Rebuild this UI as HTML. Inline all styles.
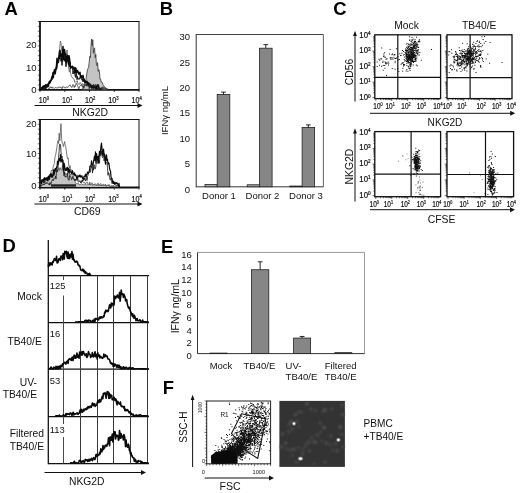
<!DOCTYPE html>
<html><head><meta charset="utf-8"><title>Figure</title>
<style>
html,body{margin:0;padding:0;background:#fff;}
body{width:520px;height:493px;overflow:hidden;font-family:"Liberation Sans",sans-serif;}
svg{display:block;filter:blur(0.3px);}
svg text{font-family:"Liberation Sans",sans-serif;}
</style></head><body>
<svg width="520" height="493" viewBox="0 0 520 493">
<defs><filter id="b1" x="-5%" y="-5%" width="110%" height="110%"><feGaussianBlur stdDeviation="0.8"/></filter><filter id="b2" x="-5%" y="-5%" width="110%" height="110%"><feGaussianBlur stdDeviation="0.45"/></filter></defs>
<rect width="520" height="493" fill="#fff"/>
<text transform="translate(4.6,14.8) scale(1.03,1)" x="0" y="0" font-size="17.9" font-weight="bold" fill="#000">A</text>
<text transform="translate(159.8,15.2) scale(1.03,1)" x="0" y="0" font-size="17.9" font-weight="bold" fill="#000">B</text>
<text transform="translate(333.3,14.7) scale(1.03,1)" x="0" y="0" font-size="17.9" font-weight="bold" fill="#000">C</text>
<text transform="translate(2.6,252.2) scale(1.03,1)" x="0" y="0" font-size="17.9" font-weight="bold" fill="#000">D</text>
<text transform="translate(161,252.7) scale(1.03,1)" x="0" y="0" font-size="17.9" font-weight="bold" fill="#000">E</text>
<text transform="translate(162.7,393.6) scale(1.03,1)" x="0" y="0" font-size="17.9" font-weight="bold" fill="#000">F</text>
<line x1="40" y1="21.0" x2="40" y2="90.6" stroke="#111" stroke-width="1.8"/>
<line x1="39.2" y1="21.5" x2="139.5" y2="21.5" stroke="#111" stroke-width="1.2"/>
<line x1="139" y1="21.5" x2="139" y2="89.8" stroke="#111" stroke-width="1.0"/>
<line x1="39" y1="89.8" x2="139.5" y2="89.8" stroke="#111" stroke-width="1.8"/>
<line x1="37.8" y1="21.5" x2="40" y2="21.5" stroke="#111" stroke-width="0.6"/>
<line x1="37.8" y1="26.378571428571426" x2="40" y2="26.378571428571426" stroke="#111" stroke-width="0.6"/>
<line x1="37.8" y1="31.257142857142856" x2="40" y2="31.257142857142856" stroke="#111" stroke-width="0.6"/>
<line x1="37.8" y1="36.135714285714286" x2="40" y2="36.135714285714286" stroke="#111" stroke-width="0.6"/>
<line x1="37.8" y1="41.01428571428571" x2="40" y2="41.01428571428571" stroke="#111" stroke-width="0.6"/>
<line x1="37.8" y1="45.89285714285714" x2="40" y2="45.89285714285714" stroke="#111" stroke-width="0.6"/>
<line x1="37.8" y1="50.77142857142857" x2="40" y2="50.77142857142857" stroke="#111" stroke-width="0.6"/>
<line x1="37.8" y1="55.65" x2="40" y2="55.65" stroke="#111" stroke-width="0.6"/>
<line x1="37.8" y1="60.528571428571425" x2="40" y2="60.528571428571425" stroke="#111" stroke-width="0.6"/>
<line x1="37.8" y1="65.40714285714284" x2="40" y2="65.40714285714284" stroke="#111" stroke-width="0.6"/>
<line x1="37.8" y1="70.28571428571428" x2="40" y2="70.28571428571428" stroke="#111" stroke-width="0.6"/>
<line x1="37.8" y1="75.16428571428571" x2="40" y2="75.16428571428571" stroke="#111" stroke-width="0.6"/>
<line x1="37.8" y1="80.04285714285714" x2="40" y2="80.04285714285714" stroke="#111" stroke-width="0.6"/>
<line x1="37.8" y1="84.92142857142858" x2="40" y2="84.92142857142858" stroke="#111" stroke-width="0.6"/>
<line x1="37.8" y1="89.8" x2="40" y2="89.8" stroke="#111" stroke-width="0.6"/>
<line x1="40.0" y1="89.8" x2="40.0" y2="92.0" stroke="#111" stroke-width="0.8"/>
<line x1="64.75" y1="89.8" x2="64.75" y2="92.0" stroke="#111" stroke-width="0.8"/>
<line x1="89.5" y1="89.8" x2="89.5" y2="92.0" stroke="#111" stroke-width="0.8"/>
<line x1="114.25" y1="89.8" x2="114.25" y2="92.0" stroke="#111" stroke-width="0.8"/>
<line x1="139.0" y1="89.8" x2="139.0" y2="92.0" stroke="#111" stroke-width="0.8"/>
<text x="36.7" y="48.0" font-size="9.6" text-anchor="end" font-weight="normal" fill="#111" >20</text>
<text x="36.7" y="71.0" font-size="9.6" text-anchor="end" font-weight="normal" fill="#111" >10</text>
<text x="36.7" y="92.80000000000001" font-size="9.6" text-anchor="end" font-weight="normal" fill="#111" >0</text>
<text transform="translate(43.9,102.8) scale(0.76,1)" x="0" y="0" font-size="9.4" text-anchor="middle" fill="#111" stroke="#111" stroke-width="0.22">10<tspan dy="-3.2" font-size="5.45">0</tspan></text>
<text transform="translate(67.10000000000001,102.8) scale(0.76,1)" x="0" y="0" font-size="9.4" text-anchor="middle" fill="#111" stroke="#111" stroke-width="0.22">10<tspan dy="-3.2" font-size="5.45">1</tspan></text>
<text transform="translate(90.2,102.8) scale(0.76,1)" x="0" y="0" font-size="9.4" text-anchor="middle" fill="#111" stroke="#111" stroke-width="0.22">10<tspan dy="-3.2" font-size="5.45">2</tspan></text>
<text transform="translate(113.4,102.8) scale(0.76,1)" x="0" y="0" font-size="9.4" text-anchor="middle" fill="#111" stroke="#111" stroke-width="0.22">10<tspan dy="-3.2" font-size="5.45">3</tspan></text>
<text transform="translate(136.70000000000002,102.8) scale(0.76,1)" x="0" y="0" font-size="9.4" text-anchor="middle" fill="#111" stroke="#111" stroke-width="0.22">10<tspan dy="-3.2" font-size="5.45">4</tspan></text>
<line x1="34.5" y1="105.5" x2="140.5" y2="105.5" stroke="#111" stroke-width="1"/>
<path d="M142.5 105.5 L137.5 103.0 L137.5 108.0 Z" fill="#111"/>
<text x="90.2" y="116.2" font-size="10.4" text-anchor="middle" font-weight="normal" fill="#111" >NKG2D</text>
<polyline points="82,89.2 82,89.2 82.6,88.29 83.2,88.19 83.8,87.34 84.4,85.57 85.0,82.93 85.6,82.45 86.2,77.73 86.8,74.13 87.4,69.82 88.0,68.57 88.6,67.46 89.2,62.19 89.8,56.33 90.4,57.71 91.0,45.51 91.6,38.99 92.2,45.85 92.8,39.79 93.4,53.21 94.0,48.86 94.6,47.86 95.2,57.66 95.8,54.45 96.4,64.36 97.0,65.77 97.6,62.66 98.2,71.49 98.8,69.49 99.4,71.53 100.0,79.2 100.6,79.1 101.2,82.08 101.8,81.9 102.4,82.82 103.0,85.15 103.6,85.72 104.2,86.12 104.8,87.86 105.4,87.64 106.0,87.95 106.6,88.71 107.2,88.94 107.8,89.14 107.8,89.2" fill="#c4c4c4" stroke="#333" stroke-width="0.8" stroke-linejoin="round"/>
<polyline points="40,88.01 40.6,87.4 41.2,89.2 41.8,88.16 42.4,86.49 43.0,88.43 43.6,87.14 44.2,86.65 44.8,87.01 45.4,85.28 46.0,85.32 46.6,86.87 47.2,86.91 47.8,84.47 48.4,83.29 49.0,82.37 49.6,82.87 50.2,80.45 50.8,79.79 51.4,77.61 52.0,78.6 52.6,79.15 53.2,76.77 53.8,73.8 54.4,70.95 55.0,70.63 55.6,67.75 56.2,67.98 56.8,62.91 57.4,63.36 58.0,60.01 58.6,59.67 59.2,57.25 59.8,47.52 60.4,41.08 61.0,43.3 61.6,50.11 62.2,58.05 62.8,61.51 63.4,57.81 64.0,58.97 64.6,60.88 65.2,54.53 65.8,53.22 66.4,57.67 67.0,49.92 67.6,59.1 68.2,61.22 68.8,69.01 69.4,72.19 70.0,68.56 70.6,72.8 71.2,75.83 71.8,76.93 72.4,77.34 73.0,78.61 73.6,78.89 74.2,79.36 74.8,82.45 75.4,82.12 76.0,81.42 76.6,81.46 77.2,80.68 77.8,83.16 78.4,84.14 79.0,84.0 79.6,84.24 80.2,82.58 80.8,83.61 81.4,84.87 82.0,83.58 82.6,83.66 83.2,84.63 83.8,84.22 84.4,85.88 85.0,85.3 85.6,84.86 86.2,84.76 86.8,85.48 87.4,85.21 88.0,86.16 88.6,85.51 89.2,86.1 89.8,85.32 90.4,85.9 91.0,85.37 91.6,85.91 92.2,86.02 92.8,86.62 93.4,87.04 94.0,85.95 94.6,87.21 95.2,87.0 95.8,88.65 96.4,87.36 97.0,88.28 97.6,87.87 98.2,87.77 98.8,88.41 99.4,87.99 100.0,88.11 100.6,89.2 101.2,89.2 101.8,89.2 102.4,89.2 103.0,89.2 103.6,88.64 104.2,88.97 104.8,89.06 105.4,89.13 106.0,89.2" fill="none" stroke="#555" stroke-width="0.8" stroke-linejoin="round"/>
<polyline points="40,88.91 40.5,88.19 41.0,88.74 41.5,89.2 42.0,88.24 42.5,89.07 43.0,86.38 43.5,88.32 44.0,85.69 44.5,86.25 45.0,88.54 45.5,84.88 46.0,87.4 46.5,85.92 47.0,84.62 47.5,84.34 48.0,85.73 48.5,83.82 49.0,82.46 49.5,81.34 50.0,82.96 50.5,80.53 51.0,80.25 51.5,79.71 52.0,76.34 52.5,76.58 53.0,72.48 53.5,72.92 54.0,72.08 54.5,69.73 55.0,73.92 55.5,69.49 56.0,69.31 56.5,65.57 57.0,58.35 57.5,63.61 58.0,59.41 58.5,62.17 59.0,56.12 59.5,50.96 60.0,56.18 60.5,53.59 61.0,54.18 61.5,57.14 62.0,54.1 62.5,55.64 63.0,46.61 63.5,59.45 64.0,54.95 64.5,49.59 65.0,53.35 65.5,53.76 66.0,62.61 66.5,57.91 67.0,60.93 67.5,55.22 68.0,60.56 68.5,63.9 69.0,55.63 69.5,58.57 70.0,62.5 70.5,68.49 71.0,67.24 71.5,67.51 72.0,66.38 72.5,66.34 73.0,67.36 73.5,68.73 74.0,67.45 74.5,72.82 75.0,72.68 75.5,67.78 76.0,68.63 76.5,73.05 77.0,71.28 77.5,70.54 78.0,71.61 78.5,73.25 79.0,74.14 79.5,72.74 80.0,72.25 80.5,76.89 81.0,76.07 81.5,75.87 82.0,77.78 82.5,78.08 83.0,75.42 83.5,78.0 84.0,79.21 84.5,81.02 85.0,80.59 85.5,81.37 86.0,82.28 86.5,81.95 87.0,81.42 87.5,83.7 88.0,84.01 88.5,82.86 89.0,83.42 89.5,84.83 90.0,84.48 90.5,84.42 91.0,85.79 91.5,87.85 92.0,85.73 92.5,85.68 93.0,85.84 93.5,86.23 94.0,88.18 94.5,86.0 95.0,86.43 95.5,86.25 96.0,87.65 96.5,88.62 97.0,86.12 97.5,86.41 98.0,84.7 98.5,86.03 99.0,88.13 99.5,88.91 100.0,88.93 100.5,88.99 101.0,89.06 101.5,89.12 102.0,89.2" fill="none" stroke="#0a0a0a" stroke-width="1.5" stroke-linejoin="round"/>
<polyline points="40,88.88 40.5,89.2 41.0,89.2 41.5,87.02 42.0,88.41 42.5,88.12 43.0,87.18 43.5,89.14 44.0,88.46 44.5,87.85 45.0,88.42 45.5,88.23 46.0,86.72 46.5,87.08 47.0,85.86 47.5,86.14 48.0,85.77 48.5,86.93 49.0,83.19 49.5,83.78 50.0,81.32 50.5,82.01 51.0,81.3 51.5,80.84 52.0,79.07 52.5,78.62 53.0,74.69 53.5,78.12 54.0,73.0 54.5,72.23 55.0,68.94 55.5,73.55 56.0,69.65 56.5,67.87 57.0,68.37 57.5,61.76 58.0,62.31 58.5,56.98 59.0,55.77 59.5,59.08 60.0,49.81 60.5,57.21 61.0,61.33 61.5,57.21 62.0,65.4 62.5,56.43 63.0,55.58 63.5,56.12 64.0,53.36 64.5,61.23 65.0,57.92 65.5,58.44 66.0,66.73 66.5,62.22 67.0,56.25 67.5,60.92 68.0,57.01 68.5,60.41 69.0,65.59 69.5,67.01 70.0,62.26 70.5,65.06 71.0,66.99 71.5,67.59 72.0,66.39 72.5,67.08 73.0,74.03 73.5,71.64 74.0,72.15 74.5,69.16 75.0,75.54 75.5,77.4 76.0,73.76 76.5,73.51 77.0,79.6 77.5,76.57 78.0,79.09 78.5,78.71 79.0,79.54 79.5,78.95 80.0,77.29 80.5,78.32 81.0,75.78 81.5,78.25 82.0,80.25 82.5,79.19 83.0,81.9 83.5,79.32 84.0,80.1 84.5,82.93 85.0,83.28 85.5,82.7 86.0,83.13 86.5,85.52 87.0,84.95 87.5,83.32 88.0,84.53 88.5,86.18 89.0,85.42 89.5,87.02 90.0,86.87 90.5,87.15 91.0,87.36 91.5,86.24 92.0,88.35 92.5,87.24 93.0,88.66 93.5,87.43 94.0,87.69 94.5,87.62 95.0,87.44 95.5,89.2 96.0,89.2 96.5,88.94 97.0,87.47 97.5,89.2 98.0,89.01 98.5,89.05 99.0,89.09 99.5,89.14 100.0,89.2" fill="none" stroke="#0a0a0a" stroke-width="1.0" stroke-linejoin="round"/>
<polyline points="40,89.03 40.6,87.71 41.2,87.16 41.8,88.55 42.4,89.2 43.0,88.49 43.6,88.06 44.2,89.02 44.8,88.05 45.4,87.37 46.0,89.0 46.6,88.33 47.2,87.45 47.8,87.48 48.4,88.45 49.0,88.14 49.6,88.48 50.2,86.74 50.8,87.9 51.4,88.07 52.0,86.82 52.6,88.17 53.2,88.07 53.8,87.66 54.4,88.23 55.0,87.7 55.6,87.52 56.2,87.34 56.8,88.27 57.4,87.82 58.0,88.03 58.6,87.49 59.2,86.73 59.8,87.74 60.4,87.45 61.0,86.94 61.6,88.37 62.2,88.74 62.8,86.43 63.4,87.04 64.0,87.39 64.6,87.29 65.2,88.23 65.8,87.21 66.4,86.94 67.0,87.27 67.6,87.71 68.2,86.73 68.8,85.79 69.4,85.57 70.0,84.77 70.6,86.25 71.2,86.54 71.8,87.52 72.4,86.0 73.0,84.46 73.6,85.06 74.2,87.56 74.8,85.74 75.4,86.48 76.0,83.39 76.6,83.33 77.2,85.28 77.8,85.59 78.4,88.59 79.0,88.79 79.6,86.66 80.2,85.56 80.8,85.49 81.4,85.69 82.0,84.64 82.6,87.49 83.2,85.56 83.8,88.41 84.4,84.66 85.0,85.16 85.6,85.5 86.2,86.09 86.8,84.0 87.4,85.04 88.0,86.16 88.6,84.05 89.2,88.9 89.8,85.92 90.4,83.7 91.0,87.0 91.6,84.96 92.2,86.03 92.8,86.43 93.4,84.11 94.0,86.52 94.6,87.55 95.2,84.24 95.8,85.12 96.4,85.75 97.0,84.54 97.6,86.25 98.2,86.87 98.8,87.84 99.4,88.35 100.0,88.13 100.6,87.86 101.2,89.01 101.8,87.2 102.4,88.91 103.0,86.68 103.6,88.49 104.2,88.62 104.8,88.38 105.4,88.08 106.0,89.03 106.6,89.11 107.2,88.87 107.8,89.18" fill="none" stroke="#222" stroke-width="0.7" stroke-linejoin="round"/>
<line x1="40" y1="119.0" x2="40" y2="188.3" stroke="#111" stroke-width="1.8"/>
<line x1="39.2" y1="119.5" x2="139.5" y2="119.5" stroke="#111" stroke-width="1.2"/>
<line x1="139" y1="119.5" x2="139" y2="187.5" stroke="#111" stroke-width="1.0"/>
<line x1="39" y1="187.5" x2="139.5" y2="187.5" stroke="#111" stroke-width="1.8"/>
<line x1="37.8" y1="119.5" x2="40" y2="119.5" stroke="#111" stroke-width="0.6"/>
<line x1="37.8" y1="124.35714285714286" x2="40" y2="124.35714285714286" stroke="#111" stroke-width="0.6"/>
<line x1="37.8" y1="129.21428571428572" x2="40" y2="129.21428571428572" stroke="#111" stroke-width="0.6"/>
<line x1="37.8" y1="134.07142857142858" x2="40" y2="134.07142857142858" stroke="#111" stroke-width="0.6"/>
<line x1="37.8" y1="138.92857142857142" x2="40" y2="138.92857142857142" stroke="#111" stroke-width="0.6"/>
<line x1="37.8" y1="143.78571428571428" x2="40" y2="143.78571428571428" stroke="#111" stroke-width="0.6"/>
<line x1="37.8" y1="148.64285714285714" x2="40" y2="148.64285714285714" stroke="#111" stroke-width="0.6"/>
<line x1="37.8" y1="153.5" x2="40" y2="153.5" stroke="#111" stroke-width="0.6"/>
<line x1="37.8" y1="158.35714285714286" x2="40" y2="158.35714285714286" stroke="#111" stroke-width="0.6"/>
<line x1="37.8" y1="163.21428571428572" x2="40" y2="163.21428571428572" stroke="#111" stroke-width="0.6"/>
<line x1="37.8" y1="168.07142857142856" x2="40" y2="168.07142857142856" stroke="#111" stroke-width="0.6"/>
<line x1="37.8" y1="172.92857142857144" x2="40" y2="172.92857142857144" stroke="#111" stroke-width="0.6"/>
<line x1="37.8" y1="177.78571428571428" x2="40" y2="177.78571428571428" stroke="#111" stroke-width="0.6"/>
<line x1="37.8" y1="182.64285714285714" x2="40" y2="182.64285714285714" stroke="#111" stroke-width="0.6"/>
<line x1="37.8" y1="187.5" x2="40" y2="187.5" stroke="#111" stroke-width="0.6"/>
<line x1="40.0" y1="187.5" x2="40.0" y2="189.7" stroke="#111" stroke-width="0.8"/>
<line x1="64.75" y1="187.5" x2="64.75" y2="189.7" stroke="#111" stroke-width="0.8"/>
<line x1="89.5" y1="187.5" x2="89.5" y2="189.7" stroke="#111" stroke-width="0.8"/>
<line x1="114.25" y1="187.5" x2="114.25" y2="189.7" stroke="#111" stroke-width="0.8"/>
<line x1="139.0" y1="187.5" x2="139.0" y2="189.7" stroke="#111" stroke-width="0.8"/>
<text x="36.7" y="126.60000000000001" font-size="9.6" text-anchor="end" font-weight="normal" fill="#111" >20</text>
<text x="36.7" y="157.4" font-size="9.6" text-anchor="end" font-weight="normal" fill="#111" >10</text>
<text x="36.7" y="188.70000000000002" font-size="9.6" text-anchor="end" font-weight="normal" fill="#111" >0</text>
<text transform="translate(43.9,201.5) scale(0.76,1)" x="0" y="0" font-size="9.4" text-anchor="middle" fill="#111" stroke="#111" stroke-width="0.22">10<tspan dy="-3.2" font-size="5.45">0</tspan></text>
<text transform="translate(67.10000000000001,201.5) scale(0.76,1)" x="0" y="0" font-size="9.4" text-anchor="middle" fill="#111" stroke="#111" stroke-width="0.22">10<tspan dy="-3.2" font-size="5.45">1</tspan></text>
<text transform="translate(90.2,201.5) scale(0.76,1)" x="0" y="0" font-size="9.4" text-anchor="middle" fill="#111" stroke="#111" stroke-width="0.22">10<tspan dy="-3.2" font-size="5.45">2</tspan></text>
<text transform="translate(113.4,201.5) scale(0.76,1)" x="0" y="0" font-size="9.4" text-anchor="middle" fill="#111" stroke="#111" stroke-width="0.22">10<tspan dy="-3.2" font-size="5.45">3</tspan></text>
<text transform="translate(136.70000000000002,201.5) scale(0.76,1)" x="0" y="0" font-size="9.4" text-anchor="middle" fill="#111" stroke="#111" stroke-width="0.22">10<tspan dy="-3.2" font-size="5.45">4</tspan></text>
<line x1="34.5" y1="204" x2="140.5" y2="204" stroke="#111" stroke-width="1"/>
<path d="M142.5 204 L137.5 201.5 L137.5 206.5 Z" fill="#111"/>
<text x="87.2" y="214.6" font-size="10.4" text-anchor="middle" font-weight="normal" fill="#111" >CD69</text>
<polyline points="41,187 41,183.85 41.6,182.59 42.2,183.39 42.8,182.66 43.4,182.41 44.0,182.68 44.6,181.31 45.2,179.74 45.8,179.74 46.4,179.15 47.0,177.88 47.6,180.22 48.2,176.25 48.8,177.67 49.4,179.03 50.0,175.84 50.6,176.93 51.2,174.06 51.8,172.76 52.4,177.08 53.0,177.23 53.6,174.26 54.2,174.43 54.8,172.11 55.4,172.25 56.0,169.61 56.6,170.15 57.2,169.67 57.8,170.75 58.4,168.39 59.0,167.73 59.6,170.23 60.2,167.83 60.8,168.4 61.4,169.92 62.0,169.39 62.6,164.83 63.2,171.23 63.8,172.45 64.4,166.51 65.0,174.08 65.6,173.61 66.2,174.81 66.8,173.42 67.4,173.68 68.0,170.79 68.6,171.91 69.2,171.67 69.8,175.89 70.4,174.34 71.0,174.97 71.6,173.42 72.2,174.35 72.8,174.72 73.4,175.87 74.0,178.03 74.6,179.96 75.2,181.71 75.8,183.34 76.4,183.67 77.0,183.07 77.6,183.7 78.2,183.77 78.8,183.81 79.4,184.77 80.0,184.63 80.6,184.61 81.2,184.04 81.8,183.72 82.4,184.54 83.0,184.41 83.6,184.66 84.2,184.73 84.8,184.63 85.4,184.12 86.0,185.01 86.6,185.2 87.2,184.69 87.8,184.54 88.4,183.92 89.0,184.69 89.6,184.34 90.2,185.05 90.8,184.76 91.4,184.22 92.0,185.21 92.6,185.35 93.2,184.58 93.8,184.67 94.4,184.14 95.0,185.54 95.6,185.04 96.2,185.07 96.8,185.85 97.4,184.58 98.0,184.86 98.6,185.6 99.2,185.27 99.8,184.95 100.4,185.64 101.0,184.91 101.6,185.42 102.2,185.33 102.8,185.02 103.4,185.91 104.0,185.34 104.6,185.45 105.2,185.25 105.8,186.1 106.4,185.94 107.0,186.25 107.6,185.3 108.2,185.37 108.8,185.9 109.4,186.27 110.0,185.8 110.6,186.49 111.2,186.42 111.8,186.9 112.4,186.21 113.0,186.74 113.6,186.89 113.6,187" fill="#c4c4c4" stroke="#555" stroke-width="0.8" stroke-linejoin="round"/>
<polyline points="40,182.36 40.6,183.57 41.2,181.38 41.8,181.65 42.4,181.91 43.0,182.61 43.6,181.89 44.2,181.96 44.8,179.2 45.4,181.84 46.0,180.07 46.6,179.7 47.2,178.58 47.8,177.96 48.4,177.92 49.0,177.33 49.6,174.33 50.2,174.96 50.8,173.07 51.4,170.09 52.0,171.01 52.6,170.33 53.2,166.42 53.8,164.86 54.4,163.56 55.0,156.76 55.6,155.03 56.2,152.03 56.8,147.7 57.4,143.51 58.0,140.51 58.6,143.56 59.2,133.19 59.8,140.77 60.4,131.73 61.0,123.7 61.6,138.33 62.2,143.31 62.8,143.74 63.4,146.51 64.0,144.09 64.6,141.5 65.2,145.12 65.8,147.12 66.4,151.26 67.0,156.18 67.6,158.65 68.2,157.89 68.8,165.69 69.4,168.31 70.0,165.47 70.6,170.56 71.2,169.57 71.8,172.58 72.4,174.63 73.0,172.85 73.6,175.21 74.2,174.44 74.8,175.81 75.4,175.75 76.0,175.64 76.6,176.86 77.2,177.1 77.8,178.43 78.4,180.15 79.0,180.57 79.6,180.69 80.2,180.65 80.8,183.14 81.4,180.28 82.0,180.47 82.6,180.98 83.2,181.88 83.8,182.82 84.4,182.37 85.0,183.19 85.6,184.09 86.2,182.57 86.8,182.14 87.4,182.23 88.0,183.98 88.6,184.51 89.2,184.65 89.8,182.07 90.4,184.71 91.0,183.69 91.6,182.85 92.2,182.89 92.8,184.93 93.4,184.89 94.0,184.15 94.6,184.32 95.2,183.79 95.8,184.33 96.4,184.57 97.0,184.03 97.6,183.5 98.2,183.14 98.8,185.66 99.4,184.7 100.0,184.08 100.6,183.49 101.2,186.05 101.8,185.03 102.4,185.39 103.0,184.07 103.6,184.51 104.2,185.73 104.8,184.99 105.4,184.04 106.0,186.12 106.6,186.1 107.2,184.99 107.8,185.13 108.4,184.68 109.0,185.84 109.6,184.6 110.2,186.6 110.8,186.32 111.4,185.82 112.0,185.56 112.6,186.82 113.2,184.99 113.8,186.0 114.4,186.77 115.0,186.77 115.6,186.91" fill="none" stroke="#555" stroke-width="0.8" stroke-linejoin="round"/>
<polyline points="40,181.66 40.5,182.55 41.0,180.9 41.5,183.58 42.0,179.5 42.5,181.36 43.0,180.2 43.5,178.92 44.0,182.77 44.5,177.59 45.0,178.49 45.5,179.48 46.0,178.19 46.5,177.81 47.0,180.37 47.5,177.68 48.0,180.95 48.5,176.03 49.0,177.59 49.5,179.36 50.0,175.16 50.5,173.99 51.0,176.43 51.5,174.31 52.0,177.42 52.5,176.05 53.0,174.59 53.5,169.74 54.0,175.16 54.5,171.27 55.0,168.83 55.5,168.64 56.0,170.9 56.5,166.75 57.0,167.84 57.5,161.05 58.0,164.63 58.5,162.87 59.0,159.2 59.5,158.35 60.0,160.81 60.5,154.51 61.0,162.08 61.5,160.38 62.0,159.25 62.5,161.25 63.0,160.24 63.5,170.33 64.0,163.06 64.5,165.2 65.0,169.11 65.5,170.45 66.0,168.79 66.5,170.4 67.0,167.31 67.5,167.73 68.0,171.54 68.5,168.36 69.0,173.04 69.5,169.6 70.0,171.97 70.5,171.59 71.0,172.07 71.5,173.45 72.0,172.39 72.5,170.58 73.0,173.05 73.5,173.95 74.0,174.25 74.5,172.87 75.0,175.55 75.5,174.66 76.0,175.51 76.5,177.44 77.0,179.26 77.5,177.68 78.0,175.41 78.5,176.55 79.0,176.96 79.5,175.82 80.0,174.91 80.5,177.05 81.0,175.98 81.5,176.89 82.0,175.79 82.5,178.34 83.0,178.04 83.5,179.46 84.0,176.43 84.5,176.04 85.0,176.52 85.5,174.01 86.0,176.04 86.5,174.5 87.0,174.52 87.5,172.03 88.0,172.73 88.5,173.19 89.0,171.62 89.5,170.07 90.0,166.13 90.5,166.18 91.0,166.06 91.5,160.95 92.0,164.22 92.5,165.09 93.0,165.39 93.5,161.3 94.0,159.19 94.5,156.0 95.0,160.54 95.5,151.92 96.0,163.07 96.5,153.66 97.0,156.64 97.5,159.77 98.0,156.62 98.5,162.43 99.0,155.49 99.5,151.25 100.0,155.65 100.5,151.14 101.0,145.95 101.5,143.06 102.0,148.65 102.5,155.08 103.0,155.08 103.5,149.08 104.0,153.87 104.5,154.05 105.0,160.23 105.5,164.14 106.0,155.95 106.5,154.85 107.0,160.47 107.5,159.2 108.0,164.13 108.5,162.68 109.0,163.64 109.5,168.21 110.0,170.42 110.5,170.97 111.0,176.86 111.5,178.77 112.0,178.46 112.5,181.45 113.0,183.43 113.5,181.21 114.0,182.45 114.5,184.01 115.0,182.35 115.5,183.05 116.0,183.99 116.5,182.74 117.0,183.07 117.5,183.44 118.0,184.53 118.5,185.37 119.0,183.33 119.5,186.97 120.0,187" fill="none" stroke="#0a0a0a" stroke-width="1.2" stroke-linejoin="round"/>
<polyline points="40,185.19 40.5,185.39 41.0,186.0 41.5,185.28 42.0,185.14 42.5,184.89 43.0,184.68 43.5,183.85 44.0,185.04 44.5,183.8 45.0,183.69 45.5,183.64 46.0,182.37 46.5,183.51 47.0,182.61 47.5,182.89 48.0,183.83 48.5,184.11 49.0,183.66 49.5,185.18 50.0,182.59 50.5,184.22 51.0,184.02 51.5,181.28 52.0,180.73 52.5,179.4 53.0,180.77 53.5,180.44 54.0,178.2 54.5,178.22 55.0,177.6 55.5,176.11 56.0,179.12 56.5,170.96 57.0,172.04 57.5,171.73 58.0,168.53 58.5,157.45 59.0,153.02 59.5,144.26 60.0,144.15 60.5,144.54 61.0,152.08 61.5,158.25 62.0,155.99 62.5,162.65 63.0,163.94 63.5,171.42 64.0,175.75 64.5,172.25 65.0,177.13 65.5,176.7 66.0,176.52 66.5,177.14 67.0,176.07 67.5,173.25 68.0,179.17 68.5,179.06 69.0,180.38 69.5,175.97 70.0,175.81 70.5,176.82 71.0,177.67 71.5,179.59 72.0,179.35 72.5,176.59 73.0,177.83 73.5,179.07 74.0,179.92 74.5,179.72 75.0,180.98 75.5,179.09 76.0,180.61 76.5,177.06 77.0,179.11 77.5,178.24 78.0,181.83 78.5,182.1 79.0,182.03 79.5,181.39 80.0,181.66 80.5,182.15 81.0,182.88 81.5,181.25 82.0,182.11 82.5,179.73 83.0,180.84 83.5,179.35 84.0,180.02 84.5,177.96 85.0,180.09 85.5,181.09 86.0,177.94 86.5,175.56 87.0,180.49 87.5,176.6 88.0,175.14 88.5,173.5 89.0,173.06 89.5,171.71 90.0,172.02 90.5,172.1 91.0,165.68 91.5,167.41 92.0,165.98 92.5,173.09 93.0,166.27 93.5,170.23 94.0,164.73 94.5,166.61 95.0,169.15 95.5,168.52 96.0,164.77 96.5,159.15 97.0,160.23 97.5,160.03 98.0,163.86 98.5,159.74 99.0,159.72 99.5,163.34 100.0,153.91 100.5,152.23 101.0,154.38 101.5,151.09 102.0,156.19 102.5,157.67 103.0,156.82 103.5,152.5 104.0,160.73 104.5,158.98 105.0,156.71 105.5,162.14 106.0,162.32 106.5,162.45 107.0,163.59 107.5,167.16 108.0,175.35 108.5,172.51 109.0,173.12 109.5,177.44 110.0,179.48 110.5,180.16 111.0,178.38 111.5,180.46 112.0,183.57 112.5,182.43 113.0,183.05 113.5,184.01 114.0,183.17 114.5,184.58 115.0,184.31 115.5,185.37 116.0,185.64 116.5,185.81 117.0,184.88 117.5,184.85 118.0,185.85 118.5,186.76 119.0,187" fill="none" stroke="#111" stroke-width="0.8" stroke-linejoin="round"/>
<rect x="51" y="184.3" width="25" height="2.4" fill="#222"/>
<line x1="196.2" y1="34.5" x2="323.4" y2="34.5" stroke="#444" stroke-width="1"/>
<line x1="323.4" y1="34.5" x2="323.4" y2="186.8" stroke="#666" stroke-width="1"/>
<line x1="196.2" y1="34.0" x2="196.2" y2="187.3" stroke="#333" stroke-width="1"/>
<line x1="196.2" y1="186.8" x2="323.4" y2="186.8" stroke="#333" stroke-width="1"/>
<text x="190.0" y="192.50000000000003" font-size="9.5" text-anchor="end" font-weight="normal" fill="#111" >0</text>
<text x="190.0" y="167.1166666666667" font-size="9.5" text-anchor="end" font-weight="normal" fill="#111" >5</text>
<text x="190.0" y="141.73333333333335" font-size="9.5" text-anchor="end" font-weight="normal" fill="#111" >10</text>
<text x="190.0" y="116.35000000000001" font-size="9.5" text-anchor="end" font-weight="normal" fill="#111" >15</text>
<text x="190.0" y="90.96666666666667" font-size="9.5" text-anchor="end" font-weight="normal" fill="#111" >20</text>
<text x="190.0" y="65.58333333333334" font-size="9.5" text-anchor="end" font-weight="normal" fill="#111" >25</text>
<text x="190.0" y="40.199999999999996" font-size="9.5" text-anchor="end" font-weight="normal" fill="#111" >30</text>
<rect x="205.0" y="184.5155" width="12.2" height="2.2845000000000084" fill="#a8a8a8" stroke="#222" stroke-width="0.8"/>
<rect x="217.2" y="94.40466666666667" width="12.6" height="92.39533333333334" fill="#868686" stroke="#222" stroke-width="0.8"/>
<line x1="223.5" y1="94.40466666666667" x2="223.5" y2="92.12016666666668" stroke="#111" stroke-width="0.9"/>
<line x1="221.1" y1="92.12016666666668" x2="225.9" y2="92.12016666666668" stroke="#111" stroke-width="0.9"/>
<rect x="247.2" y="184.76933333333335" width="12.3" height="2.0306666666666615" fill="#a8a8a8" stroke="#222" stroke-width="0.8"/>
<rect x="259.5" y="48.206999999999994" width="12.6" height="138.59300000000002" fill="#868686" stroke="#222" stroke-width="0.8"/>
<line x1="265.8" y1="48.206999999999994" x2="265.8" y2="44.65333333333333" stroke="#111" stroke-width="0.9"/>
<line x1="263.40000000000003" y1="44.65333333333333" x2="268.2" y2="44.65333333333333" stroke="#111" stroke-width="0.9"/>
<rect x="289.8" y="186.0385" width="12.3" height="0.7615000000000123" fill="#a8a8a8" stroke="#222" stroke-width="0.8"/>
<rect x="302.1" y="127.40300000000002" width="12.5" height="59.39699999999999" fill="#868686" stroke="#222" stroke-width="0.8"/>
<line x1="308.35" y1="127.40300000000002" x2="308.35" y2="124.8646666666667" stroke="#111" stroke-width="0.9"/>
<line x1="305.95000000000005" y1="124.8646666666667" x2="310.75" y2="124.8646666666667" stroke="#111" stroke-width="0.9"/>
<text x="219" y="199.4" font-size="9.5" text-anchor="middle" font-weight="normal" fill="#111" >Donor 1</text>
<text x="262.5" y="199.4" font-size="9.5" text-anchor="middle" font-weight="normal" fill="#111" >Donor 2</text>
<text x="306" y="199.4" font-size="9.5" text-anchor="middle" font-weight="normal" fill="#111" >Donor 3</text>
<text x="168.2" y="110.5" font-size="9.5" text-anchor="middle" font-weight="normal" fill="#111" transform="rotate(-90 168.2 110.5)" >IFNγ ng/mL</text>
<text x="406.5" y="28.6" font-size="10.3" text-anchor="middle" font-weight="normal" fill="#111" >Mock</text>
<text x="479.2" y="28.6" font-size="10.3" text-anchor="middle" font-weight="normal" fill="#111" >TB40/E</text>
<rect x="374.8" y="34.8" width="65.80000000000001" height="63.8" fill="none" stroke="#111" stroke-width="1.3"/>
<line x1="397.8" y1="34.8" x2="397.8" y2="98.6" stroke="#111" stroke-width="1.2"/>
<line x1="374.8" y1="77.4" x2="440.6" y2="77.4" stroke="#111" stroke-width="1.2"/>
<path d="M375.8 98.6v2.3M374.8 97.6h-2.3M380.6 98.6v1.5M374.8 92.9h-1.5M383.4 98.6v1.5M374.8 90.2h-1.5M385.4 98.6v1.5M374.8 88.3h-1.5M386.9 98.6v1.5M374.8 86.8h-1.5M388.2 98.6v1.5M374.8 85.6h-1.5M389.3 98.6v1.5M374.8 84.5h-1.5M390.2 98.6v1.5M374.8 83.6h-1.5M391.0 98.6v1.5M374.8 82.9h-1.5M391.8 98.6v2.3M374.8 82.1h-2.3M396.6 98.6v1.5M374.8 77.5h-1.5M399.4 98.6v1.5M374.8 74.8h-1.5M401.4 98.6v1.5M374.8 72.8h-1.5M402.9 98.6v1.5M374.8 71.4h-1.5M404.2 98.6v1.5M374.8 70.1h-1.5M405.2 98.6v1.5M374.8 69.1h-1.5M406.2 98.6v1.5M374.8 68.2h-1.5M407.0 98.6v1.5M374.8 67.4h-1.5M407.7 98.6v2.3M374.8 66.7h-2.3M412.5 98.6v1.5M374.8 62.0h-1.5M415.3 98.6v1.5M374.8 59.3h-1.5M417.3 98.6v1.5M374.8 57.4h-1.5M418.8 98.6v1.5M374.8 55.9h-1.5M420.1 98.6v1.5M374.8 54.7h-1.5M421.2 98.6v1.5M374.8 53.6h-1.5M422.1 98.6v1.5M374.8 52.7h-1.5M422.9 98.6v1.5M374.8 52.0h-1.5M423.7 98.6v2.3M374.8 51.2h-2.3M428.5 98.6v1.5M374.8 46.6h-1.5M431.3 98.6v1.5M374.8 43.9h-1.5M433.3 98.6v1.5M374.8 41.9h-1.5M434.8 98.6v1.5M374.8 40.5h-1.5M436.1 98.6v1.5M374.8 39.2h-1.5M437.1 98.6v1.5M374.8 38.2h-1.5M438.1 98.6v1.5M374.8 37.3h-1.5M438.9 98.6v1.5M374.8 36.5h-1.5" stroke="#111" stroke-width="0.6" fill="none"/>
<rect x="447.0" y="34.8" width="65.0" height="63.8" fill="none" stroke="#111" stroke-width="1.3"/>
<line x1="470.1" y1="34.8" x2="470.1" y2="98.6" stroke="#111" stroke-width="1.2"/>
<line x1="447.0" y1="77.6" x2="512" y2="77.6" stroke="#111" stroke-width="1.2"/>
<path d="M448.0 98.6v2.3M447.0 97.6h-2.3M452.7 98.6v1.5M447.0 92.9h-1.5M455.5 98.6v1.5M447.0 90.2h-1.5M457.5 98.6v1.5M447.0 88.3h-1.5M459.0 98.6v1.5M447.0 86.8h-1.5M460.3 98.6v1.5M447.0 85.6h-1.5M461.3 98.6v1.5M447.0 84.5h-1.5M462.2 98.6v1.5M447.0 83.6h-1.5M463.0 98.6v1.5M447.0 82.9h-1.5M463.8 98.6v2.3M447.0 82.1h-2.3M468.5 98.6v1.5M447.0 77.5h-1.5M471.3 98.6v1.5M447.0 74.8h-1.5M473.2 98.6v1.5M447.0 72.8h-1.5M474.8 98.6v1.5M447.0 71.4h-1.5M476.0 98.6v1.5M447.0 70.1h-1.5M477.1 98.6v1.5M447.0 69.1h-1.5M478.0 98.6v1.5M447.0 68.2h-1.5M478.8 98.6v1.5M447.0 67.4h-1.5M479.5 98.6v2.3M447.0 66.7h-2.3M484.2 98.6v1.5M447.0 62.0h-1.5M487.0 98.6v1.5M447.0 59.3h-1.5M489.0 98.6v1.5M447.0 57.4h-1.5M490.5 98.6v1.5M447.0 55.9h-1.5M491.8 98.6v1.5M447.0 54.7h-1.5M492.8 98.6v1.5M447.0 53.6h-1.5M493.7 98.6v1.5M447.0 52.7h-1.5M494.5 98.6v1.5M447.0 52.0h-1.5M495.2 98.6v2.3M447.0 51.2h-2.3M500.0 98.6v1.5M447.0 46.6h-1.5M502.8 98.6v1.5M447.0 43.9h-1.5M504.7 98.6v1.5M447.0 41.9h-1.5M506.3 98.6v1.5M447.0 40.5h-1.5M507.5 98.6v1.5M447.0 39.2h-1.5M508.6 98.6v1.5M447.0 38.2h-1.5M509.5 98.6v1.5M447.0 37.3h-1.5M510.3 98.6v1.5M447.0 36.5h-1.5" stroke="#111" stroke-width="0.6" fill="none"/>
<rect x="374.8" y="131.6" width="65.80000000000001" height="65.1" fill="none" stroke="#111" stroke-width="1.3"/>
<line x1="411.1" y1="131.6" x2="411.1" y2="196.7" stroke="#111" stroke-width="1.2"/>
<line x1="374.8" y1="174.1" x2="440.6" y2="174.1" stroke="#111" stroke-width="1.2"/>
<path d="M375.8 196.7v2.3M374.8 195.7h-2.3M380.6 196.7v1.5M374.8 191.0h-1.5M383.4 196.7v1.5M374.8 188.2h-1.5M385.4 196.7v1.5M374.8 186.2h-1.5M386.9 196.7v1.5M374.8 184.7h-1.5M388.2 196.7v1.5M374.8 183.4h-1.5M389.3 196.7v1.5M374.8 182.4h-1.5M390.2 196.7v1.5M374.8 181.5h-1.5M391.0 196.7v1.5M374.8 180.6h-1.5M391.8 196.7v2.3M374.8 179.9h-2.3M396.6 196.7v1.5M374.8 175.2h-1.5M399.4 196.7v1.5M374.8 172.4h-1.5M401.4 196.7v1.5M374.8 170.4h-1.5M402.9 196.7v1.5M374.8 168.9h-1.5M404.2 196.7v1.5M374.8 167.6h-1.5M405.2 196.7v1.5M374.8 166.6h-1.5M406.2 196.7v1.5M374.8 165.7h-1.5M407.0 196.7v1.5M374.8 164.9h-1.5M407.7 196.7v2.3M374.8 164.1h-2.3M412.5 196.7v1.5M374.8 159.4h-1.5M415.3 196.7v1.5M374.8 156.6h-1.5M417.3 196.7v1.5M374.8 154.7h-1.5M418.8 196.7v1.5M374.8 153.1h-1.5M420.1 196.7v1.5M374.8 151.9h-1.5M421.2 196.7v1.5M374.8 150.8h-1.5M422.1 196.7v1.5M374.8 149.9h-1.5M422.9 196.7v1.5M374.8 149.1h-1.5M423.7 196.7v2.3M374.8 148.4h-2.3M428.5 196.7v1.5M374.8 143.6h-1.5M431.3 196.7v1.5M374.8 140.8h-1.5M433.3 196.7v1.5M374.8 138.9h-1.5M434.8 196.7v1.5M374.8 137.3h-1.5M436.1 196.7v1.5M374.8 136.1h-1.5M437.1 196.7v1.5M374.8 135.0h-1.5M438.1 196.7v1.5M374.8 134.1h-1.5M438.9 196.7v1.5M374.8 133.3h-1.5" stroke="#111" stroke-width="0.6" fill="none"/>
<rect x="447.0" y="131.6" width="66.60000000000002" height="65.1" fill="none" stroke="#111" stroke-width="1.3"/>
<line x1="485.5" y1="131.6" x2="485.5" y2="196.7" stroke="#111" stroke-width="1.2"/>
<line x1="447.0" y1="174.5" x2="513.6" y2="174.5" stroke="#111" stroke-width="1.2"/>
<path d="M448.0 196.7v2.3M447.0 195.7h-2.3M452.9 196.7v1.5M447.0 191.0h-1.5M455.7 196.7v1.5M447.0 188.2h-1.5M457.7 196.7v1.5M447.0 186.2h-1.5M459.3 196.7v1.5M447.0 184.7h-1.5M460.6 196.7v1.5M447.0 183.4h-1.5M461.6 196.7v1.5M447.0 182.4h-1.5M462.6 196.7v1.5M447.0 181.5h-1.5M463.4 196.7v1.5M447.0 180.6h-1.5M464.1 196.7v2.3M447.0 179.9h-2.3M469.0 196.7v1.5M447.0 175.2h-1.5M471.9 196.7v1.5M447.0 172.4h-1.5M473.9 196.7v1.5M447.0 170.4h-1.5M475.4 196.7v1.5M447.0 168.9h-1.5M476.7 196.7v1.5M447.0 167.6h-1.5M477.8 196.7v1.5M447.0 166.6h-1.5M478.7 196.7v1.5M447.0 165.7h-1.5M479.6 196.7v1.5M447.0 164.9h-1.5M480.3 196.7v2.3M447.0 164.1h-2.3M485.2 196.7v1.5M447.0 159.4h-1.5M488.0 196.7v1.5M447.0 156.6h-1.5M490.0 196.7v1.5M447.0 154.7h-1.5M491.6 196.7v1.5M447.0 153.1h-1.5M492.9 196.7v1.5M447.0 151.9h-1.5M493.9 196.7v1.5M447.0 150.8h-1.5M494.9 196.7v1.5M447.0 149.9h-1.5M495.7 196.7v1.5M447.0 149.1h-1.5M496.5 196.7v2.3M447.0 148.4h-2.3M501.3 196.7v1.5M447.0 143.6h-1.5M504.2 196.7v1.5M447.0 140.8h-1.5M506.2 196.7v1.5M447.0 138.9h-1.5M507.7 196.7v1.5M447.0 137.3h-1.5M509.0 196.7v1.5M447.0 136.1h-1.5M510.1 196.7v1.5M447.0 135.0h-1.5M511.0 196.7v1.5M447.0 134.1h-1.5M511.9 196.7v1.5M447.0 133.3h-1.5" stroke="#111" stroke-width="0.6" fill="none"/>
<text transform="translate(370.6,37.7) scale(0.95,1)" x="0" y="0" font-size="8.2" text-anchor="end" fill="#111" stroke="#111" stroke-width="0.22">10<tspan dy="-2.7" font-size="4.92">4</tspan></text>
<text transform="translate(370.6,53.2) scale(0.95,1)" x="0" y="0" font-size="8.2" text-anchor="end" fill="#111" stroke="#111" stroke-width="0.22">10<tspan dy="-2.7" font-size="4.92">3</tspan></text>
<text transform="translate(370.6,68.6) scale(0.95,1)" x="0" y="0" font-size="8.2" text-anchor="end" fill="#111" stroke="#111" stroke-width="0.22">10<tspan dy="-2.7" font-size="4.92">2</tspan></text>
<text transform="translate(370.6,84.4) scale(0.95,1)" x="0" y="0" font-size="8.2" text-anchor="end" fill="#111" stroke="#111" stroke-width="0.22">10<tspan dy="-2.7" font-size="4.92">1</tspan></text>
<text transform="translate(370.6,100.2) scale(0.95,1)" x="0" y="0" font-size="8.2" text-anchor="end" fill="#111" stroke="#111" stroke-width="0.22">10<tspan dy="-2.7" font-size="4.92">0</tspan></text>
<text transform="translate(370.6,134.5) scale(0.95,1)" x="0" y="0" font-size="8.2" text-anchor="end" fill="#111" stroke="#111" stroke-width="0.22">10<tspan dy="-2.7" font-size="4.92">4</tspan></text>
<text transform="translate(370.6,150.4) scale(0.95,1)" x="0" y="0" font-size="8.2" text-anchor="end" fill="#111" stroke="#111" stroke-width="0.22">10<tspan dy="-2.7" font-size="4.92">3</tspan></text>
<text transform="translate(370.6,166.1) scale(0.95,1)" x="0" y="0" font-size="8.2" text-anchor="end" fill="#111" stroke="#111" stroke-width="0.22">10<tspan dy="-2.7" font-size="4.92">2</tspan></text>
<text transform="translate(370.6,182) scale(0.95,1)" x="0" y="0" font-size="8.2" text-anchor="end" fill="#111" stroke="#111" stroke-width="0.22">10<tspan dy="-2.7" font-size="4.92">1</tspan></text>
<text transform="translate(370.6,198.0) scale(0.95,1)" x="0" y="0" font-size="8.2" text-anchor="end" fill="#111" stroke="#111" stroke-width="0.22">10<tspan dy="-2.7" font-size="4.92">0</tspan></text>
<text transform="translate(378,109) scale(0.72,1)" x="0" y="0" font-size="9.0" text-anchor="middle" fill="#111" stroke="#111" stroke-width="0.22">10<tspan dy="-3.0" font-size="5.22">0</tspan></text>
<text transform="translate(390.1,109) scale(0.72,1)" x="0" y="0" font-size="9.0" text-anchor="middle" fill="#111" stroke="#111" stroke-width="0.22">10<tspan dy="-3.0" font-size="5.22">1</tspan></text>
<text transform="translate(406,109) scale(0.72,1)" x="0" y="0" font-size="9.0" text-anchor="middle" fill="#111" stroke="#111" stroke-width="0.22">10<tspan dy="-3.0" font-size="5.22">2</tspan></text>
<text transform="translate(421.3,109) scale(0.72,1)" x="0" y="0" font-size="9.0" text-anchor="middle" fill="#111" stroke="#111" stroke-width="0.22">10<tspan dy="-3.0" font-size="5.22">3</tspan></text>
<text transform="translate(437.9,109) scale(0.72,1)" x="0" y="0" font-size="9.0" text-anchor="middle" fill="#111" stroke="#111" stroke-width="0.22">10<tspan dy="-3.0" font-size="5.22">4</tspan></text>
<text transform="translate(447.3,109) scale(0.72,1)" x="0" y="0" font-size="9.0" text-anchor="middle" fill="#111" stroke="#111" stroke-width="0.22">10<tspan dy="-3.0" font-size="5.22">0</tspan></text>
<text transform="translate(462,109) scale(0.72,1)" x="0" y="0" font-size="9.0" text-anchor="middle" fill="#111" stroke="#111" stroke-width="0.22">10<tspan dy="-3.0" font-size="5.22">1</tspan></text>
<text transform="translate(481.1,109) scale(0.72,1)" x="0" y="0" font-size="9.0" text-anchor="middle" fill="#111" stroke="#111" stroke-width="0.22">10<tspan dy="-3.0" font-size="5.22">2</tspan></text>
<text transform="translate(496.6,109) scale(0.72,1)" x="0" y="0" font-size="9.0" text-anchor="middle" fill="#111" stroke="#111" stroke-width="0.22">10<tspan dy="-3.0" font-size="5.22">3</tspan></text>
<text transform="translate(511.3,109) scale(0.72,1)" x="0" y="0" font-size="9.0" text-anchor="middle" fill="#111" stroke="#111" stroke-width="0.22">10<tspan dy="-3.0" font-size="5.22">4</tspan></text>
<text transform="translate(374.2,206.6) scale(0.72,1)" x="0" y="0" font-size="9.0" text-anchor="middle" fill="#111" stroke="#111" stroke-width="0.22">10<tspan dy="-3.0" font-size="5.22">0</tspan></text>
<text transform="translate(388.4,206.6) scale(0.72,1)" x="0" y="0" font-size="9.0" text-anchor="middle" fill="#111" stroke="#111" stroke-width="0.22">10<tspan dy="-3.0" font-size="5.22">1</tspan></text>
<text transform="translate(405.3,206.6) scale(0.72,1)" x="0" y="0" font-size="9.0" text-anchor="middle" fill="#111" stroke="#111" stroke-width="0.22">10<tspan dy="-3.0" font-size="5.22">2</tspan></text>
<text transform="translate(421.3,206.6) scale(0.72,1)" x="0" y="0" font-size="9.0" text-anchor="middle" fill="#111" stroke="#111" stroke-width="0.22">10<tspan dy="-3.0" font-size="5.22">3</tspan></text>
<text transform="translate(436.8,206.6) scale(0.72,1)" x="0" y="0" font-size="9.0" text-anchor="middle" fill="#111" stroke="#111" stroke-width="0.22">10<tspan dy="-3.0" font-size="5.22">4</tspan></text>
<text transform="translate(447.8,206.6) scale(0.72,1)" x="0" y="0" font-size="9.0" text-anchor="middle" fill="#111" stroke="#111" stroke-width="0.22">10<tspan dy="-3.0" font-size="5.22">0</tspan></text>
<text transform="translate(464.1,206.6) scale(0.72,1)" x="0" y="0" font-size="9.0" text-anchor="middle" fill="#111" stroke="#111" stroke-width="0.22">10<tspan dy="-3.0" font-size="5.22">1</tspan></text>
<text transform="translate(481.1,206.6) scale(0.72,1)" x="0" y="0" font-size="9.0" text-anchor="middle" fill="#111" stroke="#111" stroke-width="0.22">10<tspan dy="-3.0" font-size="5.22">2</tspan></text>
<text transform="translate(496.6,206.6) scale(0.72,1)" x="0" y="0" font-size="9.0" text-anchor="middle" fill="#111" stroke="#111" stroke-width="0.22">10<tspan dy="-3.0" font-size="5.22">3</tspan></text>
<text transform="translate(511.3,206.6) scale(0.72,1)" x="0" y="0" font-size="9.0" text-anchor="middle" fill="#111" stroke="#111" stroke-width="0.22">10<tspan dy="-3.0" font-size="5.22">4</tspan></text>
<line x1="370" y1="113.3" x2="513.2" y2="113.3" stroke="#111" stroke-width="1"/>
<path d="M515.2 113.3 L510.20000000000005 110.8 L510.20000000000005 115.8 Z" fill="#111"/>
<line x1="370" y1="209.7" x2="513" y2="209.7" stroke="#111" stroke-width="1"/>
<path d="M515 209.7 L510 207.2 L510 212.2 Z" fill="#111"/>
<line x1="355.0" y1="101.6" x2="355.0" y2="33.7" stroke="#111" stroke-width="1"/>
<path d="M355.0 30.7 L353.1 35.9 L356.9 35.9 Z" fill="#111"/>
<line x1="355.0" y1="201.6" x2="355.0" y2="131.2" stroke="#111" stroke-width="1"/>
<path d="M355.0 128.2 L353.1 133.39999999999998 L356.9 133.39999999999998 Z" fill="#111"/>
<text x="445" y="126.4" font-size="10.1" text-anchor="middle" font-weight="normal" fill="#111" >NKG2D</text>
<text x="441.5" y="222.8" font-size="10.4" text-anchor="middle" font-weight="normal" fill="#111" >CFSE</text>
<text x="353" y="72" font-size="10.4" text-anchor="middle" font-weight="normal" fill="#111" transform="rotate(-90 353 72)" >CD56</text>
<text x="353" y="166.6" font-size="10.4" text-anchor="middle" font-weight="normal" fill="#111" transform="rotate(-90 353 166.6)" >NKG2D</text>
<path d="M412.2 60.5h1v1h-1zM407.9 53.3h1v1h-1zM411.1 62.7h1v1h-1zM411.2 51.0h1v1h-1zM407.9 56.7h1v1h-1zM412.7 55.1h1v1h-1zM409.1 55.6h1v1h-1zM410.6 52.9h1v1h-1zM410.1 57.2h1v1h-1zM414.6 54.2h1v1h-1zM412.7 51.0h1v1h-1zM412.4 55.9h1v1h-1zM408.6 56.6h1v1h-1zM412.6 53.9h1v1h-1zM412.9 61.1h1v1h-1zM414.5 60.9h1v1h-1zM406.6 58.8h1v1h-1zM408.2 60.6h1v1h-1zM410.3 56.9h1v1h-1zM411.4 53.3h1v1h-1zM410.4 53.1h1v1h-1zM415.8 52.1h1v1h-1zM410.1 49.1h1v1h-1zM406.0 54.3h1v1h-1zM412.3 58.4h1v1h-1zM410.9 53.3h1v1h-1zM415.2 50.1h1v1h-1zM407.7 58.9h1v1h-1zM407.4 58.2h1v1h-1zM412.8 54.8h1v1h-1zM411.2 55.8h1v1h-1zM408.2 44.1h1v1h-1zM406.7 57.3h1v1h-1zM405.6 55.6h1v1h-1zM410.7 61.2h1v1h-1zM406.3 55.4h1v1h-1zM410.7 58.0h1v1h-1zM406.3 65.0h1v1h-1zM407.8 61.3h1v1h-1zM409.5 58.0h1v1h-1zM414.7 57.2h1v1h-1zM410.5 51.9h1v1h-1zM408.3 51.1h1v1h-1zM415.7 47.8h1v1h-1zM403.0 65.4h1v1h-1zM413.6 53.3h1v1h-1zM412.4 51.9h1v1h-1zM408.5 58.7h1v1h-1zM411.2 53.9h1v1h-1zM414.6 57.4h1v1h-1zM410.5 51.2h1v1h-1zM410.5 54.7h1v1h-1zM409.9 59.4h1v1h-1zM408.5 57.8h1v1h-1zM412.3 56.7h1v1h-1zM416.5 46.7h1v1h-1zM409.9 51.4h1v1h-1zM409.9 66.3h1v1h-1zM405.5 56.6h1v1h-1zM411.9 55.8h1v1h-1zM412.6 48.9h1v1h-1zM412.8 51.2h1v1h-1zM406.7 59.6h1v1h-1zM411.4 52.6h1v1h-1zM407.8 56.1h1v1h-1zM410.0 55.4h1v1h-1zM407.3 47.8h1v1h-1zM413.7 55.4h1v1h-1zM406.6 51.0h1v1h-1zM408.1 55.1h1v1h-1zM404.1 63.9h1v1h-1zM411.2 54.3h1v1h-1zM411.0 56.6h1v1h-1zM413.0 55.6h1v1h-1zM413.6 61.0h1v1h-1zM409.2 54.6h1v1h-1zM407.6 56.0h1v1h-1zM408.0 56.8h1v1h-1zM410.9 57.9h1v1h-1zM406.8 61.6h1v1h-1zM409.2 55.9h1v1h-1zM408.6 48.5h1v1h-1zM410.8 48.6h1v1h-1zM413.1 55.1h1v1h-1zM414.4 57.0h1v1h-1zM412.0 61.0h1v1h-1zM409.9 62.3h1v1h-1zM409.7 57.2h1v1h-1zM408.2 58.9h1v1h-1zM411.9 53.3h1v1h-1zM406.5 57.2h1v1h-1zM411.2 55.0h1v1h-1zM407.3 54.1h1v1h-1zM409.3 45.7h1v1h-1zM408.4 62.5h1v1h-1zM406.5 56.5h1v1h-1zM414.7 57.1h1v1h-1zM412.6 54.5h1v1h-1zM406.3 69.1h1v1h-1zM410.9 56.7h1v1h-1zM414.6 57.6h1v1h-1zM410.2 51.5h1v1h-1zM409.6 55.6h1v1h-1zM408.1 53.2h1v1h-1zM407.2 56.6h1v1h-1zM408.4 58.3h1v1h-1zM412.8 56.2h1v1h-1zM410.1 62.3h1v1h-1zM411.8 49.4h1v1h-1zM408.0 57.6h1v1h-1zM407.6 60.0h1v1h-1zM405.1 50.1h1v1h-1zM412.8 57.3h1v1h-1zM405.6 58.0h1v1h-1zM413.8 50.1h1v1h-1zM406.7 52.3h1v1h-1zM407.3 50.0h1v1h-1zM408.7 50.7h1v1h-1zM410.2 65.0h1v1h-1zM407.1 60.8h1v1h-1zM413.3 45.4h1v1h-1zM410.3 55.9h1v1h-1zM409.1 59.6h1v1h-1zM408.8 57.9h1v1h-1zM408.9 55.9h1v1h-1zM407.8 66.0h1v1h-1zM409.9 51.5h1v1h-1zM415.4 60.4h1v1h-1zM409.5 53.6h1v1h-1zM408.0 61.8h1v1h-1zM409.1 53.5h1v1h-1zM412.4 54.0h1v1h-1zM409.9 63.9h1v1h-1zM412.4 60.1h1v1h-1zM411.2 60.8h1v1h-1zM409.5 60.1h1v1h-1zM412.9 53.2h1v1h-1zM406.4 59.5h1v1h-1zM409.7 58.6h1v1h-1zM408.3 58.8h1v1h-1zM412.7 64.6h1v1h-1zM415.0 55.7h1v1h-1zM414.0 52.0h1v1h-1zM413.3 55.3h1v1h-1zM413.7 56.0h1v1h-1zM409.4 53.4h1v1h-1zM413.5 54.9h1v1h-1zM412.0 57.2h1v1h-1zM404.3 60.6h1v1h-1zM409.0 58.0h1v1h-1zM411.3 48.2h1v1h-1zM409.1 56.1h1v1h-1zM411.1 59.4h1v1h-1zM408.1 55.8h1v1h-1zM411.7 47.9h1v1h-1zM415.2 50.2h1v1h-1zM413.7 55.2h1v1h-1zM415.3 58.3h1v1h-1zM409.9 49.2h1v1h-1zM410.4 57.2h1v1h-1zM411.5 50.3h1v1h-1zM407.7 53.7h1v1h-1zM410.8 52.2h1v1h-1zM409.7 59.9h1v1h-1zM408.8 61.9h1v1h-1zM410.8 54.7h1v1h-1zM413.1 56.9h1v1h-1zM409.2 53.9h1v1h-1zM409.9 57.4h1v1h-1zM413.2 55.9h1v1h-1zM408.3 51.3h1v1h-1zM410.7 57.3h1v1h-1zM413.2 52.7h1v1h-1zM406.4 60.7h1v1h-1zM409.5 51.3h1v1h-1zM414.6 57.9h1v1h-1zM410.2 57.1h1v1h-1zM407.9 60.8h1v1h-1zM408.8 54.6h1v1h-1zM409.2 51.7h1v1h-1zM412.9 61.7h1v1h-1zM412.1 46.9h1v1h-1zM409.2 53.7h1v1h-1zM411.0 47.0h1v1h-1zM404.0 56.4h1v1h-1zM412.7 54.2h1v1h-1zM416.1 50.3h1v1h-1zM410.1 55.4h1v1h-1zM407.7 61.4h1v1h-1zM406.3 53.1h1v1h-1zM409.0 54.5h1v1h-1zM413.1 52.7h1v1h-1zM411.4 53.6h1v1h-1zM413.6 54.6h1v1h-1zM410.7 49.1h1v1h-1zM412.0 52.7h1v1h-1zM412.5 57.1h1v1h-1zM411.5 60.0h1v1h-1zM411.1 52.1h1v1h-1zM410.4 56.5h1v1h-1zM406.7 59.7h1v1h-1zM414.1 55.5h1v1h-1zM410.3 57.8h1v1h-1zM413.1 52.7h1v1h-1zM412.7 52.0h1v1h-1zM411.5 57.5h1v1h-1zM406.4 60.0h1v1h-1zM410.6 49.0h1v1h-1zM408.8 53.9h1v1h-1zM407.5 58.6h1v1h-1zM407.8 57.0h1v1h-1zM407.0 56.1h1v1h-1zM415.1 55.8h1v1h-1zM405.7 53.8h1v1h-1zM409.6 49.6h1v1h-1zM412.7 54.8h1v1h-1zM409.8 56.3h1v1h-1zM408.1 52.1h1v1h-1zM401.4 52.7h1v1h-1zM410.7 58.5h1v1h-1zM409.5 48.8h1v1h-1zM409.1 56.5h1v1h-1zM406.4 62.9h1v1h-1zM406.9 57.2h1v1h-1zM407.0 60.8h1v1h-1zM406.5 53.7h1v1h-1zM413.1 49.8h1v1h-1zM408.5 58.7h1v1h-1zM411.0 48.6h1v1h-1zM411.7 54.2h1v1h-1z" fill="#111"/>
<path d="M416.2 44.1h1v1h-1zM411.5 37.1h1v1h-1zM410.1 63.3h1v1h-1zM418.0 41.1h1v1h-1zM408.0 52.3h1v1h-1zM398.3 71.1h1v1h-1zM413.6 55.2h1v1h-1zM415.2 48.2h1v1h-1zM411.5 58.5h1v1h-1zM413.9 47.8h1v1h-1zM404.8 60.3h1v1h-1zM412.3 44.3h1v1h-1zM415.6 55.0h1v1h-1zM412.5 52.7h1v1h-1zM413.0 62.0h1v1h-1zM409.1 64.4h1v1h-1zM411.7 55.5h1v1h-1zM417.5 51.2h1v1h-1zM412.5 48.1h1v1h-1zM410.6 54.1h1v1h-1zM408.2 49.4h1v1h-1zM414.7 58.7h1v1h-1zM406.5 50.4h1v1h-1zM414.2 59.5h1v1h-1zM406.0 52.6h1v1h-1zM415.8 64.5h1v1h-1zM415.0 42.5h1v1h-1zM416.4 49.8h1v1h-1zM409.2 56.6h1v1h-1zM406.3 49.7h1v1h-1zM397.5 68.2h1v1h-1zM411.7 49.4h1v1h-1zM410.7 52.6h1v1h-1zM408.2 49.1h1v1h-1zM409.1 36.2h1v1h-1zM403.0 54.4h1v1h-1zM416.8 53.4h1v1h-1zM414.2 56.5h1v1h-1zM409.6 55.9h1v1h-1zM410.5 49.9h1v1h-1zM410.4 56.1h1v1h-1zM408.5 48.8h1v1h-1zM411.5 53.0h1v1h-1zM411.5 60.8h1v1h-1zM411.5 52.6h1v1h-1zM407.7 46.8h1v1h-1zM413.1 56.4h1v1h-1zM413.0 55.8h1v1h-1zM408.1 57.4h1v1h-1zM411.5 57.3h1v1h-1zM408.7 62.5h1v1h-1zM415.4 43.8h1v1h-1zM410.2 53.4h1v1h-1zM412.9 61.2h1v1h-1zM403.3 64.4h1v1h-1zM413.7 48.2h1v1h-1zM408.0 58.8h1v1h-1zM409.6 50.5h1v1h-1zM409.0 68.2h1v1h-1zM402.2 70.7h1v1h-1zM403.7 64.7h1v1h-1zM408.5 54.8h1v1h-1zM407.8 52.1h1v1h-1zM416.6 44.5h1v1h-1zM400.5 55.0h1v1h-1zM399.3 53.2h1v1h-1zM409.9 48.9h1v1h-1zM408.1 67.5h1v1h-1zM420.8 59.7h1v1h-1zM417.7 52.4h1v1h-1zM407.1 49.7h1v1h-1zM405.7 49.8h1v1h-1zM408.2 58.7h1v1h-1zM416.7 53.1h1v1h-1zM413.7 46.7h1v1h-1zM413.3 46.0h1v1h-1zM410.3 66.0h1v1h-1zM412.3 50.7h1v1h-1zM413.2 47.1h1v1h-1zM411.1 46.8h1v1h-1zM414.6 50.6h1v1h-1zM410.9 55.1h1v1h-1zM411.8 54.7h1v1h-1zM410.9 51.5h1v1h-1zM413.0 55.3h1v1h-1zM415.4 60.2h1v1h-1zM417.3 50.1h1v1h-1zM409.0 57.0h1v1h-1zM411.2 61.3h1v1h-1zM410.6 60.1h1v1h-1zM406.2 60.9h1v1h-1zM409.4 47.9h1v1h-1zM405.0 48.6h1v1h-1zM408.3 65.7h1v1h-1zM415.0 54.9h1v1h-1zM409.1 56.7h1v1h-1zM405.8 43.6h1v1h-1zM406.3 55.7h1v1h-1zM406.5 48.4h1v1h-1zM406.0 46.7h1v1h-1zM408.2 46.0h1v1h-1zM410.6 41.1h1v1h-1zM407.1 47.7h1v1h-1zM408.4 57.7h1v1h-1zM406.7 54.6h1v1h-1zM407.7 55.2h1v1h-1zM412.5 49.9h1v1h-1zM414.7 44.5h1v1h-1zM418.4 41.2h1v1h-1zM412.2 57.2h1v1h-1zM417.1 49.5h1v1h-1zM413.5 54.3h1v1h-1zM413.7 54.9h1v1h-1zM411.6 53.4h1v1h-1zM415.4 52.8h1v1h-1zM409.3 45.3h1v1h-1zM407.4 45.4h1v1h-1zM415.2 59.0h1v1h-1zM405.8 55.2h1v1h-1zM415.3 48.7h1v1h-1zM407.4 43.1h1v1h-1zM407.9 54.7h1v1h-1zM411.9 57.8h1v1h-1zM412.2 58.9h1v1h-1zM417.5 54.6h1v1h-1zM411.3 42.5h1v1h-1zM412.9 55.1h1v1h-1zM417.9 40.7h1v1h-1zM409.2 39.4h1v1h-1zM411.5 58.2h1v1h-1zM405.8 58.5h1v1h-1zM408.3 58.2h1v1h-1zM411.6 48.2h1v1h-1zM403.1 51.0h1v1h-1zM412.9 57.1h1v1h-1zM407.8 58.4h1v1h-1zM418.5 41.6h1v1h-1zM411.7 54.3h1v1h-1zM406.1 50.4h1v1h-1zM419.3 51.9h1v1h-1zM414.6 44.5h1v1h-1zM413.0 54.3h1v1h-1zM414.1 41.9h1v1h-1zM400.6 63.7h1v1h-1zM417.1 52.6h1v1h-1zM414.6 39.3h1v1h-1zM416.3 56.4h1v1h-1zM404.7 52.0h1v1h-1zM416.8 65.3h1v1h-1zM412.7 51.2h1v1h-1zM405.2 52.9h1v1h-1zM406.7 57.1h1v1h-1zM411.1 64.3h1v1h-1zM405.6 55.0h1v1h-1zM406.8 54.6h1v1h-1zM416.7 42.6h1v1h-1zM410.2 59.3h1v1h-1zM404.3 54.0h1v1h-1zM418.9 39.2h1v1h-1zM418.8 54.4h1v1h-1zM416.4 50.9h1v1h-1zM410.9 48.4h1v1h-1zM410.7 55.6h1v1h-1zM402.5 61.9h1v1h-1zM418.1 49.3h1v1h-1zM402.4 67.8h1v1h-1zM405.9 52.3h1v1h-1zM408.5 67.5h1v1h-1zM403.7 58.9h1v1h-1z" fill="#111"/>
<path d="M411.5 39.3h1v1h-1zM410.2 43.5h1v1h-1zM405.5 50.3h1v1h-1zM413.6 45.6h1v1h-1zM413.8 46.3h1v1h-1zM412.8 46.1h1v1h-1zM416.2 45.7h1v1h-1zM412.4 47.6h1v1h-1zM414.4 45.1h1v1h-1zM415.2 47.6h1v1h-1zM410.0 47.1h1v1h-1zM415.1 41.1h1v1h-1zM418.2 46.8h1v1h-1zM414.1 41.0h1v1h-1zM412.5 41.9h1v1h-1zM419.2 41.1h1v1h-1zM416.1 36.8h1v1h-1zM414.4 47.7h1v1h-1zM413.3 38.6h1v1h-1zM412.7 45.0h1v1h-1zM412.9 43.0h1v1h-1zM413.9 43.7h1v1h-1zM410.5 45.0h1v1h-1zM416.7 46.3h1v1h-1zM410.9 44.0h1v1h-1zM419.1 40.4h1v1h-1zM415.9 42.6h1v1h-1zM417.1 44.5h1v1h-1zM417.8 47.1h1v1h-1zM413.9 45.6h1v1h-1zM413.3 47.0h1v1h-1zM413.7 40.7h1v1h-1zM412.5 48.3h1v1h-1zM416.1 44.6h1v1h-1zM412.0 39.4h1v1h-1zM415.0 44.7h1v1h-1zM409.3 43.8h1v1h-1zM417.4 44.3h1v1h-1zM413.8 45.2h1v1h-1zM415.2 46.2h1v1h-1zM412.5 44.3h1v1h-1zM409.2 39.8h1v1h-1zM413.5 43.0h1v1h-1zM411.3 40.6h1v1h-1zM417.1 44.2h1v1h-1z" fill="#111"/>
<path d="M390.5 59.1h1v1h-1zM410.3 63.2h1v1h-1zM388.3 62.8h1v1h-1zM383.5 55.5h1v1h-1zM390.6 57.2h1v1h-1zM392.5 58.7h1v1h-1zM381.2 47.5h1v1h-1zM386.5 58.2h1v1h-1zM393.4 54.6h1v1h-1zM385.4 63.6h1v1h-1zM392.0 53.6h1v1h-1zM397.4 56.1h1v1h-1zM395.2 58.1h1v1h-1zM384.1 52.2h1v1h-1zM386.1 75.0h1v1h-1zM382.7 69.7h1v1h-1zM396.0 57.6h1v1h-1zM394.6 68.7h1v1h-1zM384.9 56.7h1v1h-1zM394.6 62.2h1v1h-1zM401.5 62.8h1v1h-1zM379.2 59.7h1v1h-1zM378.9 64.8h1v1h-1zM391.8 57.4h1v1h-1zM381.0 65.7h1v1h-1zM384.4 67.7h1v1h-1zM380.3 58.3h1v1h-1zM383.3 53.5h1v1h-1zM405.6 70.6h1v1h-1zM382.7 65.0h1v1h-1zM394.4 57.9h1v1h-1zM384.6 61.6h1v1h-1zM390.2 57.8h1v1h-1zM381.2 58.4h1v1h-1zM384.1 65.0h1v1h-1zM387.6 61.5h1v1h-1zM384.4 56.8h1v1h-1zM386.3 58.2h1v1h-1zM376.7 66.0h1v1h-1zM393.4 56.8h1v1h-1zM391.4 54.2h1v1h-1zM378.5 58.8h1v1h-1zM397.7 59.5h1v1h-1zM376.7 61.6h1v1h-1zM383.2 55.6h1v1h-1zM389.6 49.1h1v1h-1zM394.6 60.8h1v1h-1zM383.1 55.9h1v1h-1zM391.7 68.1h1v1h-1zM382.3 61.9h1v1h-1zM403.4 64.1h1v1h-1zM385.0 62.4h1v1h-1zM388.0 64.5h1v1h-1zM389.7 57.2h1v1h-1zM386.5 62.7h1v1h-1zM382.6 60.8h1v1h-1z" fill="#111"/>
<path d="M431.0 48.9h1v1h-1zM408.9 57.4h1v1h-1zM394.4 54.3h1v1h-1zM398.8 59.0h1v1h-1zM409.6 70.1h1v1h-1zM407.4 70.8h1v1h-1zM410.0 60.7h1v1h-1zM401.9 49.9h1v1h-1zM385.5 58.7h1v1h-1zM402.4 62.7h1v1h-1zM408.3 46.9h1v1h-1zM395.9 48.3h1v1h-1zM416.2 58.3h1v1h-1zM405.7 50.4h1v1h-1zM389.1 53.6h1v1h-1zM403.0 63.9h1v1h-1zM386.2 62.6h1v1h-1zM394.0 54.1h1v1h-1zM400.2 55.1h1v1h-1zM409.6 68.0h1v1h-1z" fill="#111"/>
<path d="M466.9 48.5h1v1h-1zM473.8 68.3h1v1h-1zM470.3 61.4h1v1h-1zM473.6 58.1h1v1h-1zM471.8 60.3h1v1h-1zM467.5 49.0h1v1h-1zM461.8 61.7h1v1h-1zM470.3 55.2h1v1h-1zM459.5 58.3h1v1h-1zM468.2 51.4h1v1h-1zM465.5 67.4h1v1h-1zM473.7 57.8h1v1h-1zM469.7 53.4h1v1h-1zM467.1 59.9h1v1h-1zM465.2 56.2h1v1h-1zM474.9 47.4h1v1h-1zM465.4 65.7h1v1h-1zM470.0 56.3h1v1h-1zM465.2 50.5h1v1h-1zM473.2 41.8h1v1h-1zM470.3 52.6h1v1h-1zM468.1 46.2h1v1h-1zM472.0 57.5h1v1h-1zM469.6 57.6h1v1h-1zM463.2 58.9h1v1h-1zM470.4 54.9h1v1h-1zM456.1 60.2h1v1h-1zM468.9 50.5h1v1h-1zM468.7 62.1h1v1h-1zM468.1 62.4h1v1h-1zM466.4 53.3h1v1h-1zM469.5 51.3h1v1h-1zM461.8 60.2h1v1h-1zM468.5 58.8h1v1h-1zM465.1 55.2h1v1h-1zM470.4 52.9h1v1h-1zM467.6 57.4h1v1h-1zM465.5 58.3h1v1h-1zM462.7 60.6h1v1h-1zM479.0 55.0h1v1h-1zM466.9 48.8h1v1h-1zM463.9 56.4h1v1h-1zM465.5 59.5h1v1h-1zM469.1 59.5h1v1h-1zM467.6 60.2h1v1h-1zM473.9 49.6h1v1h-1zM468.1 55.5h1v1h-1zM468.2 61.6h1v1h-1zM467.2 52.2h1v1h-1zM463.2 51.0h1v1h-1zM468.1 60.4h1v1h-1zM468.7 52.1h1v1h-1zM467.9 51.9h1v1h-1zM472.5 55.1h1v1h-1zM474.2 57.0h1v1h-1zM471.0 50.6h1v1h-1zM470.5 53.4h1v1h-1zM466.4 57.7h1v1h-1zM474.9 56.0h1v1h-1zM476.5 56.3h1v1h-1zM463.3 55.6h1v1h-1zM476.0 56.1h1v1h-1zM469.0 53.8h1v1h-1zM469.3 57.9h1v1h-1zM467.0 56.5h1v1h-1zM469.8 50.6h1v1h-1zM467.7 53.1h1v1h-1zM466.3 52.9h1v1h-1zM466.3 53.2h1v1h-1zM475.5 52.8h1v1h-1zM470.1 51.9h1v1h-1zM469.3 58.1h1v1h-1zM474.9 62.0h1v1h-1zM467.0 65.3h1v1h-1zM469.1 61.8h1v1h-1zM468.5 59.8h1v1h-1zM468.4 50.0h1v1h-1zM471.0 54.0h1v1h-1zM468.3 57.6h1v1h-1zM470.8 67.1h1v1h-1zM464.7 55.5h1v1h-1zM465.2 63.5h1v1h-1zM467.7 53.9h1v1h-1zM470.6 56.0h1v1h-1zM470.9 48.6h1v1h-1zM468.9 59.0h1v1h-1zM466.6 62.9h1v1h-1zM468.5 52.8h1v1h-1zM467.2 59.3h1v1h-1zM472.8 52.5h1v1h-1zM471.0 53.8h1v1h-1zM465.4 53.0h1v1h-1zM471.6 53.1h1v1h-1zM469.4 63.7h1v1h-1zM472.6 52.9h1v1h-1zM467.7 57.9h1v1h-1zM460.8 62.4h1v1h-1zM466.0 60.7h1v1h-1zM466.1 55.7h1v1h-1zM471.9 58.0h1v1h-1zM475.6 51.4h1v1h-1zM466.5 64.1h1v1h-1zM470.8 50.0h1v1h-1zM467.0 58.8h1v1h-1zM466.9 50.2h1v1h-1zM468.9 58.2h1v1h-1zM473.6 59.5h1v1h-1zM471.8 51.3h1v1h-1zM464.2 53.2h1v1h-1zM470.9 59.5h1v1h-1zM461.6 61.5h1v1h-1zM472.1 61.9h1v1h-1zM471.6 59.5h1v1h-1zM469.6 54.5h1v1h-1zM468.2 56.2h1v1h-1zM464.4 57.3h1v1h-1zM472.5 53.2h1v1h-1zM473.4 50.3h1v1h-1zM470.3 51.9h1v1h-1zM472.7 57.9h1v1h-1zM472.3 58.5h1v1h-1zM470.6 60.6h1v1h-1zM469.4 44.5h1v1h-1zM469.2 58.3h1v1h-1zM460.0 64.9h1v1h-1zM468.4 61.0h1v1h-1zM467.6 57.4h1v1h-1zM465.5 56.2h1v1h-1zM462.7 59.6h1v1h-1zM467.2 53.7h1v1h-1zM465.8 52.7h1v1h-1zM468.5 55.6h1v1h-1zM467.5 62.8h1v1h-1zM464.5 55.7h1v1h-1zM463.6 56.8h1v1h-1zM467.9 47.9h1v1h-1zM469.9 46.1h1v1h-1zM466.5 55.5h1v1h-1zM463.6 64.3h1v1h-1zM469.2 49.7h1v1h-1zM470.0 57.3h1v1h-1zM466.4 53.0h1v1h-1zM472.1 65.4h1v1h-1zM469.5 65.6h1v1h-1zM462.0 50.9h1v1h-1zM468.9 53.0h1v1h-1zM469.5 64.3h1v1h-1zM464.6 59.6h1v1h-1zM468.4 50.1h1v1h-1zM467.7 51.1h1v1h-1z" fill="#111"/>
<path d="M449.9 68.0h1v1h-1zM466.1 54.5h1v1h-1zM470.9 51.6h1v1h-1zM482.1 59.6h1v1h-1zM462.8 62.7h1v1h-1zM453.5 62.3h1v1h-1zM471.7 62.9h1v1h-1zM467.7 51.8h1v1h-1zM466.1 50.4h1v1h-1zM465.3 54.7h1v1h-1zM457.3 63.3h1v1h-1zM480.1 65.1h1v1h-1zM460.6 56.4h1v1h-1zM455.8 55.9h1v1h-1zM464.8 60.8h1v1h-1zM460.0 58.8h1v1h-1zM454.1 56.4h1v1h-1zM474.4 64.8h1v1h-1zM467.8 58.4h1v1h-1zM465.3 54.3h1v1h-1zM453.9 62.1h1v1h-1zM454.4 61.4h1v1h-1zM453.8 58.8h1v1h-1zM476.8 60.1h1v1h-1zM462.5 59.7h1v1h-1zM450.7 64.7h1v1h-1zM456.9 54.3h1v1h-1zM457.4 59.1h1v1h-1zM457.5 55.2h1v1h-1zM466.9 58.7h1v1h-1zM473.2 61.5h1v1h-1zM472.9 50.8h1v1h-1zM463.9 60.9h1v1h-1zM470.4 55.6h1v1h-1zM468.2 63.6h1v1h-1zM455.7 54.2h1v1h-1zM456.5 60.0h1v1h-1zM454.2 59.1h1v1h-1zM459.4 53.0h1v1h-1zM448.7 72.1h1v1h-1zM473.3 62.8h1v1h-1zM450.4 64.2h1v1h-1zM460.3 51.5h1v1h-1zM458.6 56.0h1v1h-1zM476.2 57.5h1v1h-1zM462.8 60.7h1v1h-1zM467.0 50.8h1v1h-1zM472.5 58.4h1v1h-1zM471.3 66.5h1v1h-1zM460.5 71.0h1v1h-1zM460.5 56.8h1v1h-1zM461.6 55.1h1v1h-1zM458.7 61.7h1v1h-1zM471.9 61.1h1v1h-1zM461.1 54.6h1v1h-1zM466.8 55.5h1v1h-1zM478.7 61.8h1v1h-1zM460.8 61.1h1v1h-1zM464.9 53.7h1v1h-1zM460.6 50.1h1v1h-1zM460.6 64.1h1v1h-1zM459.4 67.9h1v1h-1zM461.6 62.4h1v1h-1zM467.0 54.2h1v1h-1zM454.1 61.5h1v1h-1zM469.6 57.4h1v1h-1zM462.1 42.8h1v1h-1zM458.0 63.7h1v1h-1zM471.7 59.3h1v1h-1zM457.0 63.6h1v1h-1zM460.9 62.7h1v1h-1zM474.9 51.9h1v1h-1zM461.1 59.8h1v1h-1zM466.4 58.4h1v1h-1zM470.2 62.5h1v1h-1zM458.8 58.1h1v1h-1zM471.6 51.5h1v1h-1zM458.7 47.3h1v1h-1zM456.3 69.5h1v1h-1zM480.3 54.4h1v1h-1zM478.0 59.5h1v1h-1zM466.8 57.4h1v1h-1zM472.8 49.5h1v1h-1zM475.3 58.4h1v1h-1zM463.8 48.9h1v1h-1zM482.8 61.1h1v1h-1zM466.0 58.7h1v1h-1zM471.7 55.1h1v1h-1zM466.5 62.5h1v1h-1zM458.5 55.5h1v1h-1zM473.3 52.8h1v1h-1zM457.2 62.0h1v1h-1zM480.4 66.7h1v1h-1zM456.4 70.6h1v1h-1zM453.4 57.3h1v1h-1zM467.3 63.3h1v1h-1zM470.1 60.7h1v1h-1zM449.2 51.3h1v1h-1zM463.9 61.3h1v1h-1zM464.0 55.1h1v1h-1zM466.1 63.5h1v1h-1zM477.8 60.9h1v1h-1zM458.8 59.1h1v1h-1zM464.3 69.7h1v1h-1zM466.7 62.7h1v1h-1zM472.0 58.6h1v1h-1zM459.0 50.0h1v1h-1zM458.5 63.3h1v1h-1zM470.5 47.3h1v1h-1zM460.5 58.9h1v1h-1zM469.8 55.4h1v1h-1zM460.5 58.5h1v1h-1zM466.9 58.0h1v1h-1zM457.0 57.5h1v1h-1zM464.2 54.9h1v1h-1zM462.1 57.2h1v1h-1zM450.9 69.3h1v1h-1zM462.7 62.7h1v1h-1zM478.9 58.5h1v1h-1zM456.9 58.8h1v1h-1zM457.1 57.0h1v1h-1zM469.4 53.6h1v1h-1zM468.1 59.0h1v1h-1zM475.8 59.7h1v1h-1zM470.4 61.0h1v1h-1zM460.0 57.0h1v1h-1zM455.9 52.8h1v1h-1zM480.1 50.9h1v1h-1zM472.7 56.1h1v1h-1zM454.5 59.4h1v1h-1zM470.3 62.6h1v1h-1zM472.5 57.0h1v1h-1zM466.8 54.2h1v1h-1zM457.1 62.6h1v1h-1zM470.6 56.2h1v1h-1zM463.3 54.9h1v1h-1zM463.5 51.8h1v1h-1zM464.5 57.8h1v1h-1zM461.8 69.5h1v1h-1zM457.0 60.2h1v1h-1zM468.8 53.2h1v1h-1zM470.3 52.6h1v1h-1zM466.4 58.6h1v1h-1zM474.9 47.9h1v1h-1zM475.5 71.9h1v1h-1zM468.2 51.8h1v1h-1zM464.4 51.2h1v1h-1zM469.5 58.3h1v1h-1zM453.9 68.7h1v1h-1zM461.1 66.5h1v1h-1zM460.3 56.3h1v1h-1zM453.2 60.8h1v1h-1zM461.9 53.1h1v1h-1zM477.4 55.7h1v1h-1zM479.3 58.1h1v1h-1zM448.4 51.3h1v1h-1zM464.8 67.1h1v1h-1zM461.3 52.8h1v1h-1zM456.4 64.5h1v1h-1zM475.1 55.6h1v1h-1zM455.4 52.3h1v1h-1zM468.8 51.3h1v1h-1zM462.5 56.6h1v1h-1zM476.7 46.1h1v1h-1zM453.8 55.6h1v1h-1zM472.5 54.2h1v1h-1zM470.9 52.9h1v1h-1zM472.6 53.6h1v1h-1zM453.2 57.2h1v1h-1zM455.5 59.8h1v1h-1zM463.9 62.3h1v1h-1zM466.4 70.4h1v1h-1zM449.4 65.5h1v1h-1zM456.9 55.9h1v1h-1zM457.4 60.5h1v1h-1zM459.9 62.3h1v1h-1zM461.6 63.4h1v1h-1zM482.1 58.1h1v1h-1zM465.6 53.1h1v1h-1zM464.3 56.4h1v1h-1zM455.0 54.0h1v1h-1zM479.4 46.0h1v1h-1zM451.3 52.8h1v1h-1zM461.9 55.8h1v1h-1zM466.0 59.4h1v1h-1zM463.3 51.8h1v1h-1zM457.3 63.7h1v1h-1zM471.5 54.8h1v1h-1zM466.9 53.1h1v1h-1zM455.1 51.0h1v1h-1zM470.2 68.2h1v1h-1zM464.5 60.8h1v1h-1zM468.7 56.6h1v1h-1zM466.0 65.4h1v1h-1zM462.3 55.9h1v1h-1zM480.1 66.3h1v1h-1zM468.5 50.3h1v1h-1zM456.7 54.0h1v1h-1zM464.5 57.2h1v1h-1zM461.6 62.5h1v1h-1zM451.0 49.3h1v1h-1zM463.0 60.6h1v1h-1zM463.7 68.6h1v1h-1zM459.7 56.3h1v1h-1zM460.9 52.8h1v1h-1zM469.6 59.0h1v1h-1zM474.9 46.2h1v1h-1zM452.4 65.2h1v1h-1zM466.5 56.6h1v1h-1zM465.6 62.3h1v1h-1zM457.5 65.4h1v1h-1zM468.3 57.1h1v1h-1zM461.4 64.6h1v1h-1zM462.4 55.0h1v1h-1zM452.7 56.1h1v1h-1zM464.0 52.9h1v1h-1zM458.5 64.9h1v1h-1zM456.8 62.8h1v1h-1zM466.7 43.2h1v1h-1zM467.9 57.3h1v1h-1zM453.3 57.3h1v1h-1zM458.0 57.4h1v1h-1zM459.4 63.2h1v1h-1zM466.2 63.6h1v1h-1zM472.9 52.6h1v1h-1zM466.3 61.1h1v1h-1zM453.0 66.6h1v1h-1zM466.3 58.1h1v1h-1zM467.1 53.2h1v1h-1zM467.0 63.8h1v1h-1zM475.2 58.9h1v1h-1zM465.1 56.6h1v1h-1zM460.4 62.5h1v1h-1zM463.3 57.8h1v1h-1zM473.4 58.9h1v1h-1zM467.8 51.2h1v1h-1zM459.8 53.2h1v1h-1zM469.8 56.1h1v1h-1zM458.4 57.2h1v1h-1zM459.3 65.5h1v1h-1zM475.1 60.8h1v1h-1zM463.8 67.5h1v1h-1zM470.4 63.0h1v1h-1z" fill="#111"/>
<path d="M479.1 53.7h1v1h-1zM474.3 52.7h1v1h-1zM470.2 52.6h1v1h-1zM470.5 52.7h1v1h-1zM475.7 52.8h1v1h-1zM474.4 45.9h1v1h-1zM472.0 43.7h1v1h-1zM484.0 36.1h1v1h-1zM476.4 52.3h1v1h-1zM475.4 43.1h1v1h-1zM478.2 54.6h1v1h-1zM482.6 38.9h1v1h-1zM476.9 52.4h1v1h-1zM489.6 42.1h1v1h-1zM477.5 55.7h1v1h-1zM469.5 51.1h1v1h-1zM466.8 52.6h1v1h-1zM472.6 48.5h1v1h-1zM480.3 50.2h1v1h-1zM478.5 46.4h1v1h-1zM473.2 44.4h1v1h-1zM477.8 50.7h1v1h-1zM473.9 45.4h1v1h-1zM471.2 54.6h1v1h-1zM482.3 50.0h1v1h-1zM470.7 48.8h1v1h-1zM471.1 59.0h1v1h-1zM478.8 42.1h1v1h-1zM478.4 49.1h1v1h-1zM477.2 49.9h1v1h-1zM472.3 46.3h1v1h-1zM479.1 57.3h1v1h-1zM469.9 46.2h1v1h-1zM479.1 40.7h1v1h-1zM461.7 54.5h1v1h-1zM481.1 51.6h1v1h-1zM480.3 43.0h1v1h-1zM477.3 45.5h1v1h-1zM472.6 52.8h1v1h-1zM469.8 56.9h1v1h-1zM478.8 50.8h1v1h-1zM478.4 44.4h1v1h-1zM487.3 53.7h1v1h-1zM475.1 49.3h1v1h-1zM473.5 49.2h1v1h-1zM480.3 53.3h1v1h-1zM473.0 46.6h1v1h-1zM469.6 52.0h1v1h-1zM473.8 50.8h1v1h-1zM477.0 40.3h1v1h-1zM471.5 53.7h1v1h-1zM471.7 47.9h1v1h-1zM467.2 58.8h1v1h-1zM478.4 46.2h1v1h-1zM480.1 54.1h1v1h-1zM483.8 42.7h1v1h-1zM475.5 50.9h1v1h-1zM481.4 36.3h1v1h-1zM476.4 41.0h1v1h-1zM482.0 44.7h1v1h-1z" fill="#111"/>
<path d="M467.9 52.6h1v1h-1zM472.9 68.4h1v1h-1zM489.1 62.8h1v1h-1zM468.3 55.7h1v1h-1zM461.8 49.4h1v1h-1zM481.3 57.3h1v1h-1zM480.7 46.3h1v1h-1zM471.1 57.7h1v1h-1zM476.5 55.8h1v1h-1zM480.1 65.8h1v1h-1zM485.3 41.0h1v1h-1zM452.0 69.3h1v1h-1zM501.5 62.0h1v1h-1zM463.6 67.6h1v1h-1zM470.8 59.7h1v1h-1zM485.6 58.5h1v1h-1zM476.1 51.2h1v1h-1zM473.0 53.6h1v1h-1zM475.2 53.9h1v1h-1zM479.9 55.1h1v1h-1zM453.9 62.2h1v1h-1zM472.8 59.1h1v1h-1zM448.2 54.5h1v1h-1z" fill="#111"/>
<path d="M415.0 156.8h1v1h-1zM417.2 161.7h1v1h-1zM418.7 165.9h1v1h-1zM415.6 166.3h1v1h-1zM416.7 159.8h1v1h-1zM417.7 159.6h1v1h-1zM419.1 167.0h1v1h-1zM415.8 161.7h1v1h-1zM417.6 155.8h1v1h-1zM416.2 155.8h1v1h-1zM416.5 162.5h1v1h-1zM418.3 161.4h1v1h-1zM416.3 168.8h1v1h-1zM415.2 168.2h1v1h-1zM415.8 157.1h1v1h-1zM417.4 165.2h1v1h-1zM415.6 169.7h1v1h-1zM418.5 159.2h1v1h-1zM415.5 162.0h1v1h-1zM416.0 159.0h1v1h-1zM417.2 162.5h1v1h-1zM416.5 162.3h1v1h-1zM416.5 158.3h1v1h-1zM415.0 160.4h1v1h-1zM415.8 167.1h1v1h-1zM416.8 158.6h1v1h-1zM414.7 168.7h1v1h-1zM416.9 166.4h1v1h-1zM414.6 161.9h1v1h-1zM417.4 169.4h1v1h-1zM415.7 162.6h1v1h-1zM416.0 163.8h1v1h-1zM415.9 164.4h1v1h-1zM416.3 168.4h1v1h-1zM415.9 158.9h1v1h-1zM414.7 163.8h1v1h-1zM413.7 157.4h1v1h-1zM416.8 170.3h1v1h-1zM413.5 159.2h1v1h-1zM416.3 162.1h1v1h-1zM418.6 165.4h1v1h-1zM415.7 168.6h1v1h-1zM417.8 165.9h1v1h-1zM415.0 165.2h1v1h-1zM419.3 162.7h1v1h-1zM417.6 156.2h1v1h-1zM415.6 160.2h1v1h-1zM417.3 170.7h1v1h-1zM415.6 166.5h1v1h-1zM417.2 159.6h1v1h-1zM417.2 162.4h1v1h-1zM417.0 159.4h1v1h-1zM417.3 166.4h1v1h-1zM416.6 160.6h1v1h-1zM414.0 157.4h1v1h-1zM417.9 163.5h1v1h-1zM415.7 167.3h1v1h-1zM417.0 158.2h1v1h-1zM416.0 165.4h1v1h-1zM416.6 160.1h1v1h-1zM415.3 147.7h1v1h-1zM415.2 153.3h1v1h-1zM417.7 167.0h1v1h-1zM415.9 161.3h1v1h-1zM415.2 164.1h1v1h-1zM417.3 165.8h1v1h-1zM419.0 167.9h1v1h-1zM417.2 167.5h1v1h-1zM416.2 161.6h1v1h-1zM419.2 158.8h1v1h-1zM414.8 159.8h1v1h-1zM417.4 157.5h1v1h-1zM416.9 172.9h1v1h-1zM416.8 168.1h1v1h-1zM414.0 160.3h1v1h-1zM415.0 167.4h1v1h-1zM416.9 169.4h1v1h-1zM417.0 166.1h1v1h-1zM414.1 161.5h1v1h-1zM419.3 156.1h1v1h-1zM415.8 162.8h1v1h-1zM414.8 159.1h1v1h-1zM416.3 161.1h1v1h-1zM416.5 160.2h1v1h-1zM418.2 151.3h1v1h-1zM414.8 161.1h1v1h-1zM415.9 160.4h1v1h-1zM414.8 155.0h1v1h-1zM418.3 159.6h1v1h-1zM415.6 150.9h1v1h-1zM415.4 165.3h1v1h-1zM416.8 162.4h1v1h-1zM415.0 168.8h1v1h-1zM418.6 159.6h1v1h-1zM417.2 170.1h1v1h-1zM416.6 168.0h1v1h-1zM413.3 153.8h1v1h-1zM416.5 166.7h1v1h-1zM415.9 166.1h1v1h-1zM417.0 166.5h1v1h-1zM416.2 166.1h1v1h-1zM416.6 160.6h1v1h-1zM415.9 162.8h1v1h-1zM418.8 165.6h1v1h-1zM417.0 152.1h1v1h-1zM418.2 167.6h1v1h-1zM415.6 170.3h1v1h-1zM414.9 160.5h1v1h-1zM415.5 160.1h1v1h-1zM413.7 160.6h1v1h-1zM414.9 156.4h1v1h-1zM417.0 162.0h1v1h-1zM416.8 151.0h1v1h-1zM415.1 161.5h1v1h-1zM415.9 160.8h1v1h-1zM416.4 154.9h1v1h-1zM418.0 163.4h1v1h-1zM414.0 162.8h1v1h-1zM415.8 163.4h1v1h-1zM417.4 163.0h1v1h-1zM417.0 164.1h1v1h-1zM414.1 156.3h1v1h-1zM417.1 167.8h1v1h-1zM414.3 163.1h1v1h-1zM417.6 161.4h1v1h-1zM414.9 159.7h1v1h-1zM417.2 166.7h1v1h-1zM418.5 161.0h1v1h-1zM416.7 166.4h1v1h-1zM416.8 166.9h1v1h-1zM415.6 163.1h1v1h-1zM412.6 168.1h1v1h-1zM414.7 166.6h1v1h-1zM417.7 161.8h1v1h-1zM415.5 166.6h1v1h-1zM416.6 164.0h1v1h-1zM417.7 167.9h1v1h-1zM416.8 154.7h1v1h-1zM417.0 165.4h1v1h-1zM418.2 158.6h1v1h-1zM414.5 167.4h1v1h-1zM416.2 164.5h1v1h-1zM418.6 157.5h1v1h-1zM414.8 162.7h1v1h-1zM417.8 159.5h1v1h-1zM416.5 162.4h1v1h-1zM415.7 159.7h1v1h-1zM415.6 152.4h1v1h-1zM418.4 163.4h1v1h-1zM416.9 157.7h1v1h-1zM417.5 166.2h1v1h-1zM415.7 157.1h1v1h-1zM415.2 160.9h1v1h-1zM415.8 165.6h1v1h-1zM416.3 161.8h1v1h-1zM414.6 158.6h1v1h-1zM414.9 164.1h1v1h-1zM416.6 157.1h1v1h-1zM418.4 165.1h1v1h-1zM420.2 160.2h1v1h-1zM416.6 161.5h1v1h-1zM415.5 161.4h1v1h-1zM416.6 160.4h1v1h-1zM413.3 162.4h1v1h-1zM417.1 169.7h1v1h-1zM417.8 161.8h1v1h-1zM415.7 162.6h1v1h-1zM417.0 161.1h1v1h-1zM416.3 155.2h1v1h-1zM415.8 175.4h1v1h-1zM418.1 159.7h1v1h-1zM414.9 165.1h1v1h-1zM414.4 164.9h1v1h-1zM416.9 162.3h1v1h-1zM416.0 168.1h1v1h-1zM414.8 157.5h1v1h-1zM418.6 158.3h1v1h-1zM415.3 166.0h1v1h-1zM413.3 158.5h1v1h-1zM416.4 165.0h1v1h-1zM415.5 169.2h1v1h-1zM415.3 158.8h1v1h-1zM414.2 162.6h1v1h-1zM416.5 161.5h1v1h-1zM415.9 162.4h1v1h-1zM416.5 157.2h1v1h-1zM418.2 159.1h1v1h-1zM416.6 157.3h1v1h-1zM416.4 159.0h1v1h-1zM417.2 167.9h1v1h-1zM414.5 162.6h1v1h-1zM416.9 157.1h1v1h-1zM415.3 156.3h1v1h-1zM414.1 166.3h1v1h-1zM415.5 156.9h1v1h-1zM417.8 157.8h1v1h-1zM415.3 163.4h1v1h-1zM418.4 153.5h1v1h-1zM414.7 165.5h1v1h-1zM414.3 158.7h1v1h-1zM414.2 161.0h1v1h-1zM416.6 159.1h1v1h-1zM415.7 154.7h1v1h-1zM413.6 156.0h1v1h-1zM417.2 160.9h1v1h-1z" fill="#111"/>
<path d="M412.5 160.5h1v1h-1zM418.0 160.8h1v1h-1zM416.6 152.7h1v1h-1zM415.8 159.5h1v1h-1zM418.3 163.0h1v1h-1zM416.3 157.4h1v1h-1zM414.5 161.9h1v1h-1zM419.2 150.1h1v1h-1zM410.1 174.5h1v1h-1zM419.9 166.2h1v1h-1zM417.2 159.6h1v1h-1zM415.6 154.6h1v1h-1zM417.7 160.9h1v1h-1zM412.1 158.9h1v1h-1zM415.1 158.0h1v1h-1zM420.6 169.0h1v1h-1zM409.4 165.3h1v1h-1zM418.7 170.5h1v1h-1zM418.1 149.6h1v1h-1zM418.3 162.6h1v1h-1zM419.6 165.2h1v1h-1zM413.0 174.0h1v1h-1zM413.7 169.3h1v1h-1zM417.3 158.7h1v1h-1zM411.4 156.7h1v1h-1zM414.3 161.0h1v1h-1zM415.9 172.5h1v1h-1zM417.3 169.6h1v1h-1zM413.8 159.4h1v1h-1zM418.4 168.4h1v1h-1zM417.9 159.4h1v1h-1zM414.0 173.4h1v1h-1zM414.8 159.7h1v1h-1zM419.8 162.6h1v1h-1zM414.9 167.5h1v1h-1zM415.9 170.4h1v1h-1zM416.1 156.9h1v1h-1zM421.8 170.0h1v1h-1zM416.7 161.3h1v1h-1zM413.4 158.4h1v1h-1z" fill="#111"/>
<path d="M419.3 187.1h1v1h-1zM417.5 182.8h1v1h-1zM420.0 190.0h1v1h-1zM417.3 187.1h1v1h-1zM415.5 192.3h1v1h-1zM419.4 187.8h1v1h-1zM420.0 185.8h1v1h-1zM423.3 194.8h1v1h-1zM421.5 194.4h1v1h-1zM415.4 184.6h1v1h-1zM417.7 180.9h1v1h-1zM418.8 194.0h1v1h-1zM418.7 185.7h1v1h-1zM418.9 176.6h1v1h-1zM418.3 192.3h1v1h-1zM419.9 182.4h1v1h-1zM420.0 189.4h1v1h-1zM419.4 190.0h1v1h-1zM421.8 187.1h1v1h-1zM419.2 179.6h1v1h-1zM417.4 188.2h1v1h-1zM422.4 181.5h1v1h-1zM417.9 181.8h1v1h-1zM420.1 194.1h1v1h-1zM419.6 193.5h1v1h-1z" fill="#666"/>
<path d="M402.4 155.0h1v1h-1zM406.4 153.6h1v1h-1zM402.3 155.8h1v1h-1zM398.0 160.8h1v1h-1zM407.6 158.3h1v1h-1zM405.4 159.2h1v1h-1z" fill="#888"/>
<path d="M489.9 178.8h1v1h-1zM493.5 181.7h1v1h-1zM491.5 184.6h1v1h-1zM489.4 185.3h1v1h-1zM493.0 179.5h1v1h-1zM496.2 179.2h1v1h-1zM491.2 182.4h1v1h-1zM492.8 190.1h1v1h-1zM488.3 171.9h1v1h-1zM493.5 178.4h1v1h-1zM490.6 179.5h1v1h-1zM494.1 181.7h1v1h-1zM489.9 170.7h1v1h-1zM489.0 176.3h1v1h-1zM489.0 169.9h1v1h-1zM492.6 184.7h1v1h-1zM490.1 190.9h1v1h-1zM492.1 176.7h1v1h-1zM492.2 182.2h1v1h-1zM490.1 189.8h1v1h-1zM489.0 185.5h1v1h-1zM490.6 187.2h1v1h-1zM492.1 188.2h1v1h-1zM488.0 179.0h1v1h-1zM493.0 177.6h1v1h-1zM494.6 186.1h1v1h-1zM492.9 177.6h1v1h-1zM487.5 181.3h1v1h-1zM491.2 184.8h1v1h-1zM490.4 171.2h1v1h-1zM490.0 169.3h1v1h-1zM489.5 179.5h1v1h-1zM491.4 184.2h1v1h-1zM490.0 184.8h1v1h-1zM491.1 171.4h1v1h-1zM489.6 179.6h1v1h-1zM490.1 175.7h1v1h-1zM491.9 171.5h1v1h-1zM490.7 174.4h1v1h-1zM488.7 178.9h1v1h-1zM493.1 178.0h1v1h-1zM490.1 188.6h1v1h-1zM492.3 183.8h1v1h-1zM493.2 181.6h1v1h-1zM491.2 186.2h1v1h-1zM491.7 171.4h1v1h-1zM492.9 181.5h1v1h-1zM494.2 180.5h1v1h-1zM488.1 180.3h1v1h-1zM490.9 191.5h1v1h-1zM493.3 189.5h1v1h-1zM490.7 181.5h1v1h-1zM493.8 174.0h1v1h-1zM491.9 187.6h1v1h-1zM490.3 180.5h1v1h-1zM487.4 187.5h1v1h-1zM489.2 187.1h1v1h-1zM491.4 169.4h1v1h-1zM488.6 171.3h1v1h-1zM490.2 185.9h1v1h-1zM490.5 180.9h1v1h-1zM488.5 180.7h1v1h-1zM490.3 178.3h1v1h-1zM491.3 187.1h1v1h-1zM492.0 182.6h1v1h-1zM491.1 177.1h1v1h-1zM491.9 182.4h1v1h-1zM490.9 179.9h1v1h-1zM490.4 172.6h1v1h-1zM491.4 169.3h1v1h-1zM490.9 172.6h1v1h-1zM490.5 187.9h1v1h-1zM491.9 183.6h1v1h-1zM490.5 172.0h1v1h-1zM492.3 185.1h1v1h-1zM490.3 177.4h1v1h-1zM490.7 177.2h1v1h-1zM492.0 185.5h1v1h-1zM490.6 189.6h1v1h-1zM490.1 182.6h1v1h-1zM492.5 169.3h1v1h-1zM491.3 176.9h1v1h-1zM491.1 182.8h1v1h-1zM491.1 173.1h1v1h-1zM494.3 188.0h1v1h-1zM491.6 180.9h1v1h-1zM492.6 176.0h1v1h-1zM492.5 173.5h1v1h-1zM492.4 185.4h1v1h-1zM491.2 178.8h1v1h-1zM491.5 174.3h1v1h-1zM489.8 179.5h1v1h-1zM491.6 173.1h1v1h-1zM490.6 180.7h1v1h-1zM491.1 176.2h1v1h-1zM491.1 179.6h1v1h-1zM492.9 185.5h1v1h-1zM490.8 188.2h1v1h-1zM490.7 174.6h1v1h-1zM489.6 178.7h1v1h-1zM494.2 183.2h1v1h-1zM488.0 177.6h1v1h-1zM489.8 173.3h1v1h-1zM492.9 185.6h1v1h-1zM490.0 182.1h1v1h-1zM492.0 182.5h1v1h-1zM493.3 183.9h1v1h-1zM490.5 181.5h1v1h-1zM488.2 174.8h1v1h-1zM491.8 178.9h1v1h-1zM489.6 174.1h1v1h-1zM489.7 180.8h1v1h-1zM489.8 181.2h1v1h-1zM490.4 182.5h1v1h-1zM490.1 168.6h1v1h-1zM492.7 178.8h1v1h-1zM491.3 184.7h1v1h-1zM493.6 181.2h1v1h-1zM492.4 185.8h1v1h-1zM492.8 172.7h1v1h-1zM489.3 172.3h1v1h-1zM488.9 172.6h1v1h-1zM490.3 177.2h1v1h-1zM494.6 186.2h1v1h-1zM492.7 185.0h1v1h-1zM493.4 171.7h1v1h-1zM491.2 178.1h1v1h-1zM493.1 181.5h1v1h-1zM492.1 182.6h1v1h-1zM491.1 191.1h1v1h-1zM492.3 169.8h1v1h-1zM493.6 171.4h1v1h-1zM489.8 188.0h1v1h-1zM491.5 175.7h1v1h-1zM493.1 175.7h1v1h-1zM490.7 174.4h1v1h-1zM491.1 175.9h1v1h-1zM490.0 188.4h1v1h-1zM492.6 174.1h1v1h-1zM490.6 179.0h1v1h-1zM490.1 180.6h1v1h-1zM490.8 186.0h1v1h-1zM489.8 180.1h1v1h-1zM491.0 177.0h1v1h-1zM493.6 182.3h1v1h-1zM486.7 182.8h1v1h-1zM489.6 174.7h1v1h-1zM490.5 178.7h1v1h-1zM490.1 175.2h1v1h-1zM491.8 182.9h1v1h-1zM492.5 180.1h1v1h-1zM489.7 184.8h1v1h-1zM491.6 178.3h1v1h-1zM491.5 181.3h1v1h-1zM489.5 181.0h1v1h-1zM492.6 180.6h1v1h-1zM491.2 183.7h1v1h-1zM490.6 181.2h1v1h-1zM491.9 184.1h1v1h-1zM490.7 186.4h1v1h-1zM489.7 187.0h1v1h-1zM490.6 186.0h1v1h-1zM494.1 191.4h1v1h-1zM491.6 177.4h1v1h-1zM491.8 171.4h1v1h-1zM493.5 169.4h1v1h-1zM492.1 169.7h1v1h-1zM489.7 181.8h1v1h-1zM489.1 176.6h1v1h-1zM487.6 189.1h1v1h-1zM489.6 180.5h1v1h-1zM491.5 172.8h1v1h-1zM489.9 183.0h1v1h-1zM491.1 175.6h1v1h-1zM491.3 174.6h1v1h-1zM491.8 182.0h1v1h-1zM489.4 186.0h1v1h-1zM491.4 179.1h1v1h-1zM492.9 175.5h1v1h-1zM492.7 182.9h1v1h-1zM492.8 193.6h1v1h-1zM490.5 181.8h1v1h-1zM492.6 182.0h1v1h-1zM492.1 186.3h1v1h-1zM488.9 178.3h1v1h-1zM489.8 182.5h1v1h-1zM489.4 181.3h1v1h-1zM492.0 181.8h1v1h-1zM493.4 185.2h1v1h-1zM491.1 177.5h1v1h-1zM492.0 194.4h1v1h-1zM491.2 179.1h1v1h-1zM487.9 185.3h1v1h-1zM490.9 174.6h1v1h-1zM492.3 172.0h1v1h-1zM494.1 177.0h1v1h-1zM492.8 183.7h1v1h-1zM490.9 168.1h1v1h-1zM491.7 169.3h1v1h-1zM491.5 186.6h1v1h-1zM491.8 194.2h1v1h-1zM492.8 179.6h1v1h-1zM490.4 183.8h1v1h-1zM491.6 181.4h1v1h-1zM494.4 188.5h1v1h-1zM490.8 175.2h1v1h-1zM491.7 179.5h1v1h-1zM491.7 178.8h1v1h-1zM491.1 181.3h1v1h-1zM489.0 183.4h1v1h-1zM492.6 173.3h1v1h-1zM493.0 181.3h1v1h-1zM493.3 176.3h1v1h-1zM494.3 192.2h1v1h-1zM495.2 180.5h1v1h-1zM490.4 175.8h1v1h-1zM490.2 170.5h1v1h-1zM493.0 166.9h1v1h-1zM489.1 169.4h1v1h-1zM491.5 183.4h1v1h-1zM489.1 172.8h1v1h-1zM491.7 174.3h1v1h-1zM493.2 176.4h1v1h-1zM493.7 188.4h1v1h-1zM489.6 176.9h1v1h-1zM491.2 176.6h1v1h-1zM490.1 183.1h1v1h-1zM495.1 174.1h1v1h-1zM488.7 180.5h1v1h-1z" fill="#111"/>
<path d="M492.3 178.3h1v1h-1zM488.5 186.0h1v1h-1zM491.9 181.2h1v1h-1zM491.6 192.2h1v1h-1zM493.5 189.2h1v1h-1zM490.5 174.1h1v1h-1zM488.8 175.9h1v1h-1zM484.6 192.9h1v1h-1zM491.6 179.0h1v1h-1zM493.4 174.8h1v1h-1zM491.9 185.2h1v1h-1zM487.4 193.9h1v1h-1zM491.6 183.8h1v1h-1zM488.7 172.6h1v1h-1zM495.4 173.3h1v1h-1zM490.2 182.5h1v1h-1zM494.8 156.1h1v1h-1zM494.9 180.6h1v1h-1zM493.5 168.9h1v1h-1zM492.0 192.9h1v1h-1zM491.0 172.5h1v1h-1zM490.2 173.4h1v1h-1zM493.2 180.0h1v1h-1zM490.0 185.4h1v1h-1zM488.6 165.1h1v1h-1zM497.3 172.4h1v1h-1zM495.3 177.4h1v1h-1zM490.7 183.0h1v1h-1zM489.1 170.5h1v1h-1zM490.7 174.6h1v1h-1zM488.3 170.2h1v1h-1zM493.1 182.9h1v1h-1zM494.0 171.4h1v1h-1zM492.7 177.7h1v1h-1zM487.2 182.3h1v1h-1zM487.4 183.1h1v1h-1zM490.1 176.4h1v1h-1zM496.5 192.1h1v1h-1zM492.3 181.8h1v1h-1zM489.3 189.6h1v1h-1zM492.8 170.3h1v1h-1zM487.1 178.2h1v1h-1zM490.8 186.1h1v1h-1zM488.7 170.1h1v1h-1zM492.3 179.0h1v1h-1zM493.6 188.4h1v1h-1zM489.0 156.6h1v1h-1zM491.4 171.5h1v1h-1zM491.8 153.5h1v1h-1zM491.0 179.0h1v1h-1zM489.9 182.9h1v1h-1zM491.5 180.3h1v1h-1zM494.5 190.0h1v1h-1zM494.2 181.6h1v1h-1zM491.6 183.4h1v1h-1zM492.0 171.5h1v1h-1zM492.2 186.6h1v1h-1zM490.2 168.3h1v1h-1zM492.7 171.4h1v1h-1zM487.6 176.0h1v1h-1zM487.7 181.2h1v1h-1zM490.0 178.9h1v1h-1zM494.1 188.4h1v1h-1zM491.0 157.7h1v1h-1zM490.1 167.6h1v1h-1zM493.5 192.4h1v1h-1zM493.0 184.1h1v1h-1zM492.6 184.4h1v1h-1zM490.3 186.4h1v1h-1zM490.5 167.7h1v1h-1zM491.4 192.8h1v1h-1zM490.8 162.1h1v1h-1zM494.3 180.4h1v1h-1zM492.6 174.0h1v1h-1zM492.4 192.9h1v1h-1zM489.7 184.5h1v1h-1zM492.1 170.4h1v1h-1zM491.7 183.6h1v1h-1zM489.2 188.8h1v1h-1z" fill="#111"/>
<path d="M488.2 167.4h1v1h-1zM487.8 165.7h1v1h-1zM487.3 166.9h1v1h-1zM489.4 170.1h1v1h-1zM491.0 163.3h1v1h-1zM489.0 165.4h1v1h-1zM489.4 158.7h1v1h-1zM490.6 150.9h1v1h-1zM489.4 173.6h1v1h-1zM490.4 156.1h1v1h-1zM491.5 163.9h1v1h-1zM488.4 160.0h1v1h-1zM489.7 167.2h1v1h-1zM489.3 171.8h1v1h-1z" fill="#111"/>
<path d="M480.1 175.2h1v1h-1zM473.5 192.3h1v1h-1zM469.0 172.4h1v1h-1zM481.8 179.0h1v1h-1z" fill="#888"/>
<line x1="48.3" y1="240" x2="48.3" y2="464.2" stroke="#111" stroke-width="1.3"/>
<line x1="48.3" y1="275.6" x2="149" y2="275.6" stroke="#111" stroke-width="1.2"/>
<line x1="48.3" y1="322.6" x2="149" y2="322.6" stroke="#111" stroke-width="1.2"/>
<line x1="48.3" y1="369.2" x2="149" y2="369.2" stroke="#111" stroke-width="1.2"/>
<line x1="48.3" y1="416.6" x2="149" y2="416.6" stroke="#111" stroke-width="1.2"/>
<line x1="48.3" y1="463.6" x2="149" y2="463.6" stroke="#111" stroke-width="1.2"/>
<line x1="80.5" y1="275.6" x2="80.5" y2="463.6" stroke="#3a3a3a" stroke-width="1"/>
<line x1="97.5" y1="275.6" x2="97.5" y2="463.6" stroke="#3a3a3a" stroke-width="1"/>
<line x1="113.5" y1="275.6" x2="113.5" y2="463.6" stroke="#3a3a3a" stroke-width="1"/>
<line x1="130.5" y1="275.6" x2="130.5" y2="463.6" stroke="#3a3a3a" stroke-width="1"/>
<line x1="147.5" y1="275.6" x2="147.5" y2="463.6" stroke="#3a3a3a" stroke-width="1"/>
<line x1="63.5" y1="275.6" x2="63.5" y2="463.6" stroke="#4a4a4a" stroke-width="1"/>
<rect x="49.3" y="280" width="17" height="15.5" fill="#fff"/>
<rect x="49.3" y="424" width="17" height="13" fill="#fff"/>
<text x="49.8" y="288.7" font-size="9.4" text-anchor="start" font-weight="normal" fill="#111" >125</text>
<text x="49.8" y="336.8" font-size="9.4" text-anchor="start" font-weight="normal" fill="#111" >16</text>
<text x="49.8" y="383.6" font-size="9.4" text-anchor="start" font-weight="normal" fill="#111" >53</text>
<text x="49.8" y="432.8" font-size="9.4" text-anchor="start" font-weight="normal" fill="#111" >113</text>
<text x="41.8" y="300.2" font-size="10.3" text-anchor="end" font-weight="normal" fill="#111" >Mock</text>
<text x="41.8" y="345" font-size="10.3" text-anchor="end" font-weight="normal" fill="#111" >TB40/E</text>
<text x="37" y="386" font-size="10.3" text-anchor="end" font-weight="normal" fill="#111" >UV-</text>
<text x="37" y="398.3" font-size="10.3" text-anchor="end" font-weight="normal" fill="#111" >TB40/E</text>
<text x="44" y="437.3" font-size="10.3" text-anchor="end" font-weight="normal" fill="#111" >Filtered</text>
<text x="44" y="449.8" font-size="10.3" text-anchor="end" font-weight="normal" fill="#111" >TB40/E</text>
<line x1="44.5" y1="472.5" x2="144" y2="472.5" stroke="#111" stroke-width="1"/>
<path d="M146 472.5 L141 470.0 L141 475.0 Z" fill="#111"/>
<text x="86.7" y="485.3" font-size="10.3" text-anchor="middle" font-weight="normal" fill="#111" >NKG2D</text>
<polyline points="48.3,266.77 48.85,262.59 49.4,265.79 49.95,265.2 50.5,262.71 51.05,264.38 51.6,263.01 52.15,264.88 52.7,261.55 53.25,262.08 53.8,260.57 54.35,258.49 54.9,259.13 55.45,260.52 56.0,259.38 56.55,256.39 57.1,262.92 57.65,262.83 58.2,261.91 58.75,259.15 59.3,258.59 59.85,258.92 60.4,260.37 60.95,256.18 61.5,256.26 62.05,256.04 62.6,259.8 63.15,253.47 63.7,258.5 64.25,259.03 64.8,251.3 65.35,253.31 65.9,253.6 66.45,251.27 67.0,256.57 67.55,258.16 68.1,251.95 68.65,258.34 69.2,254.83 69.75,258.36 70.3,253.95 70.85,254.99 71.4,257.03 71.95,251.55 72.5,259.28 73.05,254.27 73.6,260.0 74.15,259.59 74.7,261.71 75.25,261.62 75.8,262.21 76.35,261.12 76.9,261.41 77.45,261.87 78.0,264.73 78.55,264.71 79.1,265.82 79.65,265.57 80.2,267.67 80.75,269.95 81.3,270.35 81.85,270.39 82.4,269.71 82.95,269.19 83.5,271.64 84.05,270.3 84.6,271.08 85.15,273.41 85.7,271.92 86.25,272.55 86.8,272.98 87.35,274.24 87.9,275 88.45,273.87 89.0,275 89.55,273.36 90.1,275 90.65,274.82 91.2,274.92" fill="none" stroke="#0a0a0a" stroke-width="1.6" stroke-linejoin="round"/>
<polyline points="75,322 75.55,321.98 76.1,321.97 76.65,321.94 77.2,321.93 77.75,321.93 78.3,321.89 78.85,321.89 79.4,321.87 79.95,321.85 80.5,321.83 81.05,321.79 81.6,321.78 82.15,321.78 82.7,321.78 83.25,321.78 83.8,321.72 84.35,321.67 84.9,320.65 85.45,321.01 86.0,320.12 86.55,322 87.1,320.43 87.65,321.25 88.2,321.42 88.75,319.98 89.3,320.37 89.85,320.88 90.4,320.51 90.95,322 91.5,322 92.05,321.88 92.6,320.45 93.15,321.31 93.7,321.7 94.25,319.15 94.8,321.78 95.35,319.76 95.9,318.34 96.45,319.23 97.0,318.94 97.55,318.74 98.1,319.94 98.65,319.83 99.2,317.34 99.75,318.47 100.3,316.82 100.85,318.11 101.4,316.91 101.95,316.96 102.5,317.66 103.05,317.52 103.6,315.75 104.15,316.37 104.7,312.11 105.25,312.78 105.8,310.06 106.35,311.51 106.9,311.38 107.45,310.42 108.0,311.54 108.55,310.43 109.1,307.17 109.65,304.79 110.2,305.68 110.75,308.03 111.3,303.09 111.85,306.0 112.4,303.6 112.95,303.52 113.5,303.3 114.05,305.02 114.6,296.15 115.15,298.2 115.7,298.42 116.25,296.33 116.8,296.84 117.35,295.04 117.9,297.03 118.45,297.97 119.0,296.86 119.55,292.42 120.1,301.2 120.65,296.62 121.2,290.12 121.75,294.39 122.3,293.83 122.85,293.76 123.4,297.47 123.95,294.39 124.5,295.95 125.05,296.99 125.6,300.88 126.15,299.32 126.7,299.68 127.25,303.75 127.8,305.76 128.35,307.54 128.9,308.39 129.45,307.3 130.0,309.68 130.55,311.71 131.1,312.68 131.65,314.08 132.2,315.9 132.75,313.76 133.3,317.26 133.85,318.1 134.4,315.36 134.95,316.83 135.5,318.84 136.05,320.65 136.6,320.32 137.15,318.46 137.7,320.65 138.25,320.85 138.8,320.75 139.35,320.58 139.9,319.68 140.45,321.06 141.0,322 141.55,321.26 142.1,322 142.65,320.09 143.2,321.69 143.75,321.73 144.3,321.8 144.85,321.81 145.4,321.82 145.95,321.84 146.5,321.87 147.05,321.91 147.6,321.94 148.15,321.96 148.7,321.99" fill="none" stroke="#0a0a0a" stroke-width="1.6" stroke-linejoin="round"/>
<polyline points="48.3,369 48.85,368.55 49.4,368.61 49.95,368.46 50.5,368.61 51.05,367.01 51.6,368.55 52.15,369 52.7,368.34 53.25,369 53.8,367.16 54.35,367.56 54.9,368.42 55.45,369 56.0,366.35 56.55,368.2 57.1,368.79 57.65,366.46 58.2,367.12 58.75,368.85 59.3,365.96 59.85,367.7 60.4,368.17 60.95,365.3 61.5,365.86 62.05,366.53 62.6,363.73 63.15,364.38 63.7,363.32 64.25,362.34 64.8,362.35 65.35,363.33 65.9,364.16 66.45,361.9 67.0,362.75 67.55,360.6 68.1,363.35 68.65,359.55 69.2,359.29 69.75,358.6 70.3,358.94 70.85,360.1 71.4,360.36 71.95,357.63 72.5,357.0 73.05,360.56 73.6,357.31 74.15,355.09 74.7,357.87 75.25,355.97 75.8,358.23 76.35,356.03 76.9,353.13 77.45,357.19 78.0,355.13 78.55,356.14 79.1,358.25 79.65,352.04 80.2,353.32 80.75,352.95 81.3,354.95 81.85,351.53 82.4,355.03 82.95,351.89 83.5,351.45 84.05,353.62 84.6,353.99 85.15,355.62 85.7,355.36 86.25,353.71 86.8,357.4 87.35,356.9 87.9,355.31 88.45,351.58 89.0,353.45 89.55,354.38 90.1,354.55 90.65,357.54 91.2,355.76 91.75,356.42 92.3,352.65 92.85,355.3 93.4,357.01 93.95,356.46 94.5,353.65 95.05,351.74 95.6,356.77 96.15,354.22 96.7,355.19 97.25,359.06 97.8,352.84 98.35,355.98 98.9,356.17 99.45,355.08 100.0,358.06 100.55,356.46 101.1,356.78 101.65,357.31 102.2,358.34 102.75,357.84 103.3,357.75 103.85,354.12 104.4,357.05 104.95,356.86 105.5,354.86 106.05,356.18 106.6,356.12 107.15,356.16 107.7,358.51 108.25,359.06 108.8,359.14 109.35,359.45 109.9,361.01 110.45,362.78 111.0,363.65 111.55,362.82 112.1,364.05 112.65,363.49 113.2,366.27 113.75,363.63 114.3,366.21 114.85,364.28 115.4,364.39 115.95,364.78 116.5,366.85 117.05,367.33 117.6,364.94 118.15,365.21 118.7,367.48 119.25,365.3 119.8,366.66 120.35,368.64 120.9,366.84 121.45,368.68 122.0,368.98 122.55,368.46 123.1,367.08 123.65,366.76 124.2,368.81 124.75,367.8 125.3,368.76 125.85,367.37 126.4,367.23 126.95,367.73 127.5,369 128.05,368.58 128.6,369 129.15,367.44 129.7,368.19 130.25,367.56 130.8,368.6 131.35,369 131.9,367.94 132.45,368.6 133.0,367.75 133.55,369 134.1,369 134.65,369 135.2,368.72 135.75,368.72 136.3,368.7 136.85,368.72 137.4,368.76 137.95,368.78 138.5,368.79 139.05,368.81 139.6,368.77 140.15,368.83 140.7,368.8 141.25,368.83 141.8,368.83 142.35,368.87 142.9,368.87 143.45,368.87 144.0,368.88 144.55,368.9 145.1,368.9 145.65,368.92 146.2,368.93 146.75,368.95 147.3,368.96 147.85,368.97 148.4,368.99 148.95,369.0" fill="none" stroke="#0a0a0a" stroke-width="1.6" stroke-linejoin="round"/>
<polyline points="55,416 55.55,415.95 56.1,415.9 56.65,415.86 57.2,415.8 57.75,415.75 58.3,415.7 58.85,416 59.4,415.03 59.95,415.99 60.5,416 61.05,416 61.6,416 62.15,416 62.7,416 63.25,414.73 63.8,415.58 64.35,415.22 64.9,415.8 65.45,415.85 66.0,413.6 66.55,414.91 67.1,413.65 67.65,413.99 68.2,414.2 68.75,413.83 69.3,414.59 69.85,413.24 70.4,413.1 70.95,413.06 71.5,414.69 72.05,415.38 72.6,413.5 73.15,412.28 73.7,414.87 74.25,413.68 74.8,414.44 75.35,413.7 75.9,413.76 76.45,413.76 77.0,412.78 77.55,413.9 78.1,414.34 78.65,413.28 79.2,413.3 79.75,411.27 80.3,409.76 80.85,412.52 81.4,409.19 81.95,410.22 82.5,412.07 83.05,411.3 83.6,409.38 84.15,410.84 84.7,409.08 85.25,409.67 85.8,408.7 86.35,409.58 86.9,407.86 87.45,408.82 88.0,406.64 88.55,407.83 89.1,406.55 89.65,407.54 90.2,406.46 90.75,405.98 91.3,407.3 91.85,405.47 92.4,403.04 92.95,403.35 93.5,405.61 94.05,404.57 94.6,403.72 95.15,406.38 95.7,405.32 96.25,405.46 96.8,404.3 97.35,402.82 97.9,400.54 98.45,400.57 99.0,402.56 99.55,399.68 100.1,400.81 100.65,401.88 101.2,399.6 101.75,398.15 102.3,396.27 102.85,398.7 103.4,393.3 103.95,393.96 104.5,393.54 105.05,392.62 105.6,395.63 106.15,398.21 106.7,394.21 107.25,391.52 107.8,394.04 108.35,392.13 108.9,398.47 109.45,393.29 110.0,398.1 110.55,394.73 111.1,395.23 111.65,395.22 112.2,399.64 112.75,399.74 113.3,399.57 113.85,397.11 114.4,398.55 114.95,400.55 115.5,398.7 116.05,399.39 116.6,403.01 117.15,404.82 117.7,401.33 118.25,402.66 118.8,403.16 119.35,404.08 119.9,403.69 120.45,402.09 121.0,405.81 121.55,406.54 122.1,406.14 122.65,406.45 123.2,406.58 123.75,407.9 124.3,406.61 124.85,410.53 125.4,409.28 125.95,410.76 126.5,409.67 127.05,410.55 127.6,409.71 128.15,410.68 128.7,411.85 129.25,413.0 129.8,411.69 130.35,411.85 130.9,414.38 131.45,413.62 132.0,414.55 132.55,414.92 133.1,414.12 133.65,415.67 134.2,416 134.75,415.95 135.3,415.23 135.85,416 136.4,414.93 136.95,415.42 137.5,416 138.05,415.92 138.6,415.19 139.15,416 139.7,414.77 140.25,415.05 140.8,414.81 141.35,416 141.9,415.9 142.45,415.75 143.0,415.78 143.55,415.8 144.1,415.8 144.65,415.81 145.2,415.8 145.75,415.86 146.3,415.89 146.85,415.9 147.4,415.93 147.95,415.95 148.5,415.97" fill="none" stroke="#0a0a0a" stroke-width="1.6" stroke-linejoin="round"/>
<polyline points="70,463 70.55,462.9 71.1,462.81 71.65,462.72 72.2,463 72.75,463 73.3,463 73.85,461.86 74.4,461.39 74.95,463 75.5,463 76.05,462.53 76.6,463 77.15,462.99 77.7,463 78.25,463 78.8,462.13 79.35,460.54 79.9,460.37 80.45,461.01 81.0,461.07 81.55,463 82.1,461.6 82.65,461.1 83.2,460.55 83.75,461.82 84.3,462.66 84.85,460.94 85.4,459.39 85.95,460.25 86.5,459.73 87.05,460.33 87.6,461.52 88.15,459.56 88.7,461.01 89.25,459.29 89.8,460.92 90.35,459.99 90.9,459.37 91.45,458.3 92.0,460.19 92.55,460.55 93.1,458.67 93.65,457.61 94.2,458.62 94.75,459.52 95.3,458.92 95.85,454.78 96.4,454.38 96.95,456.47 97.5,454.33 98.05,455.29 98.6,455.45 99.15,454.49 99.7,452.2 100.25,453.99 100.8,448.91 101.35,451.63 101.9,451.75 102.45,449.28 103.0,445.52 103.55,449.34 104.1,446.44 104.65,447.89 105.2,445.45 105.75,445.07 106.3,445.45 106.85,446.34 107.4,443.54 107.95,443.69 108.5,437.69 109.05,441.05 109.6,445.82 110.15,436.85 110.7,439.51 111.25,440.26 111.8,436.81 112.35,434.02 112.9,441.92 113.45,439.26 114.0,431.57 114.55,432.46 115.1,431.79 115.65,438.85 116.2,435.11 116.75,436.21 117.3,435.35 117.85,436.01 118.4,440.23 118.95,439.77 119.5,430.62 120.05,433.71 120.6,438.09 121.15,433.67 121.7,437.58 122.25,435.9 122.8,436.14 123.35,439.97 123.9,434.44 124.45,435.85 125.0,439.58 125.55,446.64 126.1,440.06 126.65,445.97 127.2,446.5 127.75,447.25 128.3,444.14 128.85,445.35 129.4,450.43 129.95,451.03 130.5,454.02 131.05,452.61 131.6,455.99 132.15,455.71 132.7,457.57 133.25,457.82 133.8,457.8 134.35,461.27 134.9,459.21 135.45,459.45 136.0,462.04 136.55,461.44 137.1,463 137.65,463 138.2,460.44 138.75,460.86 139.3,461.2 139.85,461.25 140.4,461.1 140.95,462.67 141.5,461.47 142.05,461.9 142.6,463 143.15,463 143.7,462.68 144.25,462.75 144.8,462.75 145.35,462.79 145.9,462.8 146.45,462.86 147.0,462.9 147.55,462.93 148.1,462.95 148.65,462.98" fill="none" stroke="#0a0a0a" stroke-width="1.6" stroke-linejoin="round"/>
<line x1="197.5" y1="252.4" x2="364.5" y2="252.4" stroke="#999" stroke-width="1"/>
<line x1="364.5" y1="252.4" x2="364.5" y2="353.6" stroke="#999" stroke-width="1"/>
<line x1="197.5" y1="252.4" x2="197.5" y2="353.6" stroke="#333" stroke-width="1"/>
<line x1="197.5" y1="353.6" x2="364.5" y2="353.6" stroke="#333" stroke-width="1"/>
<text x="191.9" y="358.90000000000003" font-size="9.5" text-anchor="end" font-weight="normal" fill="#111" >0</text>
<text x="191.9" y="346.25000000000006" font-size="9.5" text-anchor="end" font-weight="normal" fill="#111" >2</text>
<text x="191.9" y="333.6" font-size="9.5" text-anchor="end" font-weight="normal" fill="#111" >4</text>
<text x="191.9" y="320.95000000000005" font-size="9.5" text-anchor="end" font-weight="normal" fill="#111" >6</text>
<text x="191.9" y="308.3" font-size="9.5" text-anchor="end" font-weight="normal" fill="#111" >8</text>
<text x="191.9" y="295.65000000000003" font-size="9.5" text-anchor="end" font-weight="normal" fill="#111" >10</text>
<text x="191.9" y="283.00000000000006" font-size="9.5" text-anchor="end" font-weight="normal" fill="#111" >12</text>
<text x="191.9" y="270.35" font-size="9.5" text-anchor="end" font-weight="normal" fill="#111" >14</text>
<text x="191.9" y="257.70000000000005" font-size="9.5" text-anchor="end" font-weight="normal" fill="#111" >16</text>
<rect x="210" y="353.09400000000005" width="17" height="0.5059999999999718" fill="#868686" stroke="#222" stroke-width="0.8"/>
<rect x="251.5" y="269.7305" width="17.3" height="83.86950000000002" fill="#868686" stroke="#222" stroke-width="0.8"/>
<line x1="260.15" y1="269.7305" x2="260.15" y2="261.82425" stroke="#111" stroke-width="0.9"/>
<line x1="257.75" y1="261.82425" x2="262.54999999999995" y2="261.82425" stroke="#111" stroke-width="0.9"/>
<rect x="293.6" y="338.0405" width="17" height="15.559500000000014" fill="#868686" stroke="#222" stroke-width="0.8"/>
<line x1="302.1" y1="338.0405" x2="302.1" y2="336.45925" stroke="#111" stroke-width="0.9"/>
<line x1="299.70000000000005" y1="336.45925" x2="304.5" y2="336.45925" stroke="#111" stroke-width="0.9"/>
<rect x="334.8" y="352.65125" width="17" height="0.9487500000000182" fill="#868686" stroke="#222" stroke-width="0.8"/>
<text x="221" y="369.2" font-size="9.5" text-anchor="middle" font-weight="normal" fill="#111" >Mock</text>
<text x="259.4" y="369.2" font-size="9.5" text-anchor="middle" font-weight="normal" fill="#111" >TB40/E</text>
<text x="285.6" y="369.2" font-size="9.5" text-anchor="start" font-weight="normal" fill="#111" >UV-</text>
<text x="285.6" y="380.2" font-size="9.5" text-anchor="start" font-weight="normal" fill="#111" >TB40/E</text>
<text x="324.8" y="369.2" font-size="9.5" text-anchor="start" font-weight="normal" fill="#111" >Filtered</text>
<text x="324.8" y="380.2" font-size="9.5" text-anchor="start" font-weight="normal" fill="#111" >TB40/E</text>
<text x="179.3" y="306.2" font-size="10.5" text-anchor="middle" font-weight="normal" fill="#111" transform="rotate(-90 179.3 306.2)" >IFNγ ng/mL</text>
<rect x="206.7" y="401" width="63.900000000000034" height="62.80000000000001" fill="none" stroke="#222" stroke-width="1.0"/>
<line x1="204.5" y1="463.8" x2="206.7" y2="463.8" stroke="#111" stroke-width="0.6"/>
<line x1="206.7" y1="463.8" x2="206.7" y2="466.2" stroke="#111" stroke-width="0.6"/>
<line x1="205.39999999999998" y1="460.66" x2="206.7" y2="460.66" stroke="#111" stroke-width="0.6"/>
<line x1="209.89499999999998" y1="463.8" x2="209.89499999999998" y2="465.3" stroke="#111" stroke-width="0.6"/>
<line x1="205.39999999999998" y1="457.52" x2="206.7" y2="457.52" stroke="#111" stroke-width="0.6"/>
<line x1="213.09" y1="463.8" x2="213.09" y2="465.3" stroke="#111" stroke-width="0.6"/>
<line x1="205.39999999999998" y1="454.38" x2="206.7" y2="454.38" stroke="#111" stroke-width="0.6"/>
<line x1="216.285" y1="463.8" x2="216.285" y2="465.3" stroke="#111" stroke-width="0.6"/>
<line x1="205.39999999999998" y1="451.24" x2="206.7" y2="451.24" stroke="#111" stroke-width="0.6"/>
<line x1="219.48" y1="463.8" x2="219.48" y2="465.3" stroke="#111" stroke-width="0.6"/>
<line x1="204.5" y1="448.1" x2="206.7" y2="448.1" stroke="#111" stroke-width="0.6"/>
<line x1="222.675" y1="463.8" x2="222.675" y2="466.2" stroke="#111" stroke-width="0.6"/>
<line x1="205.39999999999998" y1="444.96000000000004" x2="206.7" y2="444.96000000000004" stroke="#111" stroke-width="0.6"/>
<line x1="225.87" y1="463.8" x2="225.87" y2="465.3" stroke="#111" stroke-width="0.6"/>
<line x1="205.39999999999998" y1="441.82" x2="206.7" y2="441.82" stroke="#111" stroke-width="0.6"/>
<line x1="229.065" y1="463.8" x2="229.065" y2="465.3" stroke="#111" stroke-width="0.6"/>
<line x1="205.39999999999998" y1="438.68" x2="206.7" y2="438.68" stroke="#111" stroke-width="0.6"/>
<line x1="232.26" y1="463.8" x2="232.26" y2="465.3" stroke="#111" stroke-width="0.6"/>
<line x1="205.39999999999998" y1="435.54" x2="206.7" y2="435.54" stroke="#111" stroke-width="0.6"/>
<line x1="235.455" y1="463.8" x2="235.455" y2="465.3" stroke="#111" stroke-width="0.6"/>
<line x1="204.5" y1="432.4" x2="206.7" y2="432.4" stroke="#111" stroke-width="0.6"/>
<line x1="238.65" y1="463.8" x2="238.65" y2="466.2" stroke="#111" stroke-width="0.6"/>
<line x1="205.39999999999998" y1="429.26" x2="206.7" y2="429.26" stroke="#111" stroke-width="0.6"/>
<line x1="241.845" y1="463.8" x2="241.845" y2="465.3" stroke="#111" stroke-width="0.6"/>
<line x1="205.39999999999998" y1="426.12" x2="206.7" y2="426.12" stroke="#111" stroke-width="0.6"/>
<line x1="245.04000000000002" y1="463.8" x2="245.04000000000002" y2="465.3" stroke="#111" stroke-width="0.6"/>
<line x1="205.39999999999998" y1="422.98" x2="206.7" y2="422.98" stroke="#111" stroke-width="0.6"/>
<line x1="248.235" y1="463.8" x2="248.235" y2="465.3" stroke="#111" stroke-width="0.6"/>
<line x1="205.39999999999998" y1="419.84000000000003" x2="206.7" y2="419.84000000000003" stroke="#111" stroke-width="0.6"/>
<line x1="251.43" y1="463.8" x2="251.43" y2="465.3" stroke="#111" stroke-width="0.6"/>
<line x1="204.5" y1="416.7" x2="206.7" y2="416.7" stroke="#111" stroke-width="0.6"/>
<line x1="254.625" y1="463.8" x2="254.625" y2="466.2" stroke="#111" stroke-width="0.6"/>
<line x1="205.39999999999998" y1="413.56" x2="206.7" y2="413.56" stroke="#111" stroke-width="0.6"/>
<line x1="257.82" y1="463.8" x2="257.82" y2="465.3" stroke="#111" stroke-width="0.6"/>
<line x1="205.39999999999998" y1="410.42" x2="206.7" y2="410.42" stroke="#111" stroke-width="0.6"/>
<line x1="261.01500000000004" y1="463.8" x2="261.01500000000004" y2="465.3" stroke="#111" stroke-width="0.6"/>
<line x1="205.39999999999998" y1="407.28000000000003" x2="206.7" y2="407.28000000000003" stroke="#111" stroke-width="0.6"/>
<line x1="264.21000000000004" y1="463.8" x2="264.21000000000004" y2="465.3" stroke="#111" stroke-width="0.6"/>
<line x1="205.39999999999998" y1="404.14" x2="206.7" y2="404.14" stroke="#111" stroke-width="0.6"/>
<line x1="267.40500000000003" y1="463.8" x2="267.40500000000003" y2="465.3" stroke="#111" stroke-width="0.6"/>
<line x1="204.5" y1="401.0" x2="206.7" y2="401.0" stroke="#111" stroke-width="0.6"/>
<line x1="270.6" y1="463.8" x2="270.6" y2="466.2" stroke="#111" stroke-width="0.6"/>
<text x="187" y="427.2" font-size="10" text-anchor="middle" font-weight="normal" fill="#111" transform="rotate(-90 187 427.2)" >SSC-H</text>
<text x="230" y="490" font-size="10.6" text-anchor="middle" font-weight="normal" fill="#111" >FSC</text>
<line x1="204.6" y1="478" x2="272" y2="478" stroke="#111" stroke-width="1"/>
<path d="M274 478 L269 475.5 L269 480.5 Z" fill="#111"/>
<line x1="192.6" y1="467" x2="192.6" y2="397.7" stroke="#111" stroke-width="1"/>
<path d="M192.6 394.7 L190.7 399.9 L194.5 399.9 Z" fill="#111"/>
<text x="202" y="407.5" font-size="5.2" text-anchor="middle" font-weight="normal" fill="#111" transform="rotate(-90 202 407.5)" >1000</text>
<text x="203.5" y="463" font-size="5.6" text-anchor="middle" font-weight="normal" fill="#111" >0</text>
<text x="203.2" y="474.2" font-size="5.6" text-anchor="middle" font-weight="normal" fill="#111" >0</text>
<text x="258.8" y="474.2" font-size="5.6" text-anchor="middle" font-weight="normal" fill="#111" >1000</text>
<text x="224.6" y="417.3" font-size="6.4" text-anchor="middle" font-weight="normal" fill="#111" >R1</text>
<path d="M220.3 462.2h1v1h-1zM225.4 461.8h1v1h-1zM220.8 462.3h1v1h-1zM225.0 456.3h1v1h-1zM228.7 455.6h1v1h-1zM212.6 460.0h1v1h-1zM215.5 458.9h1v1h-1zM225.6 457.3h1v1h-1zM230.7 455.3h1v1h-1zM224.2 458.2h1v1h-1zM223.3 461.5h1v1h-1zM228.3 454.5h1v1h-1zM223.2 462.4h1v1h-1zM230.2 455.6h1v1h-1zM224.7 453.1h1v1h-1zM217.1 458.9h1v1h-1zM226.1 457.0h1v1h-1zM225.8 457.6h1v1h-1zM216.8 460.9h1v1h-1zM222.6 457.9h1v1h-1zM225.7 455.4h1v1h-1zM222.2 460.7h1v1h-1zM217.4 460.2h1v1h-1zM220.7 454.8h1v1h-1zM230.3 455.4h1v1h-1zM224.2 448.6h1v1h-1zM227.2 455.3h1v1h-1zM213.5 460.1h1v1h-1zM224.9 451.8h1v1h-1zM225.1 452.9h1v1h-1zM225.7 457.8h1v1h-1zM226.2 459.1h1v1h-1zM213.8 459.1h1v1h-1zM222.5 456.7h1v1h-1zM219.0 455.6h1v1h-1zM225.8 458.3h1v1h-1zM212.8 460.3h1v1h-1zM226.9 456.6h1v1h-1zM223.5 456.5h1v1h-1zM216.9 460.1h1v1h-1zM216.3 457.8h1v1h-1zM220.6 457.5h1v1h-1zM228.1 456.9h1v1h-1zM216.1 456.1h1v1h-1zM213.9 459.6h1v1h-1zM224.3 457.2h1v1h-1zM217.7 455.7h1v1h-1zM219.1 456.1h1v1h-1zM229.5 456.8h1v1h-1zM229.5 455.9h1v1h-1zM216.4 461.7h1v1h-1zM212.8 459.4h1v1h-1zM217.3 456.6h1v1h-1zM222.9 458.2h1v1h-1zM222.6 456.8h1v1h-1zM218.4 459.9h1v1h-1zM220.5 456.4h1v1h-1zM224.2 458.5h1v1h-1zM228.4 454.6h1v1h-1zM233.6 455.2h1v1h-1zM225.7 458.7h1v1h-1zM226.5 461.1h1v1h-1zM226.6 455.4h1v1h-1zM228.2 456.7h1v1h-1zM220.6 457.5h1v1h-1zM212.8 459.4h1v1h-1zM226.8 455.3h1v1h-1zM212.9 457.9h1v1h-1zM225.8 461.9h1v1h-1zM213.2 459.1h1v1h-1zM223.8 460.7h1v1h-1zM216.9 460.9h1v1h-1zM229.9 454.2h1v1h-1zM217.9 459.9h1v1h-1zM222.7 458.1h1v1h-1zM212.9 460.9h1v1h-1zM224.9 454.4h1v1h-1zM214.8 458.5h1v1h-1zM230.1 455.4h1v1h-1zM226.0 456.2h1v1h-1zM221.8 459.0h1v1h-1zM223.7 457.5h1v1h-1zM221.2 456.9h1v1h-1zM220.5 460.5h1v1h-1zM221.0 457.6h1v1h-1zM219.3 459.2h1v1h-1zM230.3 456.5h1v1h-1zM219.3 460.3h1v1h-1zM219.0 460.7h1v1h-1zM222.5 461.2h1v1h-1zM220.4 457.7h1v1h-1zM220.6 454.6h1v1h-1zM214.9 459.5h1v1h-1zM226.4 457.8h1v1h-1zM223.1 458.7h1v1h-1zM226.3 457.5h1v1h-1zM226.3 458.4h1v1h-1zM215.5 461.3h1v1h-1zM217.5 459.9h1v1h-1zM211.8 459.2h1v1h-1zM224.4 454.2h1v1h-1zM225.5 457.9h1v1h-1zM216.7 459.9h1v1h-1zM211.8 461.4h1v1h-1zM220.1 454.3h1v1h-1zM219.9 456.7h1v1h-1zM215.1 458.3h1v1h-1zM220.1 457.5h1v1h-1zM223.9 461.8h1v1h-1zM219.4 457.2h1v1h-1zM221.1 453.9h1v1h-1zM216.3 457.6h1v1h-1zM223.7 458.6h1v1h-1zM221.2 452.2h1v1h-1zM220.8 459.4h1v1h-1zM222.2 453.2h1v1h-1zM228.2 456.4h1v1h-1zM221.9 461.2h1v1h-1zM223.8 458.3h1v1h-1zM220.6 460.5h1v1h-1zM220.0 453.4h1v1h-1zM225.2 459.3h1v1h-1zM224.1 457.9h1v1h-1zM225.2 460.8h1v1h-1zM225.4 452.8h1v1h-1zM219.1 462.1h1v1h-1zM221.0 462.8h1v1h-1zM213.2 461.6h1v1h-1zM228.7 451.9h1v1h-1zM219.9 459.4h1v1h-1zM222.1 456.9h1v1h-1zM223.2 455.8h1v1h-1zM218.8 456.6h1v1h-1zM226.9 457.4h1v1h-1zM221.8 460.2h1v1h-1zM220.7 460.7h1v1h-1zM216.0 459.2h1v1h-1zM212.4 459.7h1v1h-1zM221.5 458.4h1v1h-1zM222.4 458.8h1v1h-1zM215.4 460.5h1v1h-1zM218.2 451.5h1v1h-1zM215.8 460.9h1v1h-1zM224.5 452.5h1v1h-1zM226.0 457.2h1v1h-1zM219.9 456.5h1v1h-1zM225.4 460.7h1v1h-1zM216.3 459.2h1v1h-1zM229.0 457.0h1v1h-1zM220.6 454.1h1v1h-1zM217.7 461.9h1v1h-1zM216.3 458.2h1v1h-1zM219.8 455.7h1v1h-1zM222.8 459.5h1v1h-1zM229.8 453.4h1v1h-1zM221.6 460.8h1v1h-1zM220.1 461.0h1v1h-1zM221.4 460.0h1v1h-1zM222.7 455.1h1v1h-1zM227.6 456.1h1v1h-1zM220.7 452.4h1v1h-1zM216.2 459.5h1v1h-1zM215.0 462.1h1v1h-1zM223.7 460.9h1v1h-1zM220.7 456.4h1v1h-1zM222.5 458.5h1v1h-1zM217.6 461.1h1v1h-1zM220.6 461.4h1v1h-1zM217.4 458.8h1v1h-1zM230.7 450.2h1v1h-1zM225.5 457.6h1v1h-1zM220.4 458.4h1v1h-1zM223.4 457.5h1v1h-1zM226.6 455.4h1v1h-1zM219.7 457.1h1v1h-1zM226.0 458.2h1v1h-1zM224.2 457.5h1v1h-1zM235.6 453.6h1v1h-1zM214.0 461.3h1v1h-1zM221.2 458.4h1v1h-1zM217.0 459.1h1v1h-1zM219.7 455.9h1v1h-1zM215.9 458.4h1v1h-1zM227.2 453.2h1v1h-1zM227.0 457.5h1v1h-1zM228.3 454.0h1v1h-1zM214.3 455.5h1v1h-1zM220.1 461.3h1v1h-1zM226.8 454.9h1v1h-1zM219.6 458.8h1v1h-1zM228.3 454.8h1v1h-1zM219.7 457.9h1v1h-1zM222.2 458.5h1v1h-1zM220.1 458.2h1v1h-1zM218.9 461.7h1v1h-1zM216.2 461.3h1v1h-1zM225.4 459.3h1v1h-1zM225.1 458.7h1v1h-1zM219.5 460.3h1v1h-1zM227.5 459.3h1v1h-1zM225.8 458.8h1v1h-1zM211.2 457.4h1v1h-1zM212.6 458.0h1v1h-1zM221.9 457.5h1v1h-1zM229.5 457.9h1v1h-1zM219.2 462.3h1v1h-1zM218.6 460.9h1v1h-1zM215.2 462.4h1v1h-1zM221.8 456.7h1v1h-1zM226.0 459.5h1v1h-1zM223.7 455.7h1v1h-1zM220.7 458.2h1v1h-1zM225.6 459.8h1v1h-1zM214.8 462.4h1v1h-1zM217.7 460.4h1v1h-1zM221.0 452.9h1v1h-1zM216.4 458.6h1v1h-1zM218.6 457.3h1v1h-1zM225.7 459.7h1v1h-1zM217.5 460.5h1v1h-1zM218.3 459.1h1v1h-1zM216.4 461.9h1v1h-1zM222.3 458.0h1v1h-1zM221.0 454.2h1v1h-1zM222.5 457.5h1v1h-1zM214.9 461.3h1v1h-1zM223.3 458.2h1v1h-1zM221.3 459.4h1v1h-1zM217.4 455.6h1v1h-1zM225.2 452.9h1v1h-1zM221.4 461.1h1v1h-1zM221.0 459.4h1v1h-1zM227.1 456.7h1v1h-1zM216.5 457.0h1v1h-1zM219.8 459.5h1v1h-1zM218.4 462.2h1v1h-1zM223.9 458.6h1v1h-1zM221.6 457.9h1v1h-1zM215.3 458.7h1v1h-1zM218.1 455.9h1v1h-1zM221.1 455.8h1v1h-1zM225.6 453.5h1v1h-1zM225.8 457.0h1v1h-1zM221.9 461.6h1v1h-1zM216.6 457.5h1v1h-1zM225.3 459.4h1v1h-1zM221.7 458.8h1v1h-1zM218.3 457.6h1v1h-1zM229.9 452.9h1v1h-1zM220.1 457.6h1v1h-1zM220.9 462.0h1v1h-1zM214.4 459.4h1v1h-1zM223.4 458.0h1v1h-1zM225.0 456.2h1v1h-1zM220.6 461.6h1v1h-1zM217.6 458.0h1v1h-1zM222.7 453.9h1v1h-1zM220.3 458.5h1v1h-1zM226.6 458.8h1v1h-1zM219.8 458.1h1v1h-1zM214.1 462.6h1v1h-1zM219.3 459.7h1v1h-1zM213.1 460.0h1v1h-1zM216.9 459.2h1v1h-1zM219.4 459.8h1v1h-1zM216.3 459.7h1v1h-1zM215.7 460.6h1v1h-1zM216.5 455.7h1v1h-1zM219.3 462.6h1v1h-1zM220.2 457.3h1v1h-1zM218.9 457.1h1v1h-1zM214.0 462.7h1v1h-1zM224.0 457.6h1v1h-1zM223.5 459.0h1v1h-1zM217.4 456.9h1v1h-1zM220.9 457.0h1v1h-1zM221.6 456.4h1v1h-1zM224.0 460.8h1v1h-1zM219.9 461.7h1v1h-1zM227.5 453.1h1v1h-1zM217.0 456.6h1v1h-1zM225.0 457.8h1v1h-1zM221.3 453.9h1v1h-1zM225.9 457.4h1v1h-1zM217.3 456.3h1v1h-1zM215.7 461.1h1v1h-1zM218.6 459.5h1v1h-1zM221.5 458.1h1v1h-1zM217.4 459.1h1v1h-1zM220.3 461.9h1v1h-1zM220.5 459.1h1v1h-1zM221.9 458.8h1v1h-1zM222.5 461.2h1v1h-1zM216.4 462.6h1v1h-1zM215.6 460.5h1v1h-1zM210.9 457.0h1v1h-1zM213.2 460.9h1v1h-1zM215.8 462.3h1v1h-1zM211.9 461.7h1v1h-1zM220.3 457.7h1v1h-1zM225.6 457.9h1v1h-1zM221.7 461.4h1v1h-1zM221.4 462.0h1v1h-1zM216.5 460.8h1v1h-1zM219.4 452.0h1v1h-1zM218.7 462.7h1v1h-1zM220.1 459.5h1v1h-1zM227.4 454.3h1v1h-1zM218.4 459.6h1v1h-1zM217.1 462.6h1v1h-1zM216.6 459.2h1v1h-1zM218.5 460.7h1v1h-1zM221.4 460.2h1v1h-1zM214.0 462.7h1v1h-1zM221.1 457.2h1v1h-1zM223.0 456.7h1v1h-1zM227.5 457.6h1v1h-1zM230.6 452.0h1v1h-1zM225.2 455.8h1v1h-1zM215.2 456.6h1v1h-1zM220.7 457.9h1v1h-1zM219.1 459.6h1v1h-1zM225.8 458.1h1v1h-1zM221.0 459.2h1v1h-1zM222.6 458.1h1v1h-1zM222.3 455.4h1v1h-1zM213.8 462.2h1v1h-1zM218.0 458.4h1v1h-1zM231.5 453.0h1v1h-1zM220.9 455.8h1v1h-1zM218.8 458.9h1v1h-1zM212.5 457.3h1v1h-1zM222.8 458.6h1v1h-1zM220.4 458.4h1v1h-1zM228.3 456.4h1v1h-1zM219.3 462.1h1v1h-1zM225.1 459.3h1v1h-1zM225.7 461.0h1v1h-1zM226.5 456.0h1v1h-1zM224.1 456.7h1v1h-1zM216.0 453.6h1v1h-1zM218.5 458.3h1v1h-1zM222.2 457.3h1v1h-1zM217.2 461.4h1v1h-1zM223.0 460.7h1v1h-1zM214.9 461.6h1v1h-1zM221.3 462.2h1v1h-1zM220.8 456.6h1v1h-1zM219.4 457.2h1v1h-1zM221.0 459.7h1v1h-1zM220.8 461.4h1v1h-1zM218.7 462.4h1v1h-1zM215.2 456.9h1v1h-1zM223.7 458.0h1v1h-1zM212.4 456.2h1v1h-1zM225.0 460.1h1v1h-1zM228.0 462.4h1v1h-1zM229.1 455.9h1v1h-1zM222.7 456.3h1v1h-1zM225.5 455.5h1v1h-1zM221.2 459.7h1v1h-1zM219.5 459.2h1v1h-1zM220.4 456.5h1v1h-1zM225.8 453.1h1v1h-1zM216.7 461.3h1v1h-1zM213.7 455.2h1v1h-1zM222.4 456.0h1v1h-1zM222.4 461.4h1v1h-1zM225.1 457.1h1v1h-1zM222.7 455.4h1v1h-1zM218.0 458.8h1v1h-1zM214.4 458.7h1v1h-1zM220.8 460.8h1v1h-1zM221.1 459.7h1v1h-1zM215.0 459.9h1v1h-1zM227.8 459.4h1v1h-1zM229.9 460.7h1v1h-1zM211.8 460.5h1v1h-1zM214.0 461.5h1v1h-1zM223.2 458.1h1v1h-1zM225.0 455.5h1v1h-1zM226.8 453.4h1v1h-1zM216.6 461.8h1v1h-1zM218.7 456.8h1v1h-1zM218.9 457.9h1v1h-1zM222.3 460.7h1v1h-1zM223.5 456.7h1v1h-1zM217.9 459.5h1v1h-1zM217.4 458.9h1v1h-1zM213.6 462.0h1v1h-1zM221.8 453.9h1v1h-1zM215.4 462.0h1v1h-1zM226.1 453.5h1v1h-1zM223.3 460.1h1v1h-1zM230.7 451.0h1v1h-1zM218.8 459.8h1v1h-1zM222.8 456.2h1v1h-1zM217.5 462.2h1v1h-1zM222.6 461.8h1v1h-1zM219.7 458.3h1v1h-1zM223.6 458.2h1v1h-1zM219.6 455.4h1v1h-1zM218.9 455.8h1v1h-1zM213.6 462.1h1v1h-1zM219.3 456.7h1v1h-1zM221.4 452.1h1v1h-1zM219.2 456.8h1v1h-1zM213.9 460.2h1v1h-1zM218.3 459.6h1v1h-1zM226.6 459.3h1v1h-1zM216.2 462.2h1v1h-1zM221.2 456.4h1v1h-1zM217.9 460.1h1v1h-1zM230.8 460.0h1v1h-1zM224.8 455.1h1v1h-1zM220.5 455.5h1v1h-1zM226.7 459.4h1v1h-1zM211.6 462.4h1v1h-1zM220.7 460.9h1v1h-1zM226.6 461.0h1v1h-1zM223.5 458.7h1v1h-1zM216.6 455.6h1v1h-1zM218.9 462.2h1v1h-1zM222.6 456.4h1v1h-1zM217.3 461.6h1v1h-1zM219.5 459.3h1v1h-1zM221.8 459.0h1v1h-1zM226.5 452.4h1v1h-1zM221.8 461.5h1v1h-1zM211.4 460.7h1v1h-1zM219.0 456.5h1v1h-1zM222.6 454.5h1v1h-1zM211.1 456.5h1v1h-1zM221.4 457.3h1v1h-1zM219.9 458.6h1v1h-1zM215.0 461.1h1v1h-1zM215.4 456.9h1v1h-1zM218.6 461.1h1v1h-1zM230.9 456.5h1v1h-1zM222.0 456.2h1v1h-1zM219.8 460.5h1v1h-1zM223.2 455.6h1v1h-1zM222.9 459.9h1v1h-1zM217.7 459.0h1v1h-1zM217.5 459.6h1v1h-1zM225.2 459.7h1v1h-1zM215.7 456.8h1v1h-1zM222.7 457.2h1v1h-1zM219.9 460.5h1v1h-1zM219.7 457.5h1v1h-1zM224.0 461.8h1v1h-1zM219.1 457.3h1v1h-1zM212.2 461.5h1v1h-1zM217.6 458.9h1v1h-1zM227.9 456.8h1v1h-1zM220.3 456.9h1v1h-1zM222.7 454.5h1v1h-1zM218.7 456.2h1v1h-1zM217.4 459.2h1v1h-1zM220.6 455.1h1v1h-1zM216.9 459.4h1v1h-1zM225.9 456.5h1v1h-1zM220.1 458.1h1v1h-1zM221.2 460.6h1v1h-1zM216.3 458.8h1v1h-1zM228.0 456.7h1v1h-1zM220.1 458.3h1v1h-1zM213.6 456.9h1v1h-1zM222.9 460.9h1v1h-1zM223.5 453.1h1v1h-1zM219.0 456.8h1v1h-1zM216.9 456.0h1v1h-1zM213.7 459.2h1v1h-1zM210.9 456.5h1v1h-1zM224.5 458.4h1v1h-1zM218.5 457.9h1v1h-1zM228.1 454.8h1v1h-1zM214.8 458.8h1v1h-1zM223.0 456.6h1v1h-1zM211.3 458.7h1v1h-1zM229.5 457.0h1v1h-1zM216.0 460.3h1v1h-1zM221.7 461.5h1v1h-1zM223.6 455.4h1v1h-1zM221.7 455.2h1v1h-1zM215.0 459.6h1v1h-1zM230.4 456.1h1v1h-1zM218.0 460.9h1v1h-1zM219.6 462.1h1v1h-1zM218.6 460.6h1v1h-1zM227.2 457.2h1v1h-1zM219.9 462.7h1v1h-1zM222.0 460.2h1v1h-1zM217.5 458.5h1v1h-1zM215.4 461.6h1v1h-1zM226.4 455.0h1v1h-1zM217.8 458.6h1v1h-1zM222.6 460.4h1v1h-1zM225.2 456.1h1v1h-1zM218.4 457.0h1v1h-1zM226.0 452.8h1v1h-1zM220.9 458.1h1v1h-1zM218.4 458.9h1v1h-1zM211.9 460.7h1v1h-1zM222.2 457.3h1v1h-1zM217.9 461.5h1v1h-1zM221.1 459.3h1v1h-1zM221.8 461.2h1v1h-1zM218.5 461.7h1v1h-1zM226.1 462.0h1v1h-1zM214.4 458.2h1v1h-1zM217.1 459.0h1v1h-1zM225.1 458.0h1v1h-1zM222.8 459.9h1v1h-1zM218.4 455.5h1v1h-1zM222.6 459.0h1v1h-1zM219.8 458.0h1v1h-1zM212.4 457.2h1v1h-1zM216.4 461.9h1v1h-1zM227.8 454.4h1v1h-1zM212.4 461.1h1v1h-1zM213.5 461.0h1v1h-1zM223.3 453.3h1v1h-1zM226.5 456.5h1v1h-1zM223.1 460.5h1v1h-1zM219.0 461.2h1v1h-1zM219.4 457.4h1v1h-1zM221.1 459.2h1v1h-1zM226.5 460.7h1v1h-1zM231.2 457.4h1v1h-1zM220.4 458.9h1v1h-1zM234.8 455.4h1v1h-1zM228.4 455.3h1v1h-1zM221.1 455.9h1v1h-1zM222.7 453.8h1v1h-1zM221.4 459.1h1v1h-1zM218.5 458.5h1v1h-1zM217.8 457.8h1v1h-1zM219.1 459.1h1v1h-1zM221.7 457.0h1v1h-1zM219.2 453.9h1v1h-1zM232.6 458.8h1v1h-1zM217.7 460.2h1v1h-1zM226.0 458.1h1v1h-1zM218.6 457.6h1v1h-1zM220.8 458.2h1v1h-1zM222.1 456.5h1v1h-1zM222.9 458.9h1v1h-1zM224.1 461.9h1v1h-1zM215.1 457.6h1v1h-1zM225.2 457.3h1v1h-1zM233.3 452.5h1v1h-1zM218.3 457.3h1v1h-1zM223.7 454.4h1v1h-1zM220.4 457.6h1v1h-1zM223.6 461.8h1v1h-1zM219.6 460.1h1v1h-1zM218.2 455.4h1v1h-1zM230.6 454.8h1v1h-1zM212.4 459.1h1v1h-1zM221.1 460.2h1v1h-1zM220.6 460.7h1v1h-1zM223.7 456.4h1v1h-1zM215.1 457.0h1v1h-1zM220.2 458.3h1v1h-1zM223.0 456.4h1v1h-1zM225.0 457.1h1v1h-1zM231.3 456.5h1v1h-1zM226.3 461.6h1v1h-1zM221.5 460.5h1v1h-1zM219.9 460.6h1v1h-1zM233.7 452.1h1v1h-1zM224.1 457.5h1v1h-1zM215.8 458.2h1v1h-1zM217.5 453.7h1v1h-1zM224.2 462.0h1v1h-1zM217.0 453.2h1v1h-1zM219.9 453.6h1v1h-1zM217.6 460.2h1v1h-1zM225.1 460.1h1v1h-1zM216.3 454.9h1v1h-1zM213.9 458.7h1v1h-1zM221.1 454.2h1v1h-1zM221.1 460.4h1v1h-1zM226.2 458.5h1v1h-1zM221.6 455.9h1v1h-1zM218.6 458.1h1v1h-1zM219.3 460.0h1v1h-1zM229.1 456.8h1v1h-1zM217.3 456.1h1v1h-1zM224.5 456.7h1v1h-1zM219.6 457.1h1v1h-1zM216.6 458.3h1v1h-1zM223.8 461.6h1v1h-1zM217.4 458.0h1v1h-1zM225.4 457.2h1v1h-1zM216.5 462.0h1v1h-1zM223.1 454.2h1v1h-1zM217.3 458.8h1v1h-1zM220.4 458.0h1v1h-1zM219.2 458.6h1v1h-1zM221.2 459.5h1v1h-1zM228.0 455.8h1v1h-1zM218.2 457.0h1v1h-1zM226.4 455.2h1v1h-1zM219.6 454.3h1v1h-1zM222.0 462.4h1v1h-1zM221.1 454.6h1v1h-1zM222.4 455.6h1v1h-1zM225.2 461.1h1v1h-1zM217.1 457.8h1v1h-1zM218.9 458.7h1v1h-1zM211.2 460.9h1v1h-1zM227.7 458.6h1v1h-1zM229.0 456.0h1v1h-1zM215.1 457.1h1v1h-1zM218.2 455.7h1v1h-1zM218.5 457.6h1v1h-1zM221.5 461.4h1v1h-1zM211.9 462.1h1v1h-1zM226.5 458.6h1v1h-1zM221.4 451.7h1v1h-1zM216.9 458.3h1v1h-1zM224.3 456.1h1v1h-1zM222.7 459.6h1v1h-1zM221.2 458.9h1v1h-1zM220.9 459.9h1v1h-1zM214.4 455.0h1v1h-1zM224.9 458.8h1v1h-1zM220.9 453.8h1v1h-1zM226.0 456.7h1v1h-1zM218.1 455.2h1v1h-1zM225.4 458.1h1v1h-1zM221.7 456.9h1v1h-1zM230.5 448.5h1v1h-1zM213.5 460.3h1v1h-1zM220.9 462.0h1v1h-1zM218.9 456.1h1v1h-1zM215.7 457.1h1v1h-1zM225.1 460.4h1v1h-1zM213.1 461.5h1v1h-1zM224.4 454.6h1v1h-1zM224.5 462.4h1v1h-1zM222.3 461.4h1v1h-1zM214.4 461.5h1v1h-1zM218.3 458.1h1v1h-1zM221.8 456.0h1v1h-1zM227.1 455.2h1v1h-1zM224.9 460.0h1v1h-1zM219.1 460.8h1v1h-1zM219.2 458.7h1v1h-1zM221.8 460.6h1v1h-1zM217.8 460.1h1v1h-1zM228.9 453.3h1v1h-1zM222.3 460.0h1v1h-1zM232.0 457.3h1v1h-1zM217.4 454.1h1v1h-1zM219.4 458.6h1v1h-1zM220.7 461.9h1v1h-1zM217.1 458.4h1v1h-1zM227.6 454.6h1v1h-1zM225.8 453.4h1v1h-1zM223.2 460.2h1v1h-1zM221.1 456.4h1v1h-1zM220.1 454.7h1v1h-1zM221.4 460.6h1v1h-1zM226.8 456.5h1v1h-1zM216.7 461.7h1v1h-1zM218.7 459.8h1v1h-1zM219.0 458.1h1v1h-1zM218.1 461.7h1v1h-1zM224.0 456.9h1v1h-1zM219.8 456.7h1v1h-1zM222.1 451.6h1v1h-1zM219.3 458.3h1v1h-1zM221.0 461.5h1v1h-1zM212.5 461.4h1v1h-1zM224.8 459.5h1v1h-1zM214.1 459.5h1v1h-1zM223.4 457.5h1v1h-1zM212.2 459.0h1v1h-1zM222.9 458.8h1v1h-1zM220.6 460.6h1v1h-1zM223.6 454.9h1v1h-1zM225.6 459.7h1v1h-1zM224.3 457.4h1v1h-1zM221.8 456.8h1v1h-1zM227.5 454.9h1v1h-1zM221.1 455.0h1v1h-1zM231.2 451.6h1v1h-1zM228.4 458.2h1v1h-1zM222.5 459.4h1v1h-1zM224.2 457.6h1v1h-1zM219.2 457.2h1v1h-1zM226.1 454.6h1v1h-1zM220.5 456.9h1v1h-1zM228.0 454.4h1v1h-1zM226.4 454.6h1v1h-1zM219.6 461.5h1v1h-1zM223.6 459.8h1v1h-1zM225.0 461.8h1v1h-1zM214.0 460.1h1v1h-1zM223.7 459.1h1v1h-1zM222.8 456.8h1v1h-1zM213.0 458.7h1v1h-1zM224.6 458.4h1v1h-1zM218.8 455.4h1v1h-1zM219.2 456.5h1v1h-1zM217.7 461.9h1v1h-1zM228.0 451.7h1v1h-1zM229.1 459.3h1v1h-1zM217.1 459.2h1v1h-1zM217.0 459.9h1v1h-1zM220.2 461.7h1v1h-1zM236.1 457.1h1v1h-1zM226.4 457.7h1v1h-1zM215.8 460.2h1v1h-1zM228.0 454.9h1v1h-1zM223.4 456.2h1v1h-1zM220.5 459.4h1v1h-1zM226.8 457.8h1v1h-1zM225.6 459.2h1v1h-1zM233.2 452.0h1v1h-1zM216.3 456.3h1v1h-1zM225.0 452.0h1v1h-1zM229.3 458.0h1v1h-1zM219.8 460.3h1v1h-1zM223.7 456.4h1v1h-1zM219.2 459.8h1v1h-1zM223.0 455.6h1v1h-1zM221.9 459.2h1v1h-1zM215.0 460.7h1v1h-1zM217.2 461.3h1v1h-1zM228.1 450.1h1v1h-1zM212.1 457.0h1v1h-1zM224.4 457.8h1v1h-1zM221.2 458.0h1v1h-1zM223.1 458.2h1v1h-1zM212.9 461.5h1v1h-1zM222.4 458.1h1v1h-1zM222.0 462.5h1v1h-1zM217.2 461.1h1v1h-1zM217.6 460.2h1v1h-1zM227.9 462.4h1v1h-1zM220.7 457.0h1v1h-1zM220.3 455.3h1v1h-1zM215.2 460.5h1v1h-1zM215.8 461.6h1v1h-1zM211.6 458.0h1v1h-1zM229.1 457.1h1v1h-1zM222.4 456.8h1v1h-1zM224.9 457.6h1v1h-1zM212.2 456.9h1v1h-1zM219.4 455.9h1v1h-1zM214.8 455.8h1v1h-1zM218.3 459.4h1v1h-1zM214.5 457.5h1v1h-1zM212.3 461.4h1v1h-1zM240.2 450.9h1v1h-1zM226.0 458.2h1v1h-1zM221.3 460.1h1v1h-1zM222.6 457.7h1v1h-1zM220.8 459.7h1v1h-1zM219.8 459.2h1v1h-1zM217.0 459.5h1v1h-1zM213.9 461.4h1v1h-1zM224.4 455.2h1v1h-1zM227.0 456.3h1v1h-1zM218.9 461.2h1v1h-1zM224.4 453.8h1v1h-1zM222.4 461.0h1v1h-1zM217.0 461.8h1v1h-1zM215.7 462.0h1v1h-1zM224.0 454.8h1v1h-1zM228.4 458.6h1v1h-1zM220.3 459.7h1v1h-1zM221.7 458.2h1v1h-1zM212.6 459.7h1v1h-1zM211.4 461.9h1v1h-1zM212.1 461.0h1v1h-1zM221.9 460.1h1v1h-1zM218.9 458.7h1v1h-1zM227.8 457.7h1v1h-1zM226.9 454.0h1v1h-1zM221.9 452.1h1v1h-1zM220.3 457.3h1v1h-1zM216.0 460.9h1v1h-1zM212.8 462.2h1v1h-1zM212.8 457.7h1v1h-1zM218.3 455.9h1v1h-1zM217.2 457.5h1v1h-1zM224.4 452.6h1v1h-1zM214.1 458.6h1v1h-1zM231.0 457.0h1v1h-1zM227.4 457.0h1v1h-1zM232.8 456.5h1v1h-1zM228.0 453.1h1v1h-1zM213.4 460.7h1v1h-1zM225.6 453.6h1v1h-1zM227.4 457.3h1v1h-1zM232.9 454.5h1v1h-1zM222.9 456.1h1v1h-1zM231.7 452.0h1v1h-1zM216.5 455.7h1v1h-1zM223.1 456.0h1v1h-1zM226.0 455.8h1v1h-1zM220.3 460.6h1v1h-1zM221.4 460.1h1v1h-1zM221.4 454.0h1v1h-1zM216.3 458.2h1v1h-1zM220.1 455.9h1v1h-1zM216.0 461.3h1v1h-1zM217.3 455.2h1v1h-1zM214.4 460.8h1v1h-1zM220.8 456.3h1v1h-1zM212.1 458.0h1v1h-1zM215.1 458.6h1v1h-1zM212.5 459.2h1v1h-1zM220.6 456.9h1v1h-1zM218.6 462.6h1v1h-1zM215.9 461.9h1v1h-1zM223.3 457.8h1v1h-1zM213.3 460.1h1v1h-1zM221.8 462.1h1v1h-1zM218.3 458.5h1v1h-1zM220.4 459.3h1v1h-1zM221.7 457.7h1v1h-1zM215.0 459.3h1v1h-1zM221.7 460.2h1v1h-1zM221.2 451.9h1v1h-1zM221.1 455.0h1v1h-1zM222.1 456.9h1v1h-1zM220.7 462.0h1v1h-1zM218.4 454.0h1v1h-1zM212.3 461.5h1v1h-1zM218.8 460.1h1v1h-1zM223.5 454.6h1v1h-1zM214.4 458.5h1v1h-1zM229.0 457.2h1v1h-1zM223.9 455.1h1v1h-1zM215.4 452.3h1v1h-1zM221.7 457.5h1v1h-1zM216.7 460.7h1v1h-1zM225.2 456.1h1v1h-1zM226.8 453.2h1v1h-1zM219.1 462.0h1v1h-1zM222.6 459.6h1v1h-1zM226.2 457.2h1v1h-1zM214.3 462.8h1v1h-1zM223.4 456.8h1v1h-1zM223.1 454.7h1v1h-1zM218.7 461.1h1v1h-1zM224.0 452.0h1v1h-1zM213.7 462.3h1v1h-1zM218.7 459.3h1v1h-1zM215.5 455.6h1v1h-1zM220.1 457.5h1v1h-1zM231.6 458.5h1v1h-1zM223.9 456.7h1v1h-1zM221.0 460.9h1v1h-1zM220.1 455.1h1v1h-1zM216.2 458.5h1v1h-1zM217.1 456.3h1v1h-1zM226.4 456.4h1v1h-1zM220.6 461.9h1v1h-1zM216.5 461.3h1v1h-1zM212.1 461.5h1v1h-1zM222.3 458.8h1v1h-1zM212.6 460.3h1v1h-1zM224.6 457.4h1v1h-1zM220.7 455.2h1v1h-1zM223.5 459.1h1v1h-1zM221.6 456.3h1v1h-1zM221.8 457.4h1v1h-1zM223.3 454.7h1v1h-1zM219.0 453.6h1v1h-1zM214.9 460.2h1v1h-1zM219.8 461.0h1v1h-1zM222.1 454.4h1v1h-1zM219.2 461.0h1v1h-1zM226.0 455.2h1v1h-1zM221.7 456.8h1v1h-1zM222.8 458.8h1v1h-1zM220.0 459.4h1v1h-1zM225.8 455.7h1v1h-1zM219.5 456.6h1v1h-1zM220.9 457.9h1v1h-1zM214.7 459.8h1v1h-1zM218.2 460.5h1v1h-1zM218.0 461.0h1v1h-1zM223.9 456.3h1v1h-1zM217.9 462.7h1v1h-1zM219.6 458.4h1v1h-1zM222.0 455.9h1v1h-1zM223.5 458.5h1v1h-1zM224.3 460.3h1v1h-1zM220.1 462.4h1v1h-1zM219.5 458.0h1v1h-1zM225.4 455.4h1v1h-1zM218.4 458.0h1v1h-1zM218.8 459.2h1v1h-1zM226.0 455.6h1v1h-1zM218.4 462.4h1v1h-1zM228.3 457.6h1v1h-1zM214.8 459.5h1v1h-1zM225.8 458.8h1v1h-1zM221.3 458.7h1v1h-1zM220.9 455.4h1v1h-1zM224.4 455.1h1v1h-1zM235.4 456.9h1v1h-1zM223.9 459.4h1v1h-1zM228.2 456.0h1v1h-1zM221.1 456.7h1v1h-1zM214.9 461.0h1v1h-1zM217.7 461.5h1v1h-1zM214.6 452.6h1v1h-1zM221.0 459.7h1v1h-1zM221.1 461.7h1v1h-1zM211.3 460.8h1v1h-1zM214.1 461.4h1v1h-1zM217.5 459.1h1v1h-1zM218.5 458.4h1v1h-1zM213.2 459.2h1v1h-1zM228.1 456.2h1v1h-1zM222.3 453.9h1v1h-1zM221.7 458.0h1v1h-1zM217.9 461.6h1v1h-1zM220.7 455.6h1v1h-1zM214.1 459.9h1v1h-1zM222.6 455.2h1v1h-1zM218.6 457.8h1v1h-1zM222.4 457.9h1v1h-1zM219.7 460.0h1v1h-1zM213.8 456.2h1v1h-1zM220.2 457.1h1v1h-1zM222.4 459.7h1v1h-1zM221.4 457.4h1v1h-1zM227.0 456.7h1v1h-1zM224.1 460.8h1v1h-1zM219.9 458.2h1v1h-1zM217.4 460.3h1v1h-1zM221.8 462.2h1v1h-1zM219.2 461.2h1v1h-1zM219.2 460.9h1v1h-1zM218.4 458.5h1v1h-1zM221.1 460.0h1v1h-1zM222.7 456.3h1v1h-1zM222.8 453.8h1v1h-1zM218.4 460.8h1v1h-1zM219.3 457.9h1v1h-1zM213.4 460.7h1v1h-1zM222.0 461.1h1v1h-1zM221.7 462.5h1v1h-1zM216.9 456.5h1v1h-1zM228.3 460.4h1v1h-1zM222.3 462.7h1v1h-1zM225.8 455.6h1v1h-1zM226.1 457.8h1v1h-1zM219.9 462.7h1v1h-1zM231.8 458.4h1v1h-1zM218.2 459.7h1v1h-1zM221.3 458.1h1v1h-1zM231.4 457.0h1v1h-1zM216.6 456.2h1v1h-1zM219.4 458.3h1v1h-1zM219.7 458.9h1v1h-1zM223.0 452.2h1v1h-1zM223.3 455.8h1v1h-1zM216.5 460.0h1v1h-1zM216.9 459.6h1v1h-1zM223.2 458.8h1v1h-1zM222.0 459.7h1v1h-1zM220.2 459.9h1v1h-1zM220.8 453.2h1v1h-1zM220.9 455.0h1v1h-1zM222.8 456.6h1v1h-1zM220.7 449.7h1v1h-1zM227.0 456.7h1v1h-1zM217.8 461.7h1v1h-1zM229.2 454.9h1v1h-1zM218.9 455.9h1v1h-1zM223.1 456.4h1v1h-1zM212.3 458.8h1v1h-1zM215.8 462.4h1v1h-1zM217.3 459.5h1v1h-1zM223.5 452.8h1v1h-1zM222.2 453.3h1v1h-1zM226.6 450.8h1v1h-1zM225.2 456.0h1v1h-1zM240.0 449.6h1v1h-1zM213.1 459.7h1v1h-1zM227.9 455.4h1v1h-1zM219.6 461.3h1v1h-1zM215.2 461.4h1v1h-1zM216.8 455.0h1v1h-1zM221.3 459.7h1v1h-1zM223.9 459.1h1v1h-1zM212.7 461.9h1v1h-1zM225.0 451.8h1v1h-1zM221.0 455.5h1v1h-1zM213.7 460.6h1v1h-1zM215.4 460.3h1v1h-1zM223.3 458.5h1v1h-1zM213.6 461.6h1v1h-1zM223.3 460.6h1v1h-1zM216.5 459.4h1v1h-1zM217.8 461.6h1v1h-1zM217.8 459.4h1v1h-1zM217.6 457.8h1v1h-1zM221.4 458.9h1v1h-1zM211.6 457.2h1v1h-1zM218.7 458.8h1v1h-1zM227.0 458.6h1v1h-1zM220.5 454.0h1v1h-1zM220.0 456.7h1v1h-1zM218.3 458.3h1v1h-1zM225.6 462.2h1v1h-1zM229.4 456.1h1v1h-1zM214.2 455.9h1v1h-1zM219.8 455.2h1v1h-1zM221.5 457.1h1v1h-1zM218.8 454.4h1v1h-1zM224.8 456.1h1v1h-1zM220.0 458.8h1v1h-1zM219.1 460.7h1v1h-1zM215.0 456.2h1v1h-1zM222.9 456.0h1v1h-1zM218.0 460.9h1v1h-1zM218.8 458.1h1v1h-1zM225.0 456.5h1v1h-1zM220.4 459.6h1v1h-1zM221.8 461.8h1v1h-1zM221.0 457.0h1v1h-1zM219.2 462.3h1v1h-1zM226.2 452.8h1v1h-1zM216.7 460.6h1v1h-1zM225.9 459.2h1v1h-1zM230.7 456.1h1v1h-1zM226.3 460.6h1v1h-1zM223.9 459.9h1v1h-1zM218.0 458.7h1v1h-1zM226.0 457.2h1v1h-1zM211.3 461.0h1v1h-1zM222.9 452.3h1v1h-1zM222.8 461.0h1v1h-1zM225.2 455.4h1v1h-1zM215.6 457.1h1v1h-1zM227.5 459.5h1v1h-1zM212.6 457.2h1v1h-1zM222.9 454.5h1v1h-1zM232.5 451.3h1v1h-1zM220.8 461.3h1v1h-1zM221.3 460.8h1v1h-1zM225.6 458.2h1v1h-1zM218.8 455.6h1v1h-1zM215.9 455.9h1v1h-1zM231.0 458.4h1v1h-1zM224.1 459.8h1v1h-1zM216.0 458.5h1v1h-1zM228.8 456.6h1v1h-1zM233.0 456.6h1v1h-1zM216.8 459.7h1v1h-1zM212.4 457.0h1v1h-1zM218.9 459.3h1v1h-1zM216.4 461.8h1v1h-1zM216.8 458.5h1v1h-1zM227.2 455.2h1v1h-1zM220.0 461.9h1v1h-1zM225.0 454.4h1v1h-1zM216.9 457.9h1v1h-1zM220.3 457.2h1v1h-1zM221.6 455.5h1v1h-1zM227.6 459.1h1v1h-1zM223.8 452.7h1v1h-1zM216.3 461.1h1v1h-1zM226.1 459.7h1v1h-1zM219.6 456.0h1v1h-1zM221.7 458.0h1v1h-1zM216.9 459.6h1v1h-1zM221.4 457.8h1v1h-1zM223.6 459.0h1v1h-1zM227.4 458.7h1v1h-1zM223.2 457.8h1v1h-1zM222.2 457.2h1v1h-1zM230.1 456.2h1v1h-1zM217.5 455.2h1v1h-1zM211.5 458.8h1v1h-1zM226.6 457.0h1v1h-1zM233.9 455.4h1v1h-1zM218.0 455.5h1v1h-1zM214.4 462.0h1v1h-1zM215.4 458.2h1v1h-1zM219.0 459.8h1v1h-1zM220.2 460.0h1v1h-1zM216.5 457.7h1v1h-1zM219.6 457.2h1v1h-1zM218.8 461.1h1v1h-1zM218.5 453.5h1v1h-1zM222.4 460.6h1v1h-1zM219.7 458.4h1v1h-1zM225.1 459.7h1v1h-1zM220.2 460.4h1v1h-1zM219.2 460.4h1v1h-1zM218.9 457.5h1v1h-1zM217.0 462.4h1v1h-1zM222.9 458.9h1v1h-1zM223.9 457.8h1v1h-1zM219.1 455.2h1v1h-1zM224.8 458.4h1v1h-1zM214.7 461.0h1v1h-1zM214.9 459.3h1v1h-1zM219.9 462.7h1v1h-1zM219.7 457.8h1v1h-1zM220.6 460.9h1v1h-1zM227.4 460.1h1v1h-1zM216.7 461.1h1v1h-1zM230.4 448.9h1v1h-1zM223.1 458.2h1v1h-1zM217.9 457.9h1v1h-1zM221.2 458.9h1v1h-1zM221.0 458.5h1v1h-1zM225.7 457.0h1v1h-1zM215.9 461.8h1v1h-1zM225.7 458.1h1v1h-1zM225.9 457.6h1v1h-1z" fill="#111"/>
<path d="M240.0 447.9h1v1h-1zM220.4 457.7h1v1h-1zM232.7 440.6h1v1h-1zM224.9 456.4h1v1h-1zM227.9 454.9h1v1h-1zM214.4 450.0h1v1h-1zM233.6 457.7h1v1h-1zM234.5 459.7h1v1h-1zM222.6 454.7h1v1h-1zM234.6 451.6h1v1h-1zM234.2 449.9h1v1h-1zM222.3 452.9h1v1h-1zM218.1 459.9h1v1h-1zM238.4 453.6h1v1h-1zM235.1 451.9h1v1h-1zM227.6 451.8h1v1h-1zM236.2 453.8h1v1h-1zM229.5 452.9h1v1h-1zM225.2 450.5h1v1h-1zM240.4 448.8h1v1h-1zM240.2 448.9h1v1h-1zM223.9 453.1h1v1h-1zM221.0 461.9h1v1h-1zM233.1 455.7h1v1h-1zM227.6 454.0h1v1h-1zM234.1 449.9h1v1h-1zM232.3 447.9h1v1h-1zM236.8 450.4h1v1h-1zM222.3 454.0h1v1h-1zM231.7 451.8h1v1h-1zM237.6 443.3h1v1h-1zM235.0 454.8h1v1h-1zM240.0 450.5h1v1h-1zM227.7 451.0h1v1h-1zM231.3 449.7h1v1h-1zM238.6 451.0h1v1h-1zM229.8 449.9h1v1h-1zM232.4 457.4h1v1h-1zM227.9 452.1h1v1h-1zM235.7 455.2h1v1h-1zM231.1 450.5h1v1h-1zM222.5 451.8h1v1h-1zM241.7 449.7h1v1h-1zM226.2 454.7h1v1h-1zM234.1 453.5h1v1h-1zM228.7 451.4h1v1h-1zM216.0 454.9h1v1h-1zM218.8 455.2h1v1h-1zM245.2 453.2h1v1h-1zM245.0 444.5h1v1h-1zM231.2 457.6h1v1h-1zM230.0 450.9h1v1h-1zM241.6 454.3h1v1h-1zM213.2 456.7h1v1h-1zM228.9 451.0h1v1h-1zM231.4 461.3h1v1h-1zM246.4 452.3h1v1h-1zM218.2 450.8h1v1h-1zM230.9 453.7h1v1h-1zM239.1 447.4h1v1h-1zM227.7 459.0h1v1h-1zM237.7 454.5h1v1h-1zM222.0 452.2h1v1h-1zM224.2 458.1h1v1h-1zM230.1 454.3h1v1h-1zM222.9 455.6h1v1h-1zM227.1 455.5h1v1h-1zM230.9 447.7h1v1h-1zM237.1 452.6h1v1h-1zM216.2 461.7h1v1h-1zM225.6 457.3h1v1h-1zM214.9 457.7h1v1h-1zM249.7 446.3h1v1h-1zM231.7 452.8h1v1h-1zM229.1 459.2h1v1h-1zM236.4 448.0h1v1h-1zM235.3 453.7h1v1h-1zM225.9 458.9h1v1h-1zM239.9 452.9h1v1h-1zM233.7 449.2h1v1h-1zM230.2 453.4h1v1h-1zM226.0 450.8h1v1h-1zM224.7 456.4h1v1h-1zM217.2 452.6h1v1h-1zM231.7 448.9h1v1h-1zM233.5 455.6h1v1h-1zM239.5 447.3h1v1h-1zM220.4 454.4h1v1h-1zM250.3 438.9h1v1h-1zM232.6 458.1h1v1h-1zM227.5 449.9h1v1h-1zM228.7 451.8h1v1h-1zM225.9 455.0h1v1h-1zM241.0 449.4h1v1h-1zM239.1 448.6h1v1h-1zM223.8 451.5h1v1h-1zM231.1 455.7h1v1h-1zM222.3 452.9h1v1h-1zM238.8 450.8h1v1h-1zM218.4 456.4h1v1h-1zM242.5 453.5h1v1h-1zM216.8 457.1h1v1h-1zM229.6 450.1h1v1h-1zM232.5 454.8h1v1h-1zM230.1 450.2h1v1h-1zM241.2 446.6h1v1h-1zM224.4 452.6h1v1h-1zM216.4 459.4h1v1h-1zM214.2 460.1h1v1h-1zM240.1 448.3h1v1h-1zM232.8 450.0h1v1h-1zM234.6 454.0h1v1h-1zM232.7 451.1h1v1h-1zM226.8 461.9h1v1h-1zM231.5 454.1h1v1h-1zM229.7 456.5h1v1h-1zM220.0 456.5h1v1h-1zM226.3 447.9h1v1h-1zM230.2 448.2h1v1h-1zM230.6 446.3h1v1h-1zM242.8 444.8h1v1h-1zM226.4 443.8h1v1h-1zM225.5 454.1h1v1h-1zM236.6 456.2h1v1h-1zM225.7 458.1h1v1h-1zM239.8 449.6h1v1h-1zM237.4 444.6h1v1h-1zM241.3 449.0h1v1h-1zM232.3 449.1h1v1h-1zM233.3 453.3h1v1h-1zM225.1 453.7h1v1h-1zM222.1 453.5h1v1h-1zM229.9 458.4h1v1h-1zM231.0 448.6h1v1h-1zM231.3 451.6h1v1h-1zM235.0 455.9h1v1h-1zM240.7 454.9h1v1h-1zM223.9 462.7h1v1h-1zM235.3 451.1h1v1h-1zM229.4 449.2h1v1h-1zM226.9 452.4h1v1h-1zM217.5 452.4h1v1h-1zM239.8 455.1h1v1h-1zM243.2 447.4h1v1h-1zM232.9 447.5h1v1h-1zM238.1 445.3h1v1h-1zM228.2 459.8h1v1h-1zM215.4 459.0h1v1h-1zM219.1 451.9h1v1h-1zM242.2 449.8h1v1h-1zM230.2 453.0h1v1h-1zM222.2 454.9h1v1h-1zM236.0 454.9h1v1h-1zM239.0 446.4h1v1h-1zM238.0 453.5h1v1h-1zM233.9 451.1h1v1h-1zM236.3 450.6h1v1h-1zM229.9 454.2h1v1h-1zM226.2 456.8h1v1h-1zM239.1 453.2h1v1h-1zM222.7 459.7h1v1h-1zM242.8 448.9h1v1h-1zM223.2 450.2h1v1h-1zM243.7 440.9h1v1h-1zM238.1 449.7h1v1h-1zM239.2 448.3h1v1h-1zM225.8 455.4h1v1h-1zM229.1 460.1h1v1h-1zM232.0 452.2h1v1h-1zM225.8 460.6h1v1h-1zM230.3 457.3h1v1h-1zM231.4 448.2h1v1h-1zM233.2 449.7h1v1h-1zM231.3 459.1h1v1h-1zM226.3 449.4h1v1h-1zM224.6 453.5h1v1h-1zM237.4 441.9h1v1h-1zM232.9 445.9h1v1h-1zM236.1 453.5h1v1h-1zM222.9 456.4h1v1h-1zM229.6 450.2h1v1h-1zM221.6 458.7h1v1h-1zM234.9 452.6h1v1h-1zM241.3 449.4h1v1h-1zM241.4 445.5h1v1h-1zM243.3 447.1h1v1h-1zM216.9 459.3h1v1h-1zM227.1 449.1h1v1h-1zM246.9 441.7h1v1h-1zM243.0 444.1h1v1h-1zM234.9 449.0h1v1h-1zM236.2 447.1h1v1h-1zM224.5 459.5h1v1h-1zM234.5 451.7h1v1h-1zM237.4 447.0h1v1h-1zM246.4 447.2h1v1h-1zM232.9 449.9h1v1h-1zM216.4 462.3h1v1h-1zM236.2 452.0h1v1h-1zM228.1 448.3h1v1h-1zM246.2 441.5h1v1h-1zM227.7 458.1h1v1h-1zM232.5 457.1h1v1h-1zM223.9 456.6h1v1h-1zM229.8 453.8h1v1h-1zM239.1 451.6h1v1h-1zM238.2 447.8h1v1h-1zM229.3 455.1h1v1h-1zM240.3 451.6h1v1h-1zM237.4 449.3h1v1h-1zM236.1 449.6h1v1h-1zM229.9 447.2h1v1h-1zM233.7 448.2h1v1h-1zM236.7 452.0h1v1h-1zM223.7 457.9h1v1h-1zM239.5 447.0h1v1h-1zM227.8 460.0h1v1h-1zM227.5 456.8h1v1h-1zM232.5 446.6h1v1h-1zM230.3 449.7h1v1h-1zM222.0 455.5h1v1h-1zM235.2 449.6h1v1h-1zM234.3 451.0h1v1h-1zM218.7 461.1h1v1h-1zM223.9 452.5h1v1h-1zM234.0 448.0h1v1h-1zM213.7 459.2h1v1h-1zM222.7 456.7h1v1h-1zM235.2 448.6h1v1h-1zM238.6 448.8h1v1h-1zM229.0 450.6h1v1h-1zM233.1 455.7h1v1h-1zM237.5 447.3h1v1h-1zM232.4 453.0h1v1h-1zM220.8 454.0h1v1h-1zM228.4 459.5h1v1h-1zM220.5 457.8h1v1h-1zM220.6 460.7h1v1h-1zM235.4 446.8h1v1h-1zM227.1 458.8h1v1h-1zM231.5 454.2h1v1h-1zM221.7 451.4h1v1h-1zM229.0 455.2h1v1h-1zM237.7 445.0h1v1h-1zM226.4 457.4h1v1h-1zM215.4 459.1h1v1h-1zM233.3 449.7h1v1h-1zM231.6 448.0h1v1h-1zM227.9 456.8h1v1h-1zM227.6 449.8h1v1h-1zM230.4 452.7h1v1h-1zM233.9 449.9h1v1h-1zM241.0 455.0h1v1h-1zM229.5 451.1h1v1h-1zM250.7 444.5h1v1h-1zM224.6 456.9h1v1h-1zM238.8 453.8h1v1h-1zM236.5 450.3h1v1h-1zM237.3 449.6h1v1h-1zM241.8 450.0h1v1h-1zM225.4 457.6h1v1h-1zM230.4 455.9h1v1h-1zM219.3 458.6h1v1h-1zM222.8 455.9h1v1h-1zM230.7 454.2h1v1h-1zM227.6 458.7h1v1h-1zM239.3 449.3h1v1h-1zM221.0 457.8h1v1h-1zM219.7 453.6h1v1h-1zM213.8 456.6h1v1h-1zM224.2 450.8h1v1h-1zM221.6 453.2h1v1h-1zM239.6 446.5h1v1h-1zM226.9 457.0h1v1h-1zM232.7 450.2h1v1h-1zM229.5 450.9h1v1h-1zM241.2 449.7h1v1h-1zM230.7 455.1h1v1h-1zM231.8 451.6h1v1h-1zM230.4 449.5h1v1h-1zM242.8 445.2h1v1h-1zM233.4 455.4h1v1h-1zM233.3 447.2h1v1h-1zM242.2 455.6h1v1h-1zM232.8 451.0h1v1h-1zM233.6 455.8h1v1h-1zM234.7 454.5h1v1h-1zM228.3 454.7h1v1h-1zM228.9 451.3h1v1h-1zM241.0 451.8h1v1h-1zM229.4 450.1h1v1h-1zM236.7 447.7h1v1h-1zM226.5 456.3h1v1h-1zM236.2 451.2h1v1h-1zM215.3 445.1h1v1h-1zM227.4 452.3h1v1h-1zM232.1 454.8h1v1h-1zM229.6 442.9h1v1h-1zM232.0 453.3h1v1h-1zM245.4 453.8h1v1h-1zM225.6 455.6h1v1h-1zM224.8 455.3h1v1h-1zM233.2 452.0h1v1h-1zM224.5 454.4h1v1h-1zM237.4 449.0h1v1h-1zM236.6 448.7h1v1h-1zM233.5 453.1h1v1h-1zM233.4 450.7h1v1h-1zM213.9 459.6h1v1h-1zM224.6 456.5h1v1h-1zM220.9 452.2h1v1h-1zM227.3 456.9h1v1h-1zM221.4 456.9h1v1h-1zM236.2 447.6h1v1h-1zM244.1 449.2h1v1h-1zM220.5 458.6h1v1h-1zM237.3 452.7h1v1h-1zM229.2 457.8h1v1h-1zM229.4 447.9h1v1h-1zM237.4 449.5h1v1h-1zM234.5 454.1h1v1h-1zM230.5 451.1h1v1h-1zM225.7 456.9h1v1h-1zM242.7 450.7h1v1h-1zM221.2 459.0h1v1h-1zM228.9 460.1h1v1h-1zM221.6 455.5h1v1h-1zM226.1 453.4h1v1h-1zM227.6 457.8h1v1h-1zM246.9 449.6h1v1h-1zM239.6 454.7h1v1h-1zM241.7 452.3h1v1h-1zM241.2 454.1h1v1h-1zM219.2 460.8h1v1h-1zM220.8 455.6h1v1h-1zM231.9 461.2h1v1h-1zM230.7 449.2h1v1h-1zM234.9 456.2h1v1h-1zM220.4 456.7h1v1h-1zM217.1 457.6h1v1h-1zM226.8 453.5h1v1h-1zM232.8 449.2h1v1h-1zM219.2 456.1h1v1h-1zM222.5 456.6h1v1h-1zM231.8 451.2h1v1h-1zM217.0 460.6h1v1h-1zM240.1 442.7h1v1h-1zM228.0 449.4h1v1h-1zM224.3 454.4h1v1h-1zM240.9 448.8h1v1h-1zM230.4 448.5h1v1h-1zM233.4 450.6h1v1h-1zM240.2 452.3h1v1h-1zM231.9 453.3h1v1h-1zM227.4 454.3h1v1h-1zM215.9 457.1h1v1h-1zM226.5 453.1h1v1h-1zM225.2 460.7h1v1h-1zM222.3 459.5h1v1h-1zM222.8 455.7h1v1h-1zM241.3 438.6h1v1h-1zM215.2 459.0h1v1h-1zM230.4 453.3h1v1h-1zM228.9 459.7h1v1h-1zM245.9 448.0h1v1h-1zM229.8 451.2h1v1h-1zM225.9 451.7h1v1h-1zM236.6 456.2h1v1h-1zM217.1 453.0h1v1h-1zM225.7 456.7h1v1h-1zM238.4 448.6h1v1h-1zM232.1 453.0h1v1h-1zM244.0 445.8h1v1h-1zM229.9 451.9h1v1h-1zM236.4 447.8h1v1h-1zM230.0 451.3h1v1h-1zM220.3 453.1h1v1h-1zM229.3 448.4h1v1h-1zM233.9 454.5h1v1h-1zM229.4 453.0h1v1h-1zM225.9 457.8h1v1h-1zM230.0 454.8h1v1h-1zM226.0 457.6h1v1h-1zM233.1 446.4h1v1h-1zM221.2 461.5h1v1h-1zM226.5 457.5h1v1h-1zM223.5 451.9h1v1h-1zM225.0 458.7h1v1h-1zM242.3 450.6h1v1h-1zM233.3 452.8h1v1h-1zM237.5 451.3h1v1h-1zM228.9 455.8h1v1h-1zM230.7 451.1h1v1h-1zM221.2 457.7h1v1h-1zM215.6 451.9h1v1h-1zM229.7 447.1h1v1h-1zM231.8 448.9h1v1h-1zM231.4 455.6h1v1h-1zM228.2 459.5h1v1h-1zM232.7 451.0h1v1h-1zM229.9 449.6h1v1h-1zM225.5 455.3h1v1h-1zM216.5 457.3h1v1h-1zM234.3 450.4h1v1h-1zM219.5 453.4h1v1h-1zM240.8 436.3h1v1h-1zM244.5 445.0h1v1h-1zM225.3 451.3h1v1h-1zM240.7 452.0h1v1h-1zM234.1 453.6h1v1h-1zM228.2 445.8h1v1h-1zM216.7 457.3h1v1h-1zM221.1 451.5h1v1h-1zM238.4 448.8h1v1h-1zM231.0 448.9h1v1h-1zM221.0 459.0h1v1h-1zM228.9 452.5h1v1h-1zM230.2 455.7h1v1h-1zM225.2 453.6h1v1h-1zM231.4 457.1h1v1h-1zM222.8 452.7h1v1h-1zM240.7 448.7h1v1h-1zM219.2 461.4h1v1h-1zM226.0 452.6h1v1h-1zM232.1 455.7h1v1h-1zM239.0 444.3h1v1h-1zM232.9 454.1h1v1h-1zM238.6 454.7h1v1h-1zM224.1 458.6h1v1h-1zM235.7 446.0h1v1h-1zM225.6 455.6h1v1h-1zM234.1 451.4h1v1h-1zM227.0 456.9h1v1h-1zM226.0 449.7h1v1h-1zM237.1 449.9h1v1h-1zM220.6 455.5h1v1h-1zM219.0 460.6h1v1h-1zM242.3 445.2h1v1h-1zM236.9 454.6h1v1h-1zM219.0 459.6h1v1h-1zM232.6 451.4h1v1h-1zM243.6 447.5h1v1h-1zM230.0 454.2h1v1h-1zM236.4 452.1h1v1h-1zM235.1 449.9h1v1h-1zM222.9 457.6h1v1h-1zM222.4 452.9h1v1h-1zM219.5 452.5h1v1h-1zM232.2 451.8h1v1h-1zM226.7 451.7h1v1h-1zM230.5 456.9h1v1h-1zM229.5 456.8h1v1h-1zM239.9 456.1h1v1h-1zM228.8 452.1h1v1h-1zM232.1 448.7h1v1h-1zM218.8 449.1h1v1h-1zM231.4 447.8h1v1h-1zM233.1 456.0h1v1h-1zM235.7 449.3h1v1h-1zM243.2 454.7h1v1h-1zM234.5 457.0h1v1h-1zM234.3 457.3h1v1h-1zM232.3 460.4h1v1h-1zM227.7 456.2h1v1h-1zM230.0 455.3h1v1h-1zM217.9 456.7h1v1h-1zM215.8 451.2h1v1h-1zM227.7 448.1h1v1h-1zM227.1 445.4h1v1h-1zM240.0 445.6h1v1h-1zM226.3 454.3h1v1h-1zM223.8 453.8h1v1h-1zM217.8 452.0h1v1h-1zM230.2 452.2h1v1h-1zM221.0 453.2h1v1h-1zM238.5 447.1h1v1h-1zM222.5 461.7h1v1h-1zM232.5 458.1h1v1h-1zM223.7 453.3h1v1h-1zM227.9 447.9h1v1h-1zM227.1 454.4h1v1h-1zM235.2 455.7h1v1h-1zM213.1 458.5h1v1h-1zM227.9 443.0h1v1h-1zM229.6 454.9h1v1h-1zM242.1 454.8h1v1h-1zM231.3 457.0h1v1h-1zM240.3 446.3h1v1h-1zM227.4 450.3h1v1h-1zM243.5 448.1h1v1h-1zM236.5 449.8h1v1h-1zM241.3 448.1h1v1h-1zM233.5 457.1h1v1h-1zM226.0 456.6h1v1h-1zM244.1 438.7h1v1h-1zM230.3 459.6h1v1h-1zM234.8 449.5h1v1h-1zM234.0 450.7h1v1h-1zM224.2 455.6h1v1h-1zM224.1 450.8h1v1h-1zM249.3 444.8h1v1h-1zM224.1 452.8h1v1h-1zM230.6 455.8h1v1h-1zM228.2 449.4h1v1h-1zM242.9 451.3h1v1h-1zM239.5 442.5h1v1h-1zM243.8 453.3h1v1h-1zM235.6 450.7h1v1h-1zM229.0 449.8h1v1h-1zM231.5 449.8h1v1h-1zM225.9 454.2h1v1h-1zM224.8 442.8h1v1h-1zM223.9 448.7h1v1h-1zM231.6 455.9h1v1h-1zM247.4 446.8h1v1h-1zM222.7 454.0h1v1h-1zM239.2 441.4h1v1h-1zM221.4 461.4h1v1h-1zM234.8 451.5h1v1h-1zM221.2 444.8h1v1h-1zM235.9 441.7h1v1h-1zM241.7 447.4h1v1h-1zM229.7 456.0h1v1h-1zM230.3 455.1h1v1h-1zM227.1 461.3h1v1h-1zM221.9 457.2h1v1h-1zM215.8 457.7h1v1h-1zM223.1 452.8h1v1h-1zM231.4 454.9h1v1h-1zM221.2 455.1h1v1h-1zM231.2 447.4h1v1h-1zM218.7 457.3h1v1h-1zM217.8 459.0h1v1h-1zM224.2 455.9h1v1h-1zM254.6 446.5h1v1h-1zM230.2 460.4h1v1h-1zM225.2 454.3h1v1h-1zM217.5 449.5h1v1h-1zM225.0 451.1h1v1h-1zM247.0 440.2h1v1h-1zM223.2 455.1h1v1h-1zM236.5 440.8h1v1h-1zM228.2 453.0h1v1h-1zM235.7 453.8h1v1h-1zM229.3 457.6h1v1h-1zM233.3 452.3h1v1h-1zM229.5 451.9h1v1h-1zM241.0 448.9h1v1h-1zM230.7 454.8h1v1h-1zM231.7 452.9h1v1h-1zM230.8 452.9h1v1h-1zM240.6 452.1h1v1h-1zM222.8 460.3h1v1h-1zM230.8 453.5h1v1h-1zM219.6 459.6h1v1h-1zM223.4 453.5h1v1h-1zM225.0 459.9h1v1h-1zM240.3 448.5h1v1h-1zM225.7 453.1h1v1h-1zM223.2 456.3h1v1h-1zM227.0 449.4h1v1h-1zM234.4 454.8h1v1h-1zM227.3 452.0h1v1h-1zM227.0 454.7h1v1h-1zM226.4 456.9h1v1h-1zM236.7 450.9h1v1h-1zM229.2 453.0h1v1h-1zM226.3 454.1h1v1h-1zM235.5 448.0h1v1h-1zM230.6 451.5h1v1h-1zM230.4 455.2h1v1h-1zM238.5 449.3h1v1h-1zM233.2 458.7h1v1h-1zM226.2 459.9h1v1h-1zM226.5 461.9h1v1h-1zM231.7 453.2h1v1h-1zM245.5 451.8h1v1h-1zM237.8 441.9h1v1h-1zM217.6 459.9h1v1h-1zM221.0 450.4h1v1h-1zM240.4 445.0h1v1h-1zM231.1 455.3h1v1h-1zM238.1 453.3h1v1h-1zM221.5 459.4h1v1h-1zM232.5 456.7h1v1h-1zM221.5 455.7h1v1h-1zM230.3 452.5h1v1h-1zM234.2 452.4h1v1h-1zM238.9 449.6h1v1h-1zM229.3 453.3h1v1h-1zM227.1 454.4h1v1h-1zM228.8 456.1h1v1h-1zM243.0 443.1h1v1h-1zM234.0 446.8h1v1h-1zM242.0 448.9h1v1h-1zM235.6 451.2h1v1h-1zM212.7 458.9h1v1h-1zM232.4 449.3h1v1h-1zM227.9 451.1h1v1h-1zM222.4 458.2h1v1h-1zM220.2 455.1h1v1h-1zM220.3 460.9h1v1h-1zM234.6 450.4h1v1h-1zM228.4 452.2h1v1h-1zM219.2 453.3h1v1h-1zM240.7 449.2h1v1h-1zM232.4 448.9h1v1h-1zM227.4 453.0h1v1h-1zM229.8 450.9h1v1h-1zM237.6 441.4h1v1h-1zM227.1 456.9h1v1h-1zM215.9 455.8h1v1h-1zM214.9 460.8h1v1h-1zM219.5 452.6h1v1h-1zM231.7 457.0h1v1h-1zM229.5 458.7h1v1h-1zM224.9 455.2h1v1h-1zM233.9 447.5h1v1h-1zM222.7 451.1h1v1h-1zM226.5 453.4h1v1h-1zM233.4 450.2h1v1h-1zM240.3 457.4h1v1h-1zM229.9 450.9h1v1h-1zM240.2 448.3h1v1h-1zM229.5 449.9h1v1h-1zM233.0 450.5h1v1h-1zM221.6 458.8h1v1h-1zM227.3 458.3h1v1h-1zM222.3 458.5h1v1h-1zM235.3 455.4h1v1h-1zM212.9 459.2h1v1h-1zM241.7 446.9h1v1h-1zM240.3 447.5h1v1h-1zM236.8 446.2h1v1h-1zM232.0 452.7h1v1h-1zM218.7 455.7h1v1h-1zM223.9 452.6h1v1h-1zM241.4 451.6h1v1h-1zM226.9 457.5h1v1h-1zM222.1 455.7h1v1h-1zM233.4 455.2h1v1h-1zM227.4 453.2h1v1h-1zM241.0 457.1h1v1h-1zM221.6 457.5h1v1h-1zM232.8 449.6h1v1h-1zM221.9 458.2h1v1h-1zM231.0 456.0h1v1h-1zM230.8 459.7h1v1h-1zM234.5 447.8h1v1h-1zM228.2 454.6h1v1h-1zM219.3 454.3h1v1h-1zM241.4 449.1h1v1h-1zM238.1 450.6h1v1h-1zM237.5 451.6h1v1h-1zM240.2 449.9h1v1h-1zM231.3 460.7h1v1h-1zM229.2 452.8h1v1h-1zM217.9 455.1h1v1h-1zM232.3 449.7h1v1h-1zM243.7 443.1h1v1h-1zM231.5 452.3h1v1h-1zM235.7 455.2h1v1h-1zM233.1 446.7h1v1h-1zM220.7 458.0h1v1h-1zM236.5 454.0h1v1h-1zM231.7 456.6h1v1h-1zM221.6 459.3h1v1h-1zM241.2 449.0h1v1h-1zM226.7 450.0h1v1h-1zM236.4 437.5h1v1h-1zM230.3 451.4h1v1h-1zM218.5 458.9h1v1h-1zM237.3 453.3h1v1h-1zM241.1 448.9h1v1h-1zM220.8 459.6h1v1h-1zM239.9 450.7h1v1h-1zM234.2 445.8h1v1h-1zM228.6 453.7h1v1h-1zM237.2 449.2h1v1h-1zM231.3 456.5h1v1h-1zM225.6 456.4h1v1h-1zM222.6 451.1h1v1h-1zM234.6 454.0h1v1h-1zM224.3 452.1h1v1h-1zM232.0 452.8h1v1h-1zM229.1 450.8h1v1h-1zM234.4 452.0h1v1h-1zM221.0 446.6h1v1h-1zM226.1 457.5h1v1h-1zM235.7 448.3h1v1h-1zM228.7 454.2h1v1h-1zM233.8 452.8h1v1h-1zM227.4 451.4h1v1h-1zM226.5 452.0h1v1h-1zM230.1 456.3h1v1h-1zM223.9 452.6h1v1h-1zM240.1 454.1h1v1h-1zM237.3 448.3h1v1h-1zM218.5 459.3h1v1h-1zM229.4 449.4h1v1h-1zM216.6 458.3h1v1h-1zM232.7 447.0h1v1h-1zM244.7 444.3h1v1h-1zM237.7 448.8h1v1h-1zM236.5 449.7h1v1h-1zM225.9 451.1h1v1h-1zM236.2 454.9h1v1h-1zM232.5 449.6h1v1h-1zM219.6 461.1h1v1h-1zM230.6 450.1h1v1h-1zM233.4 456.7h1v1h-1zM232.8 449.0h1v1h-1zM226.4 449.6h1v1h-1zM227.4 455.3h1v1h-1zM223.8 454.3h1v1h-1zM220.3 459.2h1v1h-1zM224.7 455.6h1v1h-1zM237.8 446.0h1v1h-1zM241.4 444.2h1v1h-1zM241.5 445.9h1v1h-1zM227.2 455.0h1v1h-1zM229.0 449.5h1v1h-1zM226.8 453.8h1v1h-1zM236.1 455.6h1v1h-1zM238.0 447.7h1v1h-1zM248.4 451.0h1v1h-1zM217.1 455.6h1v1h-1zM237.8 448.4h1v1h-1zM238.6 446.3h1v1h-1zM237.0 450.6h1v1h-1zM214.7 456.0h1v1h-1zM231.9 453.0h1v1h-1zM237.1 446.0h1v1h-1zM234.8 445.1h1v1h-1zM239.4 447.7h1v1h-1zM233.5 449.4h1v1h-1zM225.9 455.2h1v1h-1zM223.7 456.1h1v1h-1zM234.0 444.9h1v1h-1zM229.7 453.7h1v1h-1zM232.0 450.8h1v1h-1zM226.8 448.1h1v1h-1zM238.7 452.7h1v1h-1zM219.4 456.4h1v1h-1zM216.7 453.3h1v1h-1zM226.4 455.9h1v1h-1zM222.1 451.9h1v1h-1zM232.4 453.3h1v1h-1zM230.0 452.7h1v1h-1zM226.0 460.5h1v1h-1zM232.0 446.8h1v1h-1zM219.4 458.2h1v1h-1zM237.0 442.3h1v1h-1zM217.4 458.4h1v1h-1zM244.5 448.8h1v1h-1zM229.6 452.0h1v1h-1zM236.6 452.8h1v1h-1zM242.5 450.6h1v1h-1zM227.2 460.5h1v1h-1zM235.5 450.0h1v1h-1zM226.8 455.5h1v1h-1zM235.3 452.1h1v1h-1zM237.5 444.8h1v1h-1zM250.2 440.3h1v1h-1zM219.6 454.4h1v1h-1zM233.4 450.0h1v1h-1zM231.0 455.2h1v1h-1zM224.9 446.2h1v1h-1zM223.5 454.3h1v1h-1zM232.7 452.6h1v1h-1zM231.3 457.0h1v1h-1zM235.2 447.7h1v1h-1zM248.4 451.1h1v1h-1zM229.6 452.0h1v1h-1zM220.9 457.9h1v1h-1zM231.9 454.0h1v1h-1zM228.5 452.4h1v1h-1zM235.3 441.2h1v1h-1zM226.7 453.2h1v1h-1zM223.3 449.7h1v1h-1zM228.4 461.4h1v1h-1zM239.8 445.3h1v1h-1zM222.6 455.7h1v1h-1zM229.2 460.3h1v1h-1zM227.4 453.3h1v1h-1zM236.6 447.9h1v1h-1zM216.0 461.0h1v1h-1zM227.4 459.1h1v1h-1zM227.8 453.6h1v1h-1zM226.7 456.4h1v1h-1zM232.6 453.7h1v1h-1zM229.3 456.8h1v1h-1zM239.4 452.2h1v1h-1zM236.7 445.8h1v1h-1zM226.4 452.9h1v1h-1zM240.7 441.9h1v1h-1zM229.9 453.8h1v1h-1zM238.0 455.1h1v1h-1zM225.7 455.3h1v1h-1zM231.8 452.1h1v1h-1zM238.6 452.3h1v1h-1zM234.0 452.5h1v1h-1zM229.3 455.5h1v1h-1zM231.0 459.9h1v1h-1zM237.6 446.6h1v1h-1zM237.6 450.1h1v1h-1zM224.5 457.5h1v1h-1zM225.4 453.4h1v1h-1zM237.1 453.6h1v1h-1zM239.0 452.5h1v1h-1zM226.7 460.3h1v1h-1zM223.7 458.9h1v1h-1zM236.0 446.1h1v1h-1zM234.4 460.3h1v1h-1zM232.4 449.8h1v1h-1zM232.2 451.2h1v1h-1zM233.0 452.7h1v1h-1zM244.1 442.2h1v1h-1zM223.9 453.6h1v1h-1zM242.3 448.3h1v1h-1zM217.0 460.0h1v1h-1zM249.4 442.1h1v1h-1zM240.2 449.7h1v1h-1zM240.9 447.4h1v1h-1zM230.1 450.4h1v1h-1zM221.3 459.2h1v1h-1zM229.8 447.5h1v1h-1zM219.7 458.2h1v1h-1zM246.6 449.8h1v1h-1zM234.8 461.9h1v1h-1zM229.5 454.9h1v1h-1zM224.7 455.4h1v1h-1zM220.1 462.4h1v1h-1zM230.0 455.5h1v1h-1zM227.1 453.4h1v1h-1zM235.2 448.8h1v1h-1zM238.0 450.2h1v1h-1zM232.5 452.9h1v1h-1zM232.3 450.7h1v1h-1zM220.3 454.0h1v1h-1zM226.4 452.7h1v1h-1zM224.8 456.4h1v1h-1zM228.1 446.9h1v1h-1zM229.9 449.9h1v1h-1zM241.0 449.8h1v1h-1zM236.3 451.5h1v1h-1zM218.3 459.2h1v1h-1zM227.9 452.3h1v1h-1zM223.4 457.1h1v1h-1zM226.3 451.1h1v1h-1zM230.5 449.0h1v1h-1zM238.7 450.6h1v1h-1zM218.4 450.9h1v1h-1zM224.8 458.2h1v1h-1zM236.2 452.9h1v1h-1zM218.7 457.2h1v1h-1zM225.0 455.4h1v1h-1zM228.3 451.2h1v1h-1zM230.6 449.5h1v1h-1zM229.1 454.0h1v1h-1zM225.6 454.2h1v1h-1zM231.4 446.0h1v1h-1zM228.6 448.1h1v1h-1zM232.2 451.3h1v1h-1zM233.7 450.7h1v1h-1zM226.8 451.7h1v1h-1zM224.5 457.7h1v1h-1zM219.0 460.2h1v1h-1zM233.5 450.4h1v1h-1zM223.5 453.0h1v1h-1zM224.1 457.3h1v1h-1zM232.6 454.7h1v1h-1zM233.8 449.1h1v1h-1zM219.2 454.0h1v1h-1zM238.1 452.9h1v1h-1zM238.2 452.7h1v1h-1zM236.3 458.3h1v1h-1zM228.7 457.0h1v1h-1zM236.6 446.9h1v1h-1zM233.2 449.9h1v1h-1zM235.9 448.7h1v1h-1zM220.0 454.5h1v1h-1zM215.1 457.4h1v1h-1zM222.6 457.4h1v1h-1zM243.2 439.6h1v1h-1zM242.5 443.2h1v1h-1zM230.2 456.5h1v1h-1zM220.3 459.9h1v1h-1zM238.3 449.6h1v1h-1zM230.6 446.2h1v1h-1zM217.0 454.0h1v1h-1zM233.9 451.8h1v1h-1zM231.5 456.4h1v1h-1zM221.4 462.4h1v1h-1zM234.5 446.0h1v1h-1zM226.5 456.4h1v1h-1zM230.7 447.9h1v1h-1zM233.3 454.4h1v1h-1zM232.5 456.9h1v1h-1zM243.8 443.2h1v1h-1zM226.5 452.3h1v1h-1zM225.6 450.9h1v1h-1zM224.1 450.2h1v1h-1zM230.4 459.1h1v1h-1zM226.9 453.4h1v1h-1zM226.3 458.6h1v1h-1zM230.2 454.5h1v1h-1zM238.1 455.5h1v1h-1zM227.4 452.9h1v1h-1zM239.6 448.4h1v1h-1zM236.5 445.1h1v1h-1zM237.2 454.8h1v1h-1zM235.4 442.4h1v1h-1zM237.4 446.2h1v1h-1zM220.0 461.6h1v1h-1zM226.3 452.3h1v1h-1zM222.0 457.8h1v1h-1zM230.0 448.3h1v1h-1zM239.2 454.6h1v1h-1zM230.2 451.9h1v1h-1zM231.2 451.7h1v1h-1zM228.5 452.3h1v1h-1zM223.0 459.4h1v1h-1zM238.1 449.0h1v1h-1zM236.2 460.6h1v1h-1zM230.0 457.2h1v1h-1zM220.0 458.3h1v1h-1zM228.5 456.8h1v1h-1zM226.7 452.4h1v1h-1zM225.4 455.0h1v1h-1zM227.4 452.2h1v1h-1zM237.9 454.9h1v1h-1zM239.4 444.4h1v1h-1zM238.0 451.7h1v1h-1zM216.2 454.6h1v1h-1zM222.6 455.2h1v1h-1zM232.4 451.9h1v1h-1zM220.0 459.1h1v1h-1zM240.1 448.1h1v1h-1zM231.7 451.1h1v1h-1zM226.7 455.7h1v1h-1zM225.7 454.5h1v1h-1zM232.0 459.5h1v1h-1zM248.6 442.0h1v1h-1zM231.6 451.3h1v1h-1zM232.6 456.7h1v1h-1zM226.4 450.2h1v1h-1zM225.5 453.9h1v1h-1zM246.4 446.9h1v1h-1zM218.1 461.2h1v1h-1zM231.5 453.9h1v1h-1zM220.8 459.3h1v1h-1zM233.4 453.3h1v1h-1zM227.5 457.9h1v1h-1zM231.2 446.9h1v1h-1zM227.7 454.7h1v1h-1zM224.8 457.3h1v1h-1zM229.5 448.4h1v1h-1zM236.8 452.7h1v1h-1zM230.6 458.3h1v1h-1zM234.1 454.4h1v1h-1zM229.3 455.6h1v1h-1zM229.0 462.3h1v1h-1zM248.0 448.9h1v1h-1zM232.8 449.4h1v1h-1zM241.8 459.1h1v1h-1z" fill="#111"/>
<path d="M233.7 454.8h1v1h-1zM233.2 454.5h1v1h-1zM230.9 454.5h1v1h-1zM234.4 453.0h1v1h-1zM226.9 455.8h1v1h-1zM225.3 453.5h1v1h-1zM221.4 456.5h1v1h-1zM234.7 453.0h1v1h-1zM224.6 452.9h1v1h-1zM215.5 458.6h1v1h-1zM220.2 456.1h1v1h-1zM230.9 457.5h1v1h-1zM230.5 458.0h1v1h-1zM216.9 461.7h1v1h-1zM221.2 456.8h1v1h-1zM221.8 457.7h1v1h-1zM237.7 451.9h1v1h-1zM222.7 458.8h1v1h-1zM217.9 460.5h1v1h-1zM231.2 455.5h1v1h-1zM224.2 457.0h1v1h-1zM218.4 459.8h1v1h-1zM222.6 459.8h1v1h-1zM222.1 456.6h1v1h-1zM222.6 458.0h1v1h-1zM234.6 455.0h1v1h-1zM225.4 458.3h1v1h-1zM225.7 459.4h1v1h-1zM231.6 457.9h1v1h-1zM223.2 450.3h1v1h-1zM231.0 455.4h1v1h-1zM220.6 453.7h1v1h-1zM226.2 461.9h1v1h-1zM233.3 454.9h1v1h-1zM229.5 455.6h1v1h-1zM224.6 454.1h1v1h-1zM238.0 449.0h1v1h-1zM219.0 460.0h1v1h-1zM223.4 458.5h1v1h-1zM216.7 462.1h1v1h-1zM216.8 462.2h1v1h-1zM227.9 456.8h1v1h-1zM230.3 454.8h1v1h-1zM233.8 458.3h1v1h-1zM226.4 450.8h1v1h-1zM228.0 454.8h1v1h-1zM218.3 457.4h1v1h-1zM225.2 460.5h1v1h-1zM222.8 459.5h1v1h-1zM220.0 460.7h1v1h-1zM230.0 459.2h1v1h-1zM221.9 459.9h1v1h-1zM219.3 460.5h1v1h-1zM238.2 451.1h1v1h-1zM223.0 457.4h1v1h-1zM236.4 455.3h1v1h-1zM230.8 455.0h1v1h-1zM225.3 456.7h1v1h-1zM217.9 454.9h1v1h-1zM221.2 454.5h1v1h-1zM224.9 453.1h1v1h-1zM227.6 456.0h1v1h-1zM226.6 451.7h1v1h-1zM230.6 451.0h1v1h-1zM226.1 457.0h1v1h-1zM224.3 456.8h1v1h-1zM223.3 455.4h1v1h-1zM222.4 453.5h1v1h-1zM232.8 453.0h1v1h-1zM222.3 458.0h1v1h-1zM226.0 457.4h1v1h-1zM229.3 455.0h1v1h-1zM226.0 456.0h1v1h-1zM222.3 458.2h1v1h-1zM226.1 455.1h1v1h-1zM226.7 451.4h1v1h-1zM218.9 457.9h1v1h-1zM217.3 460.9h1v1h-1zM214.5 462.2h1v1h-1zM227.3 457.3h1v1h-1zM222.7 456.7h1v1h-1zM228.9 459.1h1v1h-1zM229.2 455.2h1v1h-1zM225.6 458.7h1v1h-1zM221.2 461.4h1v1h-1zM221.9 457.4h1v1h-1zM229.2 454.5h1v1h-1zM225.7 452.5h1v1h-1zM226.5 458.2h1v1h-1zM224.1 455.1h1v1h-1zM228.0 459.0h1v1h-1zM220.1 458.7h1v1h-1zM229.5 453.7h1v1h-1zM231.4 454.0h1v1h-1zM231.8 454.9h1v1h-1zM225.9 457.8h1v1h-1zM223.0 459.9h1v1h-1zM225.5 460.9h1v1h-1zM228.8 455.5h1v1h-1zM229.4 457.3h1v1h-1zM229.6 453.4h1v1h-1zM225.6 454.4h1v1h-1zM226.5 457.3h1v1h-1zM231.1 456.8h1v1h-1zM222.3 453.9h1v1h-1zM229.0 456.9h1v1h-1zM224.6 451.8h1v1h-1zM223.0 456.1h1v1h-1zM225.0 450.3h1v1h-1zM233.8 454.7h1v1h-1zM230.9 459.1h1v1h-1zM225.6 452.9h1v1h-1zM229.8 452.1h1v1h-1zM233.3 453.4h1v1h-1zM231.0 455.9h1v1h-1zM227.7 460.1h1v1h-1zM229.6 457.4h1v1h-1zM242.1 451.3h1v1h-1zM219.5 455.6h1v1h-1zM224.1 453.2h1v1h-1zM230.1 455.6h1v1h-1zM225.0 461.3h1v1h-1zM228.2 457.4h1v1h-1zM225.4 459.7h1v1h-1zM228.8 457.8h1v1h-1zM235.1 451.6h1v1h-1zM235.0 456.1h1v1h-1zM221.5 453.8h1v1h-1zM223.0 462.7h1v1h-1zM231.3 453.7h1v1h-1zM221.3 459.8h1v1h-1zM229.8 454.1h1v1h-1zM228.6 455.7h1v1h-1zM226.6 456.6h1v1h-1zM231.7 456.7h1v1h-1zM231.9 459.6h1v1h-1zM221.2 457.2h1v1h-1zM220.8 458.1h1v1h-1zM221.7 453.1h1v1h-1zM229.5 451.2h1v1h-1zM233.1 451.7h1v1h-1zM235.2 456.9h1v1h-1zM227.8 454.4h1v1h-1zM219.3 459.9h1v1h-1zM228.7 454.4h1v1h-1zM224.4 454.6h1v1h-1zM229.4 454.8h1v1h-1zM223.2 462.4h1v1h-1zM230.5 456.4h1v1h-1zM229.0 454.7h1v1h-1zM228.4 455.6h1v1h-1zM219.4 457.5h1v1h-1zM231.9 454.0h1v1h-1zM217.9 460.6h1v1h-1zM220.6 458.8h1v1h-1zM226.1 454.8h1v1h-1zM220.8 460.5h1v1h-1zM226.0 459.1h1v1h-1zM229.3 455.4h1v1h-1zM225.3 458.0h1v1h-1zM244.2 447.4h1v1h-1zM228.1 455.5h1v1h-1zM236.8 448.4h1v1h-1zM226.4 450.2h1v1h-1zM218.6 461.6h1v1h-1zM231.1 452.0h1v1h-1zM230.3 455.6h1v1h-1zM232.4 456.6h1v1h-1zM222.7 461.5h1v1h-1zM226.4 453.3h1v1h-1zM235.2 453.9h1v1h-1zM233.2 453.5h1v1h-1zM229.9 451.4h1v1h-1zM226.5 454.0h1v1h-1zM229.9 452.8h1v1h-1zM222.5 457.9h1v1h-1zM229.4 452.5h1v1h-1zM220.3 455.3h1v1h-1zM232.9 454.3h1v1h-1zM231.8 455.8h1v1h-1zM218.1 459.8h1v1h-1zM225.5 459.5h1v1h-1zM235.5 451.0h1v1h-1zM226.1 452.8h1v1h-1zM222.3 458.8h1v1h-1zM232.9 454.8h1v1h-1zM231.3 450.5h1v1h-1zM228.8 456.8h1v1h-1zM226.7 460.1h1v1h-1zM228.9 454.0h1v1h-1zM225.2 459.5h1v1h-1zM233.9 450.5h1v1h-1zM226.6 460.6h1v1h-1zM237.1 444.7h1v1h-1zM226.4 456.4h1v1h-1zM223.6 455.4h1v1h-1zM230.6 455.8h1v1h-1zM225.1 452.8h1v1h-1zM222.1 455.3h1v1h-1zM229.7 452.0h1v1h-1zM232.5 453.8h1v1h-1zM231.6 456.3h1v1h-1zM239.1 450.8h1v1h-1zM228.1 454.5h1v1h-1zM231.3 456.1h1v1h-1zM221.1 457.4h1v1h-1zM220.7 458.0h1v1h-1zM229.8 456.3h1v1h-1zM226.7 462.0h1v1h-1zM215.0 460.0h1v1h-1zM221.5 456.7h1v1h-1zM236.4 455.9h1v1h-1zM217.5 460.4h1v1h-1zM227.6 459.9h1v1h-1zM226.9 457.2h1v1h-1zM235.8 451.5h1v1h-1zM229.6 457.7h1v1h-1zM231.8 450.8h1v1h-1zM231.2 455.0h1v1h-1zM225.8 455.2h1v1h-1zM237.4 451.1h1v1h-1zM219.6 457.0h1v1h-1zM227.3 458.4h1v1h-1zM222.9 456.0h1v1h-1zM222.4 457.2h1v1h-1zM229.6 456.0h1v1h-1zM220.1 459.6h1v1h-1zM226.8 454.1h1v1h-1zM216.4 455.8h1v1h-1zM223.6 457.1h1v1h-1zM230.4 453.8h1v1h-1zM221.3 462.6h1v1h-1zM224.8 454.7h1v1h-1zM224.4 459.2h1v1h-1zM229.4 454.5h1v1h-1zM230.1 449.6h1v1h-1zM226.7 455.8h1v1h-1zM231.1 453.9h1v1h-1zM223.9 452.9h1v1h-1zM231.7 453.4h1v1h-1zM225.6 460.3h1v1h-1zM230.8 457.3h1v1h-1zM220.0 459.5h1v1h-1zM227.7 455.1h1v1h-1zM230.2 454.9h1v1h-1zM223.0 456.8h1v1h-1zM216.5 458.9h1v1h-1zM230.1 454.5h1v1h-1zM228.9 453.1h1v1h-1zM215.6 461.1h1v1h-1zM227.7 451.8h1v1h-1zM228.9 450.6h1v1h-1zM232.6 460.4h1v1h-1zM221.3 457.2h1v1h-1zM225.5 452.5h1v1h-1zM227.4 453.0h1v1h-1zM230.7 455.1h1v1h-1zM226.8 458.9h1v1h-1zM227.8 457.8h1v1h-1zM222.7 460.1h1v1h-1zM223.9 456.8h1v1h-1zM229.0 459.3h1v1h-1zM225.4 456.6h1v1h-1zM227.0 457.1h1v1h-1zM228.2 460.9h1v1h-1zM232.7 456.6h1v1h-1zM221.3 460.7h1v1h-1zM220.3 459.3h1v1h-1zM214.4 456.2h1v1h-1zM226.0 457.9h1v1h-1zM223.7 460.3h1v1h-1zM223.6 461.8h1v1h-1zM233.4 455.3h1v1h-1zM214.0 458.3h1v1h-1zM224.1 456.7h1v1h-1zM211.9 461.9h1v1h-1zM227.0 456.3h1v1h-1zM231.0 457.9h1v1h-1zM234.1 457.5h1v1h-1zM226.3 456.9h1v1h-1zM224.2 459.2h1v1h-1zM217.9 457.6h1v1h-1zM223.1 459.8h1v1h-1zM223.6 460.2h1v1h-1zM232.7 459.7h1v1h-1zM219.9 459.7h1v1h-1zM229.8 452.4h1v1h-1zM226.1 455.3h1v1h-1zM234.2 456.2h1v1h-1zM224.7 460.9h1v1h-1zM222.8 459.9h1v1h-1zM214.2 461.7h1v1h-1zM232.2 458.0h1v1h-1zM236.0 454.4h1v1h-1zM221.9 456.1h1v1h-1zM229.6 450.6h1v1h-1zM230.5 453.4h1v1h-1zM224.0 461.9h1v1h-1zM228.7 455.0h1v1h-1zM226.1 458.6h1v1h-1zM218.7 458.6h1v1h-1zM235.2 457.6h1v1h-1zM218.0 460.0h1v1h-1zM231.9 455.7h1v1h-1zM235.7 455.0h1v1h-1zM217.2 460.5h1v1h-1zM215.2 460.7h1v1h-1zM231.0 459.1h1v1h-1zM220.9 451.4h1v1h-1zM230.4 457.1h1v1h-1zM226.1 451.4h1v1h-1zM224.7 457.8h1v1h-1zM223.3 453.0h1v1h-1zM225.8 455.5h1v1h-1zM215.7 461.5h1v1h-1zM234.9 458.1h1v1h-1zM222.7 453.5h1v1h-1zM232.3 451.3h1v1h-1zM224.0 456.7h1v1h-1zM232.1 455.1h1v1h-1zM225.6 459.0h1v1h-1zM229.7 455.9h1v1h-1zM221.8 459.8h1v1h-1zM227.9 457.6h1v1h-1zM218.2 459.2h1v1h-1zM227.3 454.9h1v1h-1zM231.7 452.4h1v1h-1zM219.7 459.5h1v1h-1zM220.7 456.0h1v1h-1zM226.6 458.1h1v1h-1zM235.4 449.9h1v1h-1zM228.2 452.2h1v1h-1zM233.3 453.6h1v1h-1zM224.2 454.7h1v1h-1zM230.8 450.4h1v1h-1zM225.1 456.5h1v1h-1zM223.4 455.9h1v1h-1zM218.0 457.3h1v1h-1zM221.9 457.9h1v1h-1zM224.8 459.0h1v1h-1zM219.6 456.7h1v1h-1zM217.4 459.1h1v1h-1zM220.0 455.6h1v1h-1zM216.6 460.9h1v1h-1zM233.2 455.9h1v1h-1zM218.6 456.3h1v1h-1zM239.7 454.6h1v1h-1zM233.6 450.3h1v1h-1zM235.2 449.0h1v1h-1zM233.5 459.0h1v1h-1zM230.0 453.8h1v1h-1zM222.8 455.4h1v1h-1zM221.8 456.3h1v1h-1zM223.7 452.1h1v1h-1zM226.4 455.8h1v1h-1zM232.4 461.9h1v1h-1zM225.1 461.7h1v1h-1zM220.2 459.8h1v1h-1zM220.5 453.0h1v1h-1zM228.9 454.5h1v1h-1zM220.6 455.6h1v1h-1zM226.8 449.8h1v1h-1zM226.4 458.1h1v1h-1zM228.3 454.2h1v1h-1zM225.7 457.8h1v1h-1zM223.0 459.5h1v1h-1zM236.8 451.7h1v1h-1zM224.0 457.9h1v1h-1zM224.7 457.4h1v1h-1zM231.7 453.2h1v1h-1zM224.1 459.8h1v1h-1zM226.9 455.2h1v1h-1zM228.5 457.5h1v1h-1zM233.7 456.8h1v1h-1zM226.4 455.7h1v1h-1zM245.6 446.2h1v1h-1zM220.4 455.4h1v1h-1zM214.8 459.8h1v1h-1zM221.4 459.8h1v1h-1zM218.3 455.1h1v1h-1zM228.8 456.3h1v1h-1zM228.0 459.6h1v1h-1zM223.9 457.7h1v1h-1zM224.3 460.1h1v1h-1zM239.5 454.0h1v1h-1zM229.1 453.8h1v1h-1zM217.8 457.4h1v1h-1zM229.7 454.0h1v1h-1zM223.0 457.7h1v1h-1zM221.9 455.8h1v1h-1zM232.1 457.4h1v1h-1zM219.8 452.2h1v1h-1zM218.0 459.8h1v1h-1zM234.9 458.6h1v1h-1zM225.2 456.9h1v1h-1zM222.1 459.8h1v1h-1zM227.8 456.4h1v1h-1zM220.1 456.4h1v1h-1zM232.8 455.4h1v1h-1zM226.9 455.7h1v1h-1zM224.2 453.8h1v1h-1zM231.5 457.2h1v1h-1zM228.3 449.5h1v1h-1zM221.5 455.8h1v1h-1zM230.8 455.6h1v1h-1zM230.5 458.3h1v1h-1zM221.7 454.8h1v1h-1zM234.4 453.5h1v1h-1zM231.7 455.6h1v1h-1zM226.4 457.3h1v1h-1zM226.5 456.8h1v1h-1zM230.5 454.8h1v1h-1zM229.5 461.0h1v1h-1zM223.7 458.2h1v1h-1zM232.5 448.4h1v1h-1zM232.2 451.7h1v1h-1zM234.7 448.5h1v1h-1zM228.0 456.0h1v1h-1zM223.5 453.3h1v1h-1zM227.3 457.5h1v1h-1zM230.6 451.2h1v1h-1zM234.4 449.8h1v1h-1zM232.2 453.5h1v1h-1zM223.3 460.9h1v1h-1zM237.4 452.4h1v1h-1zM227.4 456.9h1v1h-1zM230.3 457.8h1v1h-1zM233.5 453.1h1v1h-1zM228.5 454.9h1v1h-1zM226.3 456.0h1v1h-1zM230.9 454.7h1v1h-1zM218.6 460.7h1v1h-1zM230.7 457.1h1v1h-1zM221.0 457.2h1v1h-1zM228.8 456.8h1v1h-1zM235.9 452.7h1v1h-1zM228.0 458.8h1v1h-1zM222.8 456.6h1v1h-1zM228.2 456.1h1v1h-1zM231.8 454.3h1v1h-1zM223.1 461.5h1v1h-1zM229.2 454.4h1v1h-1zM228.4 449.8h1v1h-1zM231.1 459.4h1v1h-1zM221.8 454.8h1v1h-1zM230.8 458.2h1v1h-1zM232.2 455.5h1v1h-1zM220.5 460.0h1v1h-1zM225.4 459.2h1v1h-1zM216.4 460.4h1v1h-1zM235.1 455.4h1v1h-1zM212.2 457.6h1v1h-1zM225.5 458.4h1v1h-1zM224.1 454.4h1v1h-1zM221.7 454.1h1v1h-1zM215.9 459.0h1v1h-1zM215.0 458.0h1v1h-1zM220.9 458.1h1v1h-1zM231.4 452.0h1v1h-1zM233.9 455.9h1v1h-1zM217.8 460.6h1v1h-1zM234.8 454.4h1v1h-1zM229.9 451.8h1v1h-1zM217.4 458.4h1v1h-1zM220.6 457.9h1v1h-1zM218.5 459.0h1v1h-1zM228.5 457.9h1v1h-1zM218.2 459.1h1v1h-1zM232.1 451.4h1v1h-1zM231.7 453.6h1v1h-1zM238.5 456.4h1v1h-1zM218.9 460.9h1v1h-1zM219.8 458.4h1v1h-1zM228.0 455.0h1v1h-1zM211.1 459.9h1v1h-1zM230.4 457.7h1v1h-1zM226.7 451.7h1v1h-1zM228.9 454.6h1v1h-1zM227.2 455.9h1v1h-1zM226.1 451.6h1v1h-1zM231.1 454.2h1v1h-1zM225.9 461.7h1v1h-1zM230.3 452.0h1v1h-1zM240.5 455.9h1v1h-1zM222.1 454.9h1v1h-1zM226.6 455.2h1v1h-1zM226.6 457.3h1v1h-1zM235.7 453.8h1v1h-1zM232.1 451.9h1v1h-1zM223.9 456.4h1v1h-1zM229.2 453.8h1v1h-1zM225.5 452.3h1v1h-1zM225.7 459.9h1v1h-1zM222.6 454.1h1v1h-1zM230.2 457.1h1v1h-1zM226.9 450.9h1v1h-1zM221.0 460.3h1v1h-1zM224.8 457.1h1v1h-1zM230.6 454.2h1v1h-1zM218.0 458.4h1v1h-1zM224.9 458.9h1v1h-1zM230.0 456.1h1v1h-1zM225.3 455.8h1v1h-1zM223.5 460.8h1v1h-1zM231.1 452.1h1v1h-1zM220.8 458.5h1v1h-1zM220.8 457.4h1v1h-1zM224.9 456.9h1v1h-1zM230.1 448.3h1v1h-1zM228.4 456.7h1v1h-1zM229.5 452.6h1v1h-1zM217.8 459.8h1v1h-1zM220.4 455.5h1v1h-1zM224.6 458.8h1v1h-1zM211.6 461.6h1v1h-1zM240.9 449.2h1v1h-1zM228.2 455.5h1v1h-1zM232.1 457.3h1v1h-1zM226.5 455.5h1v1h-1zM221.2 457.4h1v1h-1zM227.9 451.8h1v1h-1zM224.2 455.7h1v1h-1zM234.7 455.3h1v1h-1zM223.2 458.6h1v1h-1zM224.8 457.0h1v1h-1zM234.5 452.8h1v1h-1zM230.1 453.8h1v1h-1zM220.0 459.5h1v1h-1zM231.9 459.1h1v1h-1zM221.9 455.6h1v1h-1zM226.6 451.7h1v1h-1zM225.1 457.9h1v1h-1zM226.4 455.0h1v1h-1zM215.0 460.3h1v1h-1zM224.2 453.3h1v1h-1zM222.0 458.4h1v1h-1zM224.5 458.7h1v1h-1zM222.4 460.1h1v1h-1zM227.7 453.5h1v1h-1zM224.1 455.9h1v1h-1zM215.9 458.6h1v1h-1zM232.0 452.8h1v1h-1zM224.8 458.0h1v1h-1zM227.5 456.7h1v1h-1zM224.1 455.0h1v1h-1zM232.4 449.5h1v1h-1zM227.2 461.6h1v1h-1zM229.8 454.2h1v1h-1zM233.4 452.9h1v1h-1zM231.3 453.5h1v1h-1zM234.9 455.3h1v1h-1zM232.8 450.8h1v1h-1zM226.7 456.0h1v1h-1zM224.5 456.3h1v1h-1zM228.1 455.9h1v1h-1zM227.3 461.0h1v1h-1zM231.4 456.6h1v1h-1zM220.5 458.8h1v1h-1zM220.0 459.8h1v1h-1zM226.4 460.6h1v1h-1zM227.5 456.5h1v1h-1zM228.8 458.5h1v1h-1zM230.1 458.4h1v1h-1zM224.1 457.1h1v1h-1zM222.7 461.0h1v1h-1zM227.5 452.7h1v1h-1zM227.8 455.1h1v1h-1zM232.5 453.1h1v1h-1zM219.9 460.6h1v1h-1zM227.3 456.2h1v1h-1zM228.4 455.0h1v1h-1zM216.4 461.4h1v1h-1zM221.0 451.8h1v1h-1zM231.7 455.4h1v1h-1zM228.5 453.9h1v1h-1zM233.1 454.4h1v1h-1zM224.1 460.2h1v1h-1zM221.8 462.7h1v1h-1zM228.2 459.6h1v1h-1zM224.4 454.4h1v1h-1zM230.1 454.6h1v1h-1zM221.9 450.3h1v1h-1zM232.5 454.4h1v1h-1zM226.1 454.6h1v1h-1zM212.5 455.5h1v1h-1zM216.1 461.1h1v1h-1zM225.1 457.7h1v1h-1zM231.9 451.0h1v1h-1zM231.7 452.3h1v1h-1zM224.7 456.4h1v1h-1zM229.2 451.4h1v1h-1zM216.0 459.0h1v1h-1zM240.4 456.3h1v1h-1zM234.5 453.1h1v1h-1zM229.1 452.9h1v1h-1zM232.1 451.6h1v1h-1zM225.8 451.9h1v1h-1zM226.9 455.8h1v1h-1zM227.6 462.6h1v1h-1zM227.4 451.2h1v1h-1zM226.2 455.0h1v1h-1zM225.0 461.0h1v1h-1zM232.1 460.7h1v1h-1zM234.7 450.2h1v1h-1zM225.2 455.9h1v1h-1zM229.6 457.5h1v1h-1zM222.8 456.5h1v1h-1zM229.1 458.1h1v1h-1zM223.2 458.7h1v1h-1zM223.8 458.8h1v1h-1zM236.3 448.3h1v1h-1zM218.2 458.2h1v1h-1zM226.8 458.3h1v1h-1zM225.5 453.6h1v1h-1zM234.8 459.6h1v1h-1zM233.6 454.7h1v1h-1zM232.8 453.4h1v1h-1zM232.4 451.0h1v1h-1zM227.7 456.4h1v1h-1zM241.3 450.4h1v1h-1zM229.6 456.4h1v1h-1zM227.5 456.0h1v1h-1zM220.7 456.8h1v1h-1zM239.8 452.1h1v1h-1zM224.4 452.7h1v1h-1zM226.2 455.8h1v1h-1zM241.9 450.7h1v1h-1zM223.5 460.6h1v1h-1zM216.1 459.9h1v1h-1zM228.6 457.0h1v1h-1zM229.3 453.9h1v1h-1zM215.5 462.2h1v1h-1zM220.1 454.6h1v1h-1zM222.0 458.3h1v1h-1zM228.1 454.8h1v1h-1zM224.8 462.2h1v1h-1zM222.6 458.1h1v1h-1zM230.0 450.2h1v1h-1zM230.7 449.8h1v1h-1zM228.2 458.0h1v1h-1zM219.5 452.8h1v1h-1zM224.4 455.4h1v1h-1zM227.0 457.4h1v1h-1zM227.5 461.6h1v1h-1zM226.0 454.7h1v1h-1zM224.2 456.3h1v1h-1zM220.9 460.7h1v1h-1zM222.3 459.4h1v1h-1zM226.2 457.7h1v1h-1zM229.1 456.0h1v1h-1zM221.7 457.3h1v1h-1zM227.7 452.9h1v1h-1zM233.8 453.2h1v1h-1zM226.0 457.2h1v1h-1zM221.7 455.3h1v1h-1zM226.5 453.1h1v1h-1zM227.6 455.3h1v1h-1zM225.4 457.9h1v1h-1zM227.7 457.8h1v1h-1zM222.6 457.7h1v1h-1zM223.8 462.4h1v1h-1zM215.1 459.8h1v1h-1zM229.6 454.5h1v1h-1zM219.7 457.4h1v1h-1zM223.2 459.4h1v1h-1zM224.7 462.5h1v1h-1zM218.0 459.6h1v1h-1zM217.4 459.9h1v1h-1zM232.1 455.7h1v1h-1zM232.9 456.9h1v1h-1zM222.2 456.1h1v1h-1zM223.4 454.5h1v1h-1zM227.3 459.0h1v1h-1zM233.9 452.5h1v1h-1zM223.8 459.3h1v1h-1zM223.2 461.1h1v1h-1zM229.2 454.1h1v1h-1zM224.7 461.4h1v1h-1zM223.1 455.7h1v1h-1zM226.6 455.0h1v1h-1zM225.1 457.8h1v1h-1zM215.4 460.6h1v1h-1zM224.6 461.9h1v1h-1zM222.2 458.7h1v1h-1zM230.8 451.7h1v1h-1zM223.4 459.1h1v1h-1zM233.3 455.9h1v1h-1zM222.6 461.1h1v1h-1zM225.4 460.5h1v1h-1zM223.2 457.5h1v1h-1zM226.5 455.9h1v1h-1zM222.6 455.1h1v1h-1zM223.7 453.6h1v1h-1zM228.1 456.0h1v1h-1zM218.1 453.9h1v1h-1zM227.3 458.1h1v1h-1zM232.1 450.8h1v1h-1zM219.4 459.6h1v1h-1zM226.6 457.1h1v1h-1zM233.2 453.1h1v1h-1zM230.0 457.5h1v1h-1zM221.8 456.9h1v1h-1zM220.6 457.8h1v1h-1zM238.9 451.3h1v1h-1zM225.5 459.5h1v1h-1zM226.8 461.6h1v1h-1zM228.3 454.6h1v1h-1zM225.6 458.5h1v1h-1zM221.3 456.1h1v1h-1zM213.1 460.5h1v1h-1zM224.4 452.5h1v1h-1zM224.7 459.6h1v1h-1zM226.0 456.5h1v1h-1zM224.3 455.4h1v1h-1zM230.5 451.9h1v1h-1zM240.1 448.9h1v1h-1zM228.5 456.2h1v1h-1zM236.7 456.4h1v1h-1zM227.0 458.3h1v1h-1zM224.6 455.6h1v1h-1zM225.6 457.3h1v1h-1zM221.3 461.8h1v1h-1zM226.4 457.0h1v1h-1zM233.0 457.1h1v1h-1zM218.1 458.5h1v1h-1zM222.2 459.4h1v1h-1zM218.4 461.9h1v1h-1zM221.6 458.1h1v1h-1zM214.9 457.8h1v1h-1zM230.9 454.2h1v1h-1zM216.5 459.5h1v1h-1zM224.2 454.7h1v1h-1zM221.9 459.0h1v1h-1zM220.7 454.1h1v1h-1zM237.5 452.9h1v1h-1zM222.2 458.5h1v1h-1zM218.3 459.6h1v1h-1zM222.8 457.5h1v1h-1zM228.5 455.2h1v1h-1zM228.1 459.4h1v1h-1zM229.4 453.7h1v1h-1zM235.3 453.1h1v1h-1zM224.3 456.8h1v1h-1zM229.9 456.2h1v1h-1zM235.8 452.2h1v1h-1zM233.2 454.9h1v1h-1zM227.8 457.6h1v1h-1zM224.8 459.5h1v1h-1zM218.9 459.4h1v1h-1zM219.8 462.2h1v1h-1zM221.1 459.2h1v1h-1zM233.9 453.1h1v1h-1zM227.6 455.2h1v1h-1zM227.1 454.2h1v1h-1zM222.4 457.3h1v1h-1zM243.1 446.5h1v1h-1zM225.2 453.3h1v1h-1zM240.3 454.4h1v1h-1zM228.3 454.1h1v1h-1zM218.6 462.8h1v1h-1zM235.4 454.9h1v1h-1zM221.4 457.4h1v1h-1zM221.1 455.2h1v1h-1zM233.6 453.4h1v1h-1zM230.3 455.0h1v1h-1zM227.2 456.4h1v1h-1zM222.8 456.7h1v1h-1zM220.5 460.3h1v1h-1zM221.5 457.9h1v1h-1zM226.1 458.2h1v1h-1zM237.9 452.8h1v1h-1zM223.2 456.7h1v1h-1zM227.2 454.0h1v1h-1zM216.1 460.3h1v1h-1zM230.5 457.8h1v1h-1zM223.7 453.8h1v1h-1zM229.2 456.7h1v1h-1zM228.9 455.4h1v1h-1zM218.6 460.1h1v1h-1zM220.0 458.2h1v1h-1zM223.0 454.7h1v1h-1zM226.8 456.0h1v1h-1zM224.8 460.6h1v1h-1zM222.1 456.7h1v1h-1zM225.5 454.3h1v1h-1zM227.8 452.7h1v1h-1zM229.1 453.8h1v1h-1zM225.4 454.9h1v1h-1zM232.4 454.3h1v1h-1zM229.8 455.1h1v1h-1zM231.4 452.9h1v1h-1zM227.3 451.1h1v1h-1zM232.4 454.8h1v1h-1zM227.4 455.5h1v1h-1zM213.1 462.1h1v1h-1zM221.8 454.5h1v1h-1zM221.3 454.1h1v1h-1zM227.4 459.3h1v1h-1zM230.3 452.5h1v1h-1zM216.5 455.6h1v1h-1zM227.0 453.9h1v1h-1zM227.7 461.9h1v1h-1zM224.4 458.5h1v1h-1zM220.8 459.7h1v1h-1zM231.4 452.2h1v1h-1zM219.8 458.9h1v1h-1zM228.6 457.6h1v1h-1zM213.7 458.3h1v1h-1zM234.9 452.7h1v1h-1zM231.5 453.9h1v1h-1zM215.6 456.2h1v1h-1zM220.2 457.3h1v1h-1zM228.2 454.2h1v1h-1zM238.4 456.8h1v1h-1zM215.5 454.7h1v1h-1zM223.6 457.7h1v1h-1zM223.5 455.2h1v1h-1zM225.2 451.9h1v1h-1zM231.5 449.6h1v1h-1zM227.6 455.2h1v1h-1zM222.9 461.7h1v1h-1zM232.4 451.6h1v1h-1zM232.0 454.5h1v1h-1zM233.8 451.3h1v1h-1zM229.5 456.8h1v1h-1zM229.3 450.6h1v1h-1zM221.1 456.3h1v1h-1zM226.0 461.0h1v1h-1zM233.1 453.7h1v1h-1zM223.0 454.5h1v1h-1zM228.7 454.0h1v1h-1zM223.9 455.6h1v1h-1zM213.1 458.2h1v1h-1zM218.6 455.4h1v1h-1zM230.7 455.0h1v1h-1zM230.0 453.0h1v1h-1zM223.4 462.4h1v1h-1zM226.0 456.9h1v1h-1zM222.9 452.1h1v1h-1zM233.7 450.1h1v1h-1zM220.0 453.6h1v1h-1zM229.6 456.5h1v1h-1zM212.4 461.9h1v1h-1zM232.2 455.2h1v1h-1zM222.1 457.0h1v1h-1zM224.5 457.9h1v1h-1zM216.4 461.0h1v1h-1zM234.1 453.0h1v1h-1zM221.5 458.7h1v1h-1zM213.5 462.5h1v1h-1zM230.3 452.4h1v1h-1zM234.0 451.5h1v1h-1zM220.1 461.3h1v1h-1zM220.7 458.4h1v1h-1zM233.8 452.1h1v1h-1zM228.3 454.9h1v1h-1zM230.9 451.4h1v1h-1zM228.8 453.6h1v1h-1zM224.7 459.5h1v1h-1zM231.9 458.8h1v1h-1zM217.0 460.5h1v1h-1zM226.6 456.7h1v1h-1zM228.8 455.1h1v1h-1zM223.5 460.6h1v1h-1zM224.6 453.3h1v1h-1zM222.6 461.4h1v1h-1zM227.1 457.6h1v1h-1zM222.0 455.5h1v1h-1zM230.5 459.2h1v1h-1zM225.7 457.5h1v1h-1zM226.4 452.8h1v1h-1z" fill="#111"/>
<path d="M246.2 438.9h1v1h-1zM241.3 433.8h1v1h-1zM252.1 433.2h1v1h-1zM247.9 436.2h1v1h-1zM252.8 435.2h1v1h-1zM246.6 445.0h1v1h-1zM241.3 440.6h1v1h-1zM241.9 442.3h1v1h-1zM248.3 439.9h1v1h-1zM243.9 446.2h1v1h-1zM244.7 432.7h1v1h-1zM255.7 421.8h1v1h-1zM261.3 419.9h1v1h-1zM230.4 443.2h1v1h-1zM251.8 429.9h1v1h-1zM250.2 443.7h1v1h-1zM237.1 443.5h1v1h-1zM248.1 440.6h1v1h-1zM237.4 431.7h1v1h-1zM237.4 437.8h1v1h-1zM243.9 440.6h1v1h-1zM236.4 437.4h1v1h-1zM237.4 445.4h1v1h-1zM247.3 441.7h1v1h-1zM251.9 443.0h1v1h-1zM238.8 452.0h1v1h-1zM232.2 451.0h1v1h-1zM242.4 428.8h1v1h-1zM257.2 447.7h1v1h-1zM253.6 424.3h1v1h-1zM220.6 458.9h1v1h-1zM245.7 434.6h1v1h-1zM235.9 432.1h1v1h-1zM243.4 425.4h1v1h-1zM229.1 447.0h1v1h-1zM255.5 438.8h1v1h-1zM252.2 444.9h1v1h-1zM250.5 432.7h1v1h-1zM245.6 440.5h1v1h-1zM237.5 443.7h1v1h-1zM242.1 431.7h1v1h-1zM228.8 449.0h1v1h-1zM249.1 444.0h1v1h-1zM254.5 437.1h1v1h-1zM244.5 436.1h1v1h-1zM231.5 426.2h1v1h-1zM240.1 447.1h1v1h-1zM242.7 454.8h1v1h-1zM257.4 438.9h1v1h-1zM241.8 453.7h1v1h-1zM257.0 424.0h1v1h-1zM247.3 447.1h1v1h-1zM235.1 458.9h1v1h-1zM241.4 446.1h1v1h-1zM239.6 444.6h1v1h-1zM245.5 450.6h1v1h-1zM240.2 446.7h1v1h-1zM249.8 434.9h1v1h-1zM247.1 428.2h1v1h-1zM230.1 444.7h1v1h-1zM227.1 443.3h1v1h-1zM240.4 437.1h1v1h-1zM236.7 437.5h1v1h-1zM247.2 437.0h1v1h-1zM219.3 460.0h1v1h-1zM257.0 437.9h1v1h-1zM253.5 429.2h1v1h-1zM258.4 436.6h1v1h-1zM242.0 450.2h1v1h-1zM246.4 433.4h1v1h-1zM243.2 444.5h1v1h-1zM240.6 445.2h1v1h-1zM236.9 431.7h1v1h-1zM253.9 437.8h1v1h-1zM247.3 426.5h1v1h-1zM241.9 450.4h1v1h-1zM238.3 435.7h1v1h-1zM263.9 429.1h1v1h-1zM247.8 437.5h1v1h-1zM255.5 435.4h1v1h-1zM236.4 442.0h1v1h-1zM243.7 453.2h1v1h-1zM243.4 439.6h1v1h-1zM253.9 442.8h1v1h-1zM238.1 445.7h1v1h-1zM251.1 434.4h1v1h-1zM251.6 439.6h1v1h-1zM231.6 453.3h1v1h-1zM243.4 437.8h1v1h-1zM222.8 455.2h1v1h-1zM223.2 453.5h1v1h-1zM256.9 425.5h1v1h-1zM240.3 439.7h1v1h-1zM251.0 435.8h1v1h-1zM239.1 451.2h1v1h-1zM227.1 447.3h1v1h-1zM222.2 448.8h1v1h-1zM246.1 429.1h1v1h-1zM240.9 452.3h1v1h-1zM227.0 450.0h1v1h-1zM240.4 455.1h1v1h-1zM241.6 437.4h1v1h-1zM253.1 432.1h1v1h-1zM235.0 447.9h1v1h-1zM230.1 456.8h1v1h-1zM252.4 431.8h1v1h-1zM232.5 445.3h1v1h-1zM257.3 443.4h1v1h-1zM241.1 442.9h1v1h-1zM243.8 446.6h1v1h-1zM244.3 435.9h1v1h-1zM254.3 447.5h1v1h-1zM235.5 460.9h1v1h-1zM247.1 438.9h1v1h-1zM245.3 446.6h1v1h-1zM234.8 444.1h1v1h-1zM265.2 424.4h1v1h-1zM217.8 446.6h1v1h-1zM259.7 416.5h1v1h-1zM239.1 441.4h1v1h-1zM240.3 441.6h1v1h-1zM231.6 454.2h1v1h-1zM257.2 429.5h1v1h-1zM234.6 451.6h1v1h-1zM254.9 443.0h1v1h-1zM238.0 438.7h1v1h-1zM226.0 456.4h1v1h-1zM249.4 438.9h1v1h-1zM231.3 438.5h1v1h-1zM230.0 445.8h1v1h-1zM255.3 434.6h1v1h-1zM239.5 442.0h1v1h-1zM235.9 444.1h1v1h-1zM233.5 456.9h1v1h-1zM243.8 439.6h1v1h-1zM254.6 439.7h1v1h-1zM254.9 429.5h1v1h-1zM234.5 455.8h1v1h-1zM246.0 437.9h1v1h-1zM252.9 437.1h1v1h-1zM240.3 434.0h1v1h-1zM237.5 444.7h1v1h-1zM244.4 442.0h1v1h-1zM235.8 446.3h1v1h-1zM233.7 442.4h1v1h-1zM236.1 456.0h1v1h-1zM237.5 451.0h1v1h-1zM228.8 452.1h1v1h-1zM258.5 430.8h1v1h-1zM258.9 432.0h1v1h-1zM229.6 447.1h1v1h-1zM244.6 440.3h1v1h-1zM247.7 438.7h1v1h-1zM254.3 442.0h1v1h-1zM243.9 433.2h1v1h-1zM245.2 447.3h1v1h-1zM248.3 441.6h1v1h-1zM224.0 457.0h1v1h-1zM242.3 437.9h1v1h-1zM250.9 417.4h1v1h-1zM247.4 435.7h1v1h-1zM223.3 443.2h1v1h-1zM242.7 450.6h1v1h-1zM226.5 437.0h1v1h-1zM247.9 431.0h1v1h-1zM237.6 441.4h1v1h-1zM246.1 434.4h1v1h-1zM240.3 439.1h1v1h-1zM240.4 429.6h1v1h-1zM250.5 441.4h1v1h-1zM249.2 444.9h1v1h-1zM245.1 456.5h1v1h-1zM244.7 437.8h1v1h-1zM243.2 446.5h1v1h-1zM250.8 443.5h1v1h-1zM241.0 433.9h1v1h-1zM237.2 444.0h1v1h-1zM225.4 454.7h1v1h-1zM249.0 440.1h1v1h-1zM231.9 446.1h1v1h-1zM248.4 449.3h1v1h-1zM253.9 434.0h1v1h-1zM265.4 427.1h1v1h-1zM243.0 434.9h1v1h-1zM222.0 446.7h1v1h-1zM249.2 430.8h1v1h-1zM243.2 446.4h1v1h-1zM229.8 456.5h1v1h-1zM233.3 451.1h1v1h-1zM246.3 446.4h1v1h-1zM244.6 442.0h1v1h-1zM246.1 447.9h1v1h-1zM233.9 436.3h1v1h-1zM231.7 454.0h1v1h-1zM245.4 438.7h1v1h-1zM236.6 443.0h1v1h-1zM248.2 437.0h1v1h-1zM238.8 449.4h1v1h-1zM243.5 429.9h1v1h-1zM253.3 437.6h1v1h-1zM239.9 446.1h1v1h-1zM253.6 436.4h1v1h-1zM244.4 446.0h1v1h-1zM234.6 438.7h1v1h-1zM239.2 446.2h1v1h-1zM247.6 432.3h1v1h-1zM240.1 451.0h1v1h-1zM252.2 440.3h1v1h-1zM249.4 441.5h1v1h-1zM232.8 438.0h1v1h-1zM257.3 431.3h1v1h-1zM254.1 440.3h1v1h-1zM242.0 446.7h1v1h-1zM238.4 438.1h1v1h-1zM251.7 430.3h1v1h-1zM245.6 442.8h1v1h-1zM263.9 434.0h1v1h-1zM252.4 432.0h1v1h-1zM256.2 427.6h1v1h-1zM240.8 431.9h1v1h-1zM242.7 438.3h1v1h-1zM236.4 438.5h1v1h-1zM238.1 446.8h1v1h-1zM232.6 437.3h1v1h-1zM241.3 439.8h1v1h-1zM256.2 436.8h1v1h-1zM240.7 439.8h1v1h-1zM261.7 434.5h1v1h-1zM262.5 429.1h1v1h-1zM240.3 440.8h1v1h-1zM239.9 448.3h1v1h-1zM223.5 458.2h1v1h-1zM248.3 436.2h1v1h-1zM224.1 447.9h1v1h-1zM254.7 434.1h1v1h-1zM247.8 448.8h1v1h-1zM256.3 440.2h1v1h-1zM255.0 422.7h1v1h-1zM243.1 436.2h1v1h-1zM236.1 444.2h1v1h-1zM259.9 434.8h1v1h-1zM254.7 438.2h1v1h-1zM238.2 452.9h1v1h-1zM235.5 453.9h1v1h-1zM247.5 437.0h1v1h-1zM238.8 435.4h1v1h-1zM250.2 433.9h1v1h-1zM255.1 431.0h1v1h-1zM248.5 438.5h1v1h-1zM230.3 446.8h1v1h-1zM252.5 431.1h1v1h-1zM250.9 429.3h1v1h-1zM225.9 458.3h1v1h-1zM238.2 440.3h1v1h-1zM238.9 445.3h1v1h-1zM254.7 420.2h1v1h-1zM254.4 433.7h1v1h-1zM242.7 451.9h1v1h-1zM223.5 439.1h1v1h-1zM229.6 458.9h1v1h-1zM231.3 450.2h1v1h-1zM241.8 433.3h1v1h-1zM248.9 438.5h1v1h-1zM236.6 435.0h1v1h-1zM236.9 449.6h1v1h-1zM245.6 434.1h1v1h-1zM246.5 442.9h1v1h-1zM233.7 442.5h1v1h-1zM258.4 434.6h1v1h-1zM240.2 448.9h1v1h-1zM243.7 446.6h1v1h-1zM247.2 439.3h1v1h-1zM221.1 460.7h1v1h-1zM255.9 437.5h1v1h-1zM241.6 449.0h1v1h-1zM245.1 449.4h1v1h-1zM240.6 448.2h1v1h-1zM249.6 443.6h1v1h-1zM243.5 435.4h1v1h-1zM236.5 442.5h1v1h-1zM236.0 446.7h1v1h-1zM244.0 437.0h1v1h-1zM243.5 438.7h1v1h-1zM239.3 438.0h1v1h-1zM238.0 446.7h1v1h-1zM233.4 453.5h1v1h-1zM233.6 438.6h1v1h-1zM245.3 448.2h1v1h-1zM249.8 430.8h1v1h-1zM252.0 425.0h1v1h-1zM252.7 440.4h1v1h-1zM232.1 455.1h1v1h-1zM257.4 435.9h1v1h-1zM261.4 427.0h1v1h-1zM248.2 437.5h1v1h-1zM236.1 448.6h1v1h-1zM241.7 438.4h1v1h-1zM252.7 434.7h1v1h-1zM239.9 452.9h1v1h-1zM230.9 438.6h1v1h-1zM238.6 453.0h1v1h-1zM234.1 448.9h1v1h-1zM226.6 439.8h1v1h-1zM266.1 431.0h1v1h-1zM241.5 450.1h1v1h-1zM233.1 440.5h1v1h-1zM247.2 434.2h1v1h-1zM229.3 449.7h1v1h-1zM248.5 443.8h1v1h-1zM241.7 440.0h1v1h-1zM250.4 440.4h1v1h-1zM233.6 443.3h1v1h-1zM236.4 437.7h1v1h-1zM231.1 434.9h1v1h-1zM243.7 436.5h1v1h-1zM249.5 443.5h1v1h-1zM247.9 444.7h1v1h-1zM251.4 441.0h1v1h-1zM242.7 448.6h1v1h-1zM253.4 420.6h1v1h-1zM253.4 440.6h1v1h-1zM245.5 434.4h1v1h-1zM250.3 432.9h1v1h-1zM252.0 434.8h1v1h-1zM230.9 442.0h1v1h-1zM228.7 458.1h1v1h-1zM253.9 443.6h1v1h-1zM247.5 422.6h1v1h-1zM228.6 442.0h1v1h-1zM250.6 447.9h1v1h-1zM260.6 441.2h1v1h-1zM245.3 439.1h1v1h-1zM255.2 429.2h1v1h-1zM242.7 419.9h1v1h-1zM228.5 449.4h1v1h-1zM245.2 431.0h1v1h-1zM246.9 421.9h1v1h-1zM249.9 422.9h1v1h-1zM240.6 440.8h1v1h-1zM255.9 442.3h1v1h-1zM240.3 428.1h1v1h-1zM241.2 451.8h1v1h-1zM257.2 451.1h1v1h-1zM249.2 425.2h1v1h-1zM261.7 422.9h1v1h-1zM254.3 440.9h1v1h-1zM232.6 452.3h1v1h-1zM250.3 442.2h1v1h-1zM256.4 431.7h1v1h-1zM239.9 430.4h1v1h-1zM242.4 438.2h1v1h-1zM229.1 447.2h1v1h-1zM245.8 432.4h1v1h-1zM250.3 439.7h1v1h-1zM243.7 434.7h1v1h-1zM264.2 431.7h1v1h-1zM245.5 435.0h1v1h-1zM243.3 431.5h1v1h-1zM244.1 437.1h1v1h-1zM241.6 426.8h1v1h-1zM239.4 422.1h1v1h-1zM239.3 453.1h1v1h-1zM244.9 441.1h1v1h-1zM249.7 448.8h1v1h-1zM265.7 423.5h1v1h-1zM242.5 439.0h1v1h-1zM246.3 426.6h1v1h-1zM246.2 442.9h1v1h-1zM251.4 451.4h1v1h-1zM245.0 449.7h1v1h-1zM250.0 438.5h1v1h-1zM255.5 429.3h1v1h-1zM226.5 458.7h1v1h-1zM245.1 440.6h1v1h-1zM242.0 434.9h1v1h-1zM225.2 454.0h1v1h-1zM253.9 448.7h1v1h-1zM242.9 435.4h1v1h-1zM253.4 433.2h1v1h-1zM245.6 440.1h1v1h-1zM250.5 433.8h1v1h-1zM245.6 422.9h1v1h-1zM242.6 439.0h1v1h-1zM253.3 432.2h1v1h-1zM243.5 441.4h1v1h-1zM243.1 436.8h1v1h-1zM242.5 445.8h1v1h-1zM248.5 436.4h1v1h-1zM241.0 440.8h1v1h-1zM232.2 447.4h1v1h-1zM256.9 429.2h1v1h-1zM236.2 443.6h1v1h-1zM248.9 444.4h1v1h-1zM238.4 448.1h1v1h-1zM244.2 447.0h1v1h-1zM243.4 441.5h1v1h-1zM252.2 452.4h1v1h-1zM251.0 433.0h1v1h-1zM251.6 439.8h1v1h-1zM240.1 442.0h1v1h-1zM236.0 449.9h1v1h-1zM245.1 447.4h1v1h-1zM244.0 442.9h1v1h-1zM246.6 441.0h1v1h-1zM247.7 441.6h1v1h-1zM231.7 455.9h1v1h-1zM237.7 448.5h1v1h-1zM232.5 445.2h1v1h-1zM239.8 450.9h1v1h-1zM233.7 452.1h1v1h-1zM240.2 441.7h1v1h-1zM249.3 435.7h1v1h-1zM249.0 434.2h1v1h-1zM231.7 444.7h1v1h-1zM255.4 432.6h1v1h-1zM258.4 433.4h1v1h-1zM240.5 443.7h1v1h-1zM260.3 438.8h1v1h-1zM239.2 443.0h1v1h-1zM245.8 430.7h1v1h-1zM228.5 444.9h1v1h-1zM258.5 426.6h1v1h-1zM250.8 435.7h1v1h-1zM241.6 437.8h1v1h-1zM239.4 454.9h1v1h-1zM241.2 443.5h1v1h-1zM266.2 422.0h1v1h-1zM244.5 432.0h1v1h-1zM255.4 424.3h1v1h-1zM247.5 438.3h1v1h-1zM238.6 445.3h1v1h-1zM237.4 449.0h1v1h-1zM240.4 445.9h1v1h-1zM244.2 439.0h1v1h-1zM244.6 443.9h1v1h-1zM249.1 435.2h1v1h-1zM235.4 450.7h1v1h-1zM219.5 453.1h1v1h-1zM243.6 439.4h1v1h-1zM251.3 432.5h1v1h-1zM253.6 434.1h1v1h-1zM257.5 418.0h1v1h-1zM237.4 447.6h1v1h-1zM248.4 434.8h1v1h-1zM239.6 447.5h1v1h-1zM243.6 446.7h1v1h-1zM252.1 443.9h1v1h-1zM264.3 428.6h1v1h-1zM242.9 439.7h1v1h-1zM261.1 434.7h1v1h-1zM253.7 437.0h1v1h-1zM225.2 440.8h1v1h-1zM239.3 452.2h1v1h-1zM261.2 439.0h1v1h-1zM225.2 448.6h1v1h-1zM256.5 448.2h1v1h-1zM231.5 447.5h1v1h-1zM246.1 436.4h1v1h-1zM250.0 429.5h1v1h-1zM232.6 447.3h1v1h-1zM233.1 445.7h1v1h-1zM245.9 442.5h1v1h-1zM255.3 435.1h1v1h-1zM230.3 452.5h1v1h-1zM229.1 434.0h1v1h-1zM244.8 449.8h1v1h-1zM251.3 441.1h1v1h-1zM242.6 433.6h1v1h-1zM223.3 452.4h1v1h-1zM254.5 445.1h1v1h-1zM237.4 447.4h1v1h-1zM246.3 434.3h1v1h-1zM237.4 444.8h1v1h-1zM243.5 437.2h1v1h-1zM242.6 434.7h1v1h-1zM249.0 438.1h1v1h-1zM259.0 437.0h1v1h-1zM241.9 433.1h1v1h-1zM230.9 446.9h1v1h-1zM246.5 427.8h1v1h-1zM241.3 441.5h1v1h-1zM237.7 451.0h1v1h-1zM236.0 438.7h1v1h-1zM241.2 447.1h1v1h-1zM257.2 437.9h1v1h-1zM252.7 433.0h1v1h-1zM242.6 438.2h1v1h-1zM249.4 452.2h1v1h-1zM225.0 458.2h1v1h-1zM256.2 423.0h1v1h-1zM250.7 436.9h1v1h-1zM241.8 434.9h1v1h-1zM223.2 448.3h1v1h-1zM240.7 441.7h1v1h-1zM227.1 444.4h1v1h-1zM226.7 450.3h1v1h-1zM248.5 437.9h1v1h-1zM225.6 461.6h1v1h-1zM239.5 440.2h1v1h-1zM245.7 434.0h1v1h-1zM241.0 444.5h1v1h-1zM253.9 434.0h1v1h-1zM255.2 435.8h1v1h-1zM244.1 449.4h1v1h-1zM250.3 442.7h1v1h-1zM251.4 426.0h1v1h-1zM241.1 446.8h1v1h-1zM242.6 434.0h1v1h-1zM252.5 438.1h1v1h-1zM240.5 456.0h1v1h-1zM253.6 442.1h1v1h-1zM242.5 437.4h1v1h-1zM235.1 444.2h1v1h-1zM245.6 438.8h1v1h-1zM258.3 439.6h1v1h-1zM231.9 443.1h1v1h-1zM242.4 442.8h1v1h-1zM229.5 446.1h1v1h-1zM236.4 441.9h1v1h-1zM238.1 450.4h1v1h-1zM262.3 425.2h1v1h-1zM248.2 440.8h1v1h-1zM240.8 439.6h1v1h-1zM241.8 435.4h1v1h-1zM244.9 428.6h1v1h-1zM228.4 448.8h1v1h-1zM232.2 439.0h1v1h-1zM250.5 438.2h1v1h-1zM244.5 437.2h1v1h-1zM241.7 450.0h1v1h-1zM235.7 453.9h1v1h-1zM222.3 450.8h1v1h-1zM247.4 434.8h1v1h-1zM220.0 453.7h1v1h-1zM249.0 458.5h1v1h-1zM231.8 442.9h1v1h-1zM236.8 434.6h1v1h-1zM260.7 428.3h1v1h-1zM253.6 441.3h1v1h-1zM242.1 443.1h1v1h-1zM260.0 429.1h1v1h-1zM247.2 439.1h1v1h-1zM226.7 451.1h1v1h-1zM248.6 435.0h1v1h-1zM245.9 442.5h1v1h-1zM245.7 443.4h1v1h-1zM219.3 454.2h1v1h-1zM241.2 439.5h1v1h-1zM245.8 447.1h1v1h-1zM251.0 427.2h1v1h-1zM247.8 445.5h1v1h-1zM243.0 436.0h1v1h-1zM244.8 437.8h1v1h-1zM236.6 440.8h1v1h-1zM241.0 432.5h1v1h-1zM257.1 426.1h1v1h-1zM239.7 443.5h1v1h-1zM227.0 447.7h1v1h-1zM235.4 458.0h1v1h-1zM239.4 441.9h1v1h-1zM230.0 452.7h1v1h-1zM242.1 456.8h1v1h-1zM245.0 439.9h1v1h-1zM240.9 430.9h1v1h-1zM217.8 453.5h1v1h-1zM233.7 443.4h1v1h-1zM234.9 437.3h1v1h-1zM247.6 440.3h1v1h-1zM249.5 447.7h1v1h-1zM230.0 455.9h1v1h-1zM240.2 459.1h1v1h-1zM256.8 441.5h1v1h-1zM239.7 439.1h1v1h-1zM247.9 444.2h1v1h-1zM234.8 432.3h1v1h-1zM249.4 439.8h1v1h-1zM251.0 436.3h1v1h-1zM239.8 446.4h1v1h-1zM253.1 429.0h1v1h-1zM233.0 451.2h1v1h-1zM246.5 433.9h1v1h-1zM269.4 441.0h1v1h-1zM247.7 445.0h1v1h-1zM230.2 458.3h1v1h-1zM243.7 437.8h1v1h-1zM240.3 443.0h1v1h-1zM237.6 449.1h1v1h-1zM229.8 451.6h1v1h-1zM265.2 424.9h1v1h-1zM251.5 435.1h1v1h-1zM236.8 440.0h1v1h-1zM247.3 442.3h1v1h-1zM239.5 439.3h1v1h-1zM236.7 451.7h1v1h-1zM232.1 445.0h1v1h-1zM236.8 444.8h1v1h-1zM234.2 454.2h1v1h-1zM248.4 432.8h1v1h-1zM257.8 434.8h1v1h-1zM253.6 444.4h1v1h-1zM245.0 440.3h1v1h-1zM247.4 435.8h1v1h-1zM244.3 439.2h1v1h-1zM256.7 427.9h1v1h-1zM242.3 433.1h1v1h-1zM236.6 438.7h1v1h-1zM233.5 459.3h1v1h-1zM244.5 431.4h1v1h-1zM243.5 439.2h1v1h-1zM229.1 454.7h1v1h-1zM247.7 437.2h1v1h-1zM248.5 439.9h1v1h-1zM233.6 443.4h1v1h-1zM242.9 442.1h1v1h-1zM248.2 439.4h1v1h-1zM247.3 435.7h1v1h-1zM247.7 435.6h1v1h-1zM229.4 444.6h1v1h-1zM239.0 445.2h1v1h-1zM225.8 459.3h1v1h-1zM243.0 454.2h1v1h-1zM238.8 447.2h1v1h-1zM243.4 441.5h1v1h-1zM257.7 431.9h1v1h-1zM238.6 431.3h1v1h-1zM256.9 434.0h1v1h-1zM236.8 448.7h1v1h-1zM242.8 433.7h1v1h-1zM234.5 444.8h1v1h-1zM244.4 433.0h1v1h-1zM232.7 458.7h1v1h-1zM242.8 440.7h1v1h-1zM242.7 442.2h1v1h-1zM231.8 445.3h1v1h-1zM253.7 432.2h1v1h-1zM249.3 440.8h1v1h-1zM241.4 437.1h1v1h-1zM240.3 445.3h1v1h-1zM241.4 438.7h1v1h-1zM231.5 453.2h1v1h-1zM235.0 452.6h1v1h-1zM242.2 425.2h1v1h-1zM226.9 435.0h1v1h-1zM245.1 435.4h1v1h-1zM254.6 441.3h1v1h-1zM238.9 425.7h1v1h-1zM241.5 453.8h1v1h-1zM229.4 439.1h1v1h-1zM244.3 447.2h1v1h-1zM255.0 435.6h1v1h-1zM230.3 442.9h1v1h-1zM236.5 434.9h1v1h-1zM242.1 443.9h1v1h-1zM227.5 449.2h1v1h-1zM249.5 441.4h1v1h-1zM232.7 461.0h1v1h-1zM247.7 441.2h1v1h-1zM228.8 445.7h1v1h-1zM253.7 435.0h1v1h-1zM240.8 456.8h1v1h-1zM248.1 433.8h1v1h-1zM254.5 439.0h1v1h-1zM240.1 437.4h1v1h-1zM241.0 433.1h1v1h-1zM256.1 428.1h1v1h-1zM227.9 440.2h1v1h-1zM235.8 447.7h1v1h-1zM249.7 438.5h1v1h-1zM240.7 430.3h1v1h-1zM254.5 433.1h1v1h-1zM236.1 447.0h1v1h-1zM248.7 430.8h1v1h-1zM240.1 448.4h1v1h-1zM238.3 436.9h1v1h-1zM230.8 446.8h1v1h-1zM232.3 443.9h1v1h-1zM237.1 447.8h1v1h-1zM243.4 446.5h1v1h-1zM236.7 447.4h1v1h-1zM256.9 421.1h1v1h-1zM243.4 437.9h1v1h-1zM254.6 439.4h1v1h-1zM243.1 441.9h1v1h-1zM255.7 450.9h1v1h-1zM246.4 444.6h1v1h-1zM238.5 439.8h1v1h-1zM240.4 437.1h1v1h-1zM232.4 443.5h1v1h-1zM243.5 451.2h1v1h-1zM255.1 433.0h1v1h-1zM247.1 440.2h1v1h-1zM232.9 445.8h1v1h-1zM230.6 451.8h1v1h-1zM239.3 437.9h1v1h-1zM235.1 436.5h1v1h-1zM243.5 441.3h1v1h-1zM231.3 440.6h1v1h-1zM229.9 444.8h1v1h-1zM254.7 428.4h1v1h-1zM239.8 442.5h1v1h-1zM251.8 439.1h1v1h-1zM237.2 451.6h1v1h-1zM230.8 447.1h1v1h-1zM242.4 454.5h1v1h-1zM238.6 453.0h1v1h-1zM236.4 450.7h1v1h-1zM237.8 446.1h1v1h-1zM237.6 449.2h1v1h-1zM229.9 448.6h1v1h-1zM257.4 434.6h1v1h-1zM249.4 448.0h1v1h-1zM251.7 439.3h1v1h-1zM250.0 442.8h1v1h-1zM247.5 428.4h1v1h-1zM245.7 445.0h1v1h-1zM244.2 438.2h1v1h-1zM260.5 442.6h1v1h-1zM262.2 424.2h1v1h-1zM237.5 452.3h1v1h-1zM249.6 429.6h1v1h-1zM244.7 439.8h1v1h-1zM234.2 459.5h1v1h-1zM252.1 439.6h1v1h-1zM233.5 439.8h1v1h-1zM249.2 433.9h1v1h-1zM237.1 444.2h1v1h-1zM234.9 442.9h1v1h-1zM257.2 416.3h1v1h-1zM244.1 452.8h1v1h-1zM262.5 424.7h1v1h-1zM248.6 437.6h1v1h-1zM231.5 446.8h1v1h-1zM255.8 425.5h1v1h-1zM251.1 418.6h1v1h-1zM236.7 441.2h1v1h-1zM255.8 432.5h1v1h-1zM248.4 443.7h1v1h-1zM253.3 437.1h1v1h-1zM239.8 448.3h1v1h-1zM252.2 425.6h1v1h-1zM240.9 446.4h1v1h-1zM253.5 440.7h1v1h-1zM243.8 439.0h1v1h-1zM249.7 450.8h1v1h-1zM238.8 442.7h1v1h-1zM233.8 448.0h1v1h-1zM231.7 456.7h1v1h-1zM241.9 437.5h1v1h-1zM246.1 441.7h1v1h-1z" fill="#111"/>
<path d="M240.0 417.5h1v1h-1zM240.3 436.2h1v1h-1zM264.1 416.9h1v1h-1zM252.5 410.1h1v1h-1zM255.5 423.1h1v1h-1zM268.9 450.3h1v1h-1zM253.9 418.0h1v1h-1zM253.7 419.8h1v1h-1zM247.8 437.2h1v1h-1zM254.7 431.3h1v1h-1zM241.0 430.8h1v1h-1zM248.5 442.1h1v1h-1zM257.0 424.3h1v1h-1zM253.3 430.7h1v1h-1zM249.9 418.2h1v1h-1zM247.7 431.6h1v1h-1zM256.6 407.8h1v1h-1zM238.1 439.0h1v1h-1zM255.0 435.0h1v1h-1zM260.2 421.4h1v1h-1zM255.4 427.5h1v1h-1zM246.2 412.5h1v1h-1zM263.7 425.6h1v1h-1zM247.6 434.3h1v1h-1zM254.8 435.7h1v1h-1zM266.8 438.6h1v1h-1zM257.5 436.6h1v1h-1zM245.7 417.9h1v1h-1zM243.2 432.6h1v1h-1zM259.1 421.3h1v1h-1zM256.3 433.3h1v1h-1zM253.4 415.5h1v1h-1zM251.2 429.8h1v1h-1zM263.2 432.7h1v1h-1zM255.3 436.8h1v1h-1zM254.6 434.6h1v1h-1zM261.1 444.0h1v1h-1zM246.6 420.8h1v1h-1zM256.3 444.5h1v1h-1zM249.5 425.8h1v1h-1zM263.3 444.9h1v1h-1zM250.0 437.3h1v1h-1zM269.1 431.5h1v1h-1zM254.3 439.1h1v1h-1zM252.1 414.2h1v1h-1zM249.0 433.8h1v1h-1zM251.6 419.6h1v1h-1zM237.2 415.9h1v1h-1zM265.9 413.8h1v1h-1zM249.6 424.4h1v1h-1zM252.2 429.8h1v1h-1zM244.6 427.8h1v1h-1zM262.8 408.3h1v1h-1zM243.9 435.6h1v1h-1zM240.9 433.5h1v1h-1zM245.6 418.0h1v1h-1zM257.3 442.8h1v1h-1zM260.6 425.8h1v1h-1zM252.1 426.0h1v1h-1zM247.7 423.3h1v1h-1zM252.1 430.4h1v1h-1zM245.4 438.9h1v1h-1zM264.9 420.0h1v1h-1zM238.2 426.6h1v1h-1zM246.4 416.7h1v1h-1zM243.2 432.6h1v1h-1zM251.2 430.8h1v1h-1zM256.3 410.0h1v1h-1zM263.2 421.1h1v1h-1zM259.5 420.1h1v1h-1zM243.1 417.0h1v1h-1zM247.8 433.4h1v1h-1zM261.4 432.6h1v1h-1zM250.4 438.5h1v1h-1zM249.1 423.1h1v1h-1zM251.8 428.6h1v1h-1zM246.4 414.9h1v1h-1zM252.3 433.5h1v1h-1zM247.5 420.3h1v1h-1zM260.1 407.7h1v1h-1zM244.9 433.1h1v1h-1zM243.4 423.8h1v1h-1zM242.8 432.7h1v1h-1zM244.5 441.5h1v1h-1zM249.2 428.5h1v1h-1zM248.6 421.6h1v1h-1zM247.7 440.3h1v1h-1zM260.3 415.7h1v1h-1zM243.5 439.0h1v1h-1zM263.6 407.0h1v1h-1zM257.2 424.4h1v1h-1zM245.6 427.7h1v1h-1zM248.9 434.9h1v1h-1zM241.3 421.9h1v1h-1zM252.1 423.5h1v1h-1zM237.5 437.1h1v1h-1zM248.5 433.8h1v1h-1zM246.3 440.4h1v1h-1zM252.2 432.8h1v1h-1zM258.7 424.4h1v1h-1zM252.6 423.2h1v1h-1zM250.6 434.7h1v1h-1zM260.4 405.3h1v1h-1zM258.7 425.4h1v1h-1zM253.9 432.0h1v1h-1zM232.7 438.4h1v1h-1zM242.9 439.7h1v1h-1zM233.7 433.4h1v1h-1zM243.7 439.9h1v1h-1zM260.4 430.0h1v1h-1zM264.5 424.2h1v1h-1zM250.1 422.6h1v1h-1zM240.5 433.6h1v1h-1zM244.6 451.4h1v1h-1zM261.6 427.2h1v1h-1zM248.4 428.6h1v1h-1zM249.5 437.1h1v1h-1zM248.0 437.1h1v1h-1zM242.1 447.7h1v1h-1zM236.0 453.7h1v1h-1zM236.6 429.8h1v1h-1zM259.3 430.8h1v1h-1zM255.9 427.5h1v1h-1zM261.7 418.1h1v1h-1zM257.4 445.9h1v1h-1zM258.5 410.8h1v1h-1zM252.7 431.4h1v1h-1zM262.7 432.3h1v1h-1zM265.0 413.7h1v1h-1zM253.8 432.2h1v1h-1zM262.0 407.7h1v1h-1zM242.1 431.9h1v1h-1zM258.6 425.9h1v1h-1zM256.2 424.6h1v1h-1zM255.9 419.3h1v1h-1zM253.5 420.3h1v1h-1zM264.9 430.4h1v1h-1zM264.0 417.1h1v1h-1zM265.1 412.5h1v1h-1zM261.4 412.7h1v1h-1zM264.1 411.4h1v1h-1zM246.4 435.1h1v1h-1zM255.7 422.2h1v1h-1zM249.8 428.5h1v1h-1zM260.1 412.4h1v1h-1zM258.1 415.2h1v1h-1zM243.5 435.2h1v1h-1zM248.9 423.5h1v1h-1zM264.0 425.8h1v1h-1zM262.3 430.0h1v1h-1zM262.0 433.4h1v1h-1zM248.8 426.8h1v1h-1zM257.4 413.6h1v1h-1zM261.0 419.4h1v1h-1zM245.0 430.0h1v1h-1zM251.7 417.9h1v1h-1zM245.0 424.6h1v1h-1zM260.7 448.4h1v1h-1zM246.0 449.4h1v1h-1zM246.1 423.2h1v1h-1zM248.9 433.5h1v1h-1zM259.3 430.0h1v1h-1zM259.0 421.7h1v1h-1zM243.9 430.7h1v1h-1zM253.1 428.3h1v1h-1zM253.6 413.8h1v1h-1zM245.9 422.9h1v1h-1zM263.1 415.1h1v1h-1zM251.4 420.4h1v1h-1zM243.6 438.3h1v1h-1zM267.7 412.2h1v1h-1zM258.4 413.5h1v1h-1zM255.2 407.1h1v1h-1zM255.3 419.8h1v1h-1zM256.8 409.9h1v1h-1zM262.3 423.2h1v1h-1zM267.3 425.2h1v1h-1zM238.3 417.6h1v1h-1zM263.1 429.2h1v1h-1zM260.5 430.5h1v1h-1zM262.1 422.0h1v1h-1zM249.6 426.3h1v1h-1zM250.3 429.9h1v1h-1zM245.8 440.9h1v1h-1zM263.2 415.8h1v1h-1zM249.6 431.4h1v1h-1zM249.9 435.7h1v1h-1zM258.4 414.1h1v1h-1zM254.9 419.3h1v1h-1zM258.9 426.5h1v1h-1zM266.1 441.1h1v1h-1zM246.2 431.0h1v1h-1zM260.1 426.5h1v1h-1zM249.8 412.7h1v1h-1zM246.7 425.9h1v1h-1zM257.8 415.9h1v1h-1zM254.5 424.4h1v1h-1zM264.1 416.9h1v1h-1zM255.7 427.0h1v1h-1zM253.5 432.7h1v1h-1zM251.0 414.8h1v1h-1zM235.9 420.2h1v1h-1zM249.1 441.8h1v1h-1zM254.1 440.0h1v1h-1zM257.6 424.3h1v1h-1zM237.3 415.7h1v1h-1zM257.0 418.1h1v1h-1zM252.1 417.4h1v1h-1zM252.3 426.6h1v1h-1zM248.9 416.8h1v1h-1zM253.6 433.2h1v1h-1zM269.0 428.6h1v1h-1zM248.5 433.0h1v1h-1zM259.2 422.5h1v1h-1zM251.9 429.3h1v1h-1zM257.5 435.2h1v1h-1zM258.8 444.6h1v1h-1zM257.8 442.3h1v1h-1zM239.6 433.6h1v1h-1zM261.9 402.7h1v1h-1zM265.4 411.9h1v1h-1zM259.4 429.4h1v1h-1zM232.5 444.6h1v1h-1zM241.4 415.7h1v1h-1zM248.6 435.1h1v1h-1zM239.6 427.0h1v1h-1zM265.2 421.3h1v1h-1zM252.3 426.9h1v1h-1zM257.4 412.3h1v1h-1zM248.3 423.5h1v1h-1zM252.4 412.4h1v1h-1zM268.0 423.5h1v1h-1zM262.7 420.5h1v1h-1zM246.8 428.0h1v1h-1zM253.4 419.8h1v1h-1zM266.7 418.8h1v1h-1zM253.9 415.9h1v1h-1zM249.3 432.8h1v1h-1zM241.6 441.7h1v1h-1zM256.3 428.3h1v1h-1zM253.6 435.1h1v1h-1zM256.6 417.0h1v1h-1zM235.0 417.0h1v1h-1zM254.4 422.1h1v1h-1zM251.9 423.6h1v1h-1zM263.9 427.9h1v1h-1zM250.8 417.2h1v1h-1zM262.4 413.0h1v1h-1zM255.9 427.1h1v1h-1zM265.3 413.0h1v1h-1zM257.7 415.9h1v1h-1zM243.7 429.7h1v1h-1zM260.7 422.0h1v1h-1zM258.3 429.0h1v1h-1zM238.1 441.1h1v1h-1zM241.5 429.6h1v1h-1zM267.4 433.5h1v1h-1zM256.1 415.9h1v1h-1zM246.2 417.1h1v1h-1zM269.2 431.3h1v1h-1zM253.6 423.6h1v1h-1zM242.1 429.7h1v1h-1zM256.2 407.0h1v1h-1zM252.3 438.6h1v1h-1zM268.8 414.3h1v1h-1zM242.5 444.0h1v1h-1zM260.7 432.3h1v1h-1zM253.7 416.9h1v1h-1zM239.9 432.8h1v1h-1zM269.2 442.3h1v1h-1zM261.0 417.9h1v1h-1zM259.3 406.2h1v1h-1zM252.1 431.7h1v1h-1zM261.0 407.1h1v1h-1zM232.7 440.7h1v1h-1zM250.9 439.2h1v1h-1zM265.8 432.8h1v1h-1zM240.9 442.0h1v1h-1zM261.4 431.7h1v1h-1zM247.4 441.0h1v1h-1zM250.3 429.0h1v1h-1zM249.1 418.9h1v1h-1zM258.8 423.0h1v1h-1zM243.5 421.1h1v1h-1zM267.6 402.3h1v1h-1zM258.4 435.1h1v1h-1zM265.4 424.4h1v1h-1zM263.9 419.4h1v1h-1zM250.3 425.2h1v1h-1zM258.1 412.6h1v1h-1zM244.9 429.6h1v1h-1zM235.7 432.7h1v1h-1zM252.3 422.9h1v1h-1zM260.2 424.9h1v1h-1zM261.5 428.7h1v1h-1zM239.1 417.7h1v1h-1zM258.8 416.0h1v1h-1zM258.8 441.5h1v1h-1zM258.4 431.6h1v1h-1zM244.8 427.0h1v1h-1zM247.6 430.2h1v1h-1zM244.8 432.1h1v1h-1zM247.4 414.5h1v1h-1zM253.8 424.2h1v1h-1zM260.6 411.8h1v1h-1zM243.2 424.0h1v1h-1zM265.4 416.4h1v1h-1zM240.6 430.0h1v1h-1zM244.2 431.3h1v1h-1zM241.6 421.6h1v1h-1zM256.3 426.9h1v1h-1zM265.9 425.2h1v1h-1zM243.0 441.9h1v1h-1zM255.3 420.6h1v1h-1zM249.8 419.3h1v1h-1zM267.2 411.0h1v1h-1zM243.8 429.5h1v1h-1zM243.2 423.3h1v1h-1zM243.4 438.3h1v1h-1zM263.6 427.9h1v1h-1zM248.9 428.5h1v1h-1zM249.5 439.9h1v1h-1zM268.9 412.9h1v1h-1zM245.7 448.0h1v1h-1zM266.4 430.0h1v1h-1zM254.2 429.7h1v1h-1zM251.4 419.8h1v1h-1zM254.3 452.3h1v1h-1zM246.8 440.2h1v1h-1zM268.0 415.7h1v1h-1zM245.7 437.0h1v1h-1zM243.7 442.6h1v1h-1zM250.5 440.9h1v1h-1zM249.6 431.6h1v1h-1zM249.6 427.5h1v1h-1zM254.1 421.3h1v1h-1zM266.2 424.6h1v1h-1zM250.1 438.2h1v1h-1zM248.2 414.6h1v1h-1zM250.8 426.6h1v1h-1zM269.2 408.5h1v1h-1z" fill="#111"/>
<path d="M258.7 406.4h1v1h-1zM243.2 406.6h1v1h-1zM263.5 406.3h1v1h-1zM241.6 410.8h1v1h-1zM237.7 416.2h1v1h-1zM241.1 406.6h1v1h-1zM242.4 407.0h1v1h-1zM261.2 406.0h1v1h-1zM253.4 412.0h1v1h-1zM234.3 413.0h1v1h-1zM252.9 408.6h1v1h-1zM253.3 411.6h1v1h-1zM253.4 405.3h1v1h-1zM255.3 421.9h1v1h-1zM250.7 403.0h1v1h-1zM228.9 402.5h1v1h-1zM255.0 415.0h1v1h-1zM265.5 408.0h1v1h-1zM254.8 412.5h1v1h-1zM245.7 411.7h1v1h-1zM261.5 404.7h1v1h-1zM251.4 412.6h1v1h-1zM254.4 405.9h1v1h-1zM265.1 409.6h1v1h-1zM255.4 413.4h1v1h-1zM267.7 418.0h1v1h-1zM244.8 408.6h1v1h-1zM251.3 411.9h1v1h-1zM246.2 405.4h1v1h-1zM249.3 409.5h1v1h-1zM246.3 412.7h1v1h-1zM262.7 402.7h1v1h-1zM264.1 411.1h1v1h-1zM244.3 416.1h1v1h-1zM248.3 403.9h1v1h-1zM250.8 417.0h1v1h-1zM252.5 405.8h1v1h-1zM258.3 407.2h1v1h-1zM255.5 410.4h1v1h-1zM260.8 414.6h1v1h-1zM249.1 407.3h1v1h-1zM259.0 415.6h1v1h-1zM251.1 411.3h1v1h-1zM256.6 404.2h1v1h-1zM264.4 410.6h1v1h-1zM253.9 407.5h1v1h-1zM249.6 405.9h1v1h-1zM261.7 403.5h1v1h-1zM249.1 412.0h1v1h-1zM256.4 408.5h1v1h-1zM242.3 408.5h1v1h-1zM256.7 409.9h1v1h-1zM232.8 412.7h1v1h-1zM268.0 409.8h1v1h-1zM261.7 405.9h1v1h-1zM245.3 413.0h1v1h-1zM254.3 409.2h1v1h-1zM266.5 415.8h1v1h-1zM235.6 413.4h1v1h-1zM262.0 414.9h1v1h-1zM255.4 412.6h1v1h-1zM264.8 412.1h1v1h-1zM252.9 404.1h1v1h-1zM245.5 407.0h1v1h-1zM251.3 405.0h1v1h-1zM261.7 407.9h1v1h-1zM250.5 408.3h1v1h-1zM250.1 402.6h1v1h-1zM264.8 406.4h1v1h-1zM240.8 415.6h1v1h-1zM243.4 405.3h1v1h-1zM247.8 409.7h1v1h-1zM252.8 413.0h1v1h-1zM257.3 402.9h1v1h-1zM251.9 410.7h1v1h-1zM257.9 403.7h1v1h-1zM251.7 409.1h1v1h-1zM251.8 403.6h1v1h-1zM250.6 412.6h1v1h-1zM252.9 412.7h1v1h-1zM250.4 412.0h1v1h-1zM248.1 407.8h1v1h-1zM258.8 411.6h1v1h-1zM257.7 409.3h1v1h-1zM267.7 403.3h1v1h-1zM239.0 409.3h1v1h-1zM248.5 407.4h1v1h-1zM256.4 407.2h1v1h-1zM252.4 409.1h1v1h-1zM260.1 408.8h1v1h-1zM264.7 417.6h1v1h-1zM240.9 406.2h1v1h-1zM261.2 402.1h1v1h-1zM255.9 411.5h1v1h-1zM263.1 410.4h1v1h-1zM250.4 405.2h1v1h-1zM235.2 409.6h1v1h-1zM239.6 414.6h1v1h-1zM242.4 411.6h1v1h-1zM252.3 411.5h1v1h-1zM260.6 409.3h1v1h-1zM229.1 403.9h1v1h-1zM243.6 407.9h1v1h-1zM256.5 410.5h1v1h-1zM250.9 410.4h1v1h-1zM259.8 412.8h1v1h-1z" fill="#111"/>
<path d="M258.5 444.3h1v1h-1zM257.6 411.8h1v1h-1zM240.8 447.8h1v1h-1zM238.6 407.2h1v1h-1zM235.9 426.7h1v1h-1zM234.1 448.5h1v1h-1zM242.1 423.8h1v1h-1zM225.7 441.0h1v1h-1zM242.3 433.8h1v1h-1zM247.7 452.5h1v1h-1zM220.9 437.2h1v1h-1zM254.6 433.0h1v1h-1zM221.8 446.4h1v1h-1zM253.1 450.4h1v1h-1zM234.9 445.6h1v1h-1zM248.2 428.3h1v1h-1zM256.0 425.3h1v1h-1zM238.9 444.3h1v1h-1zM218.6 452.8h1v1h-1zM248.2 448.5h1v1h-1zM234.0 444.3h1v1h-1zM259.8 441.3h1v1h-1zM231.4 448.7h1v1h-1zM239.7 434.2h1v1h-1zM257.2 405.7h1v1h-1zM244.3 457.7h1v1h-1zM241.3 427.2h1v1h-1zM244.3 440.4h1v1h-1zM231.8 448.4h1v1h-1zM229.0 444.1h1v1h-1zM238.1 436.6h1v1h-1zM247.9 448.9h1v1h-1zM236.5 440.6h1v1h-1zM251.8 413.0h1v1h-1zM236.0 449.4h1v1h-1zM240.0 422.6h1v1h-1zM242.6 433.7h1v1h-1zM242.8 428.2h1v1h-1zM236.9 452.2h1v1h-1zM258.6 424.3h1v1h-1zM239.2 431.3h1v1h-1zM254.8 426.7h1v1h-1zM224.5 440.6h1v1h-1zM240.2 424.9h1v1h-1zM243.8 434.2h1v1h-1zM262.8 424.7h1v1h-1zM236.1 434.2h1v1h-1zM225.1 447.1h1v1h-1zM238.9 441.3h1v1h-1zM254.4 453.6h1v1h-1zM249.6 446.7h1v1h-1zM242.6 427.9h1v1h-1zM250.6 419.3h1v1h-1zM254.0 427.8h1v1h-1zM233.1 446.1h1v1h-1zM242.9 448.7h1v1h-1zM232.4 446.7h1v1h-1zM253.4 422.9h1v1h-1zM266.9 431.0h1v1h-1zM242.1 437.5h1v1h-1zM245.7 415.2h1v1h-1zM230.4 423.7h1v1h-1zM241.7 459.7h1v1h-1zM226.8 462.2h1v1h-1zM262.8 426.0h1v1h-1zM224.9 454.4h1v1h-1zM241.8 422.5h1v1h-1zM256.4 434.8h1v1h-1zM244.0 433.7h1v1h-1zM218.8 462.7h1v1h-1zM242.6 427.0h1v1h-1zM257.0 440.9h1v1h-1zM236.4 432.7h1v1h-1zM234.7 427.9h1v1h-1zM259.7 432.9h1v1h-1zM226.1 442.7h1v1h-1zM243.3 432.7h1v1h-1zM254.4 413.4h1v1h-1zM247.0 424.9h1v1h-1zM263.5 434.5h1v1h-1zM261.3 432.7h1v1h-1zM249.8 421.1h1v1h-1zM237.8 449.5h1v1h-1zM248.8 436.0h1v1h-1zM221.2 438.1h1v1h-1zM251.6 431.4h1v1h-1zM236.6 460.3h1v1h-1zM238.8 458.1h1v1h-1zM228.9 429.2h1v1h-1zM249.8 427.4h1v1h-1zM233.2 457.8h1v1h-1zM221.2 449.7h1v1h-1zM267.2 420.8h1v1h-1zM226.0 434.1h1v1h-1zM250.7 429.7h1v1h-1zM268.7 429.5h1v1h-1zM257.4 414.6h1v1h-1zM234.4 442.9h1v1h-1zM266.8 422.2h1v1h-1zM265.5 423.2h1v1h-1zM251.2 425.0h1v1h-1zM243.9 430.2h1v1h-1zM237.9 450.3h1v1h-1zM240.4 433.1h1v1h-1zM252.0 411.9h1v1h-1zM260.7 402.3h1v1h-1zM248.3 419.0h1v1h-1zM242.6 432.7h1v1h-1zM234.9 448.9h1v1h-1zM244.6 430.9h1v1h-1zM247.9 442.2h1v1h-1z" fill="#111"/>
<path d="M211.5 463.8 L211 455.5 L216 452 L227 450.5 L235 452 L237.5 457 L237.5 463.8 Z" fill="#0a0a0a"/>
<path d="M241.5 413.8 L265.8 418.8 L257.7 458.4 L247.7 452.2 L231.5 433.5 Z" fill="none" stroke="#111" stroke-width="1.1"/>
<rect x="279.4" y="400.9" width="65.5" height="66.0" fill="#333333"/>
<g filter="url(#b1)">
<circle cx="307.1" cy="403.7" r="1.7" fill="#555555"/>
<circle cx="311.0" cy="409.1" r="1.5" fill="#505050"/>
<circle cx="315.6" cy="410.6" r="1.5" fill="#4a4a4a"/>
<circle cx="323.3" cy="411.4" r="1.7" fill="#464646"/>
<circle cx="324.9" cy="409.9" r="1.9" fill="#505050"/>
<circle cx="331.8" cy="409.1" r="1.5" fill="#4a4a4a"/>
<circle cx="341.8" cy="405.2" r="1.7" fill="#4a4a4a"/>
<circle cx="342.6" cy="414.5" r="1.7" fill="#505050"/>
<circle cx="298.7" cy="411.4" r="1.5" fill="#464646"/>
<circle cx="295.6" cy="414.5" r="1.5" fill="#555555"/>
<circle cx="301.0" cy="412.2" r="1.7" fill="#4a4a4a"/>
<circle cx="291.0" cy="421.4" r="1.5" fill="#555555"/>
<circle cx="289.4" cy="424.5" r="1.9" fill="#464646"/>
<circle cx="297.1" cy="421.4" r="1.5" fill="#505050"/>
<circle cx="298.7" cy="426.8" r="1.5" fill="#4a4a4a"/>
<circle cx="292.5" cy="429.1" r="1.5" fill="#505050"/>
<circle cx="288.6" cy="431.5" r="1.9" fill="#464646"/>
<circle cx="282.5" cy="433.8" r="1.9" fill="#4a4a4a"/>
<circle cx="320.2" cy="423.0" r="1.5" fill="#505050"/>
<circle cx="324.1" cy="427.6" r="1.9" fill="#555555"/>
<circle cx="320.2" cy="432.2" r="1.5" fill="#4a4a4a"/>
<circle cx="317.2" cy="435.3" r="1.9" fill="#464646"/>
<circle cx="311.8" cy="437.6" r="1.5" fill="#4a4a4a"/>
<circle cx="313.3" cy="441.5" r="1.7" fill="#464646"/>
<circle cx="308.7" cy="442.2" r="1.9" fill="#4a4a4a"/>
<circle cx="305.6" cy="445.3" r="1.7" fill="#4a4a4a"/>
<circle cx="315.6" cy="442.2" r="1.7" fill="#505050"/>
<circle cx="321.8" cy="440.7" r="1.5" fill="#464646"/>
<circle cx="326.4" cy="443.0" r="1.7" fill="#505050"/>
<circle cx="331.0" cy="436.1" r="1.7" fill="#4a4a4a"/>
<circle cx="330.3" cy="444.6" r="1.5" fill="#4a4a4a"/>
<circle cx="335.7" cy="443.8" r="1.7" fill="#4a4a4a"/>
<circle cx="340.3" cy="426.8" r="1.9" fill="#555555"/>
<circle cx="341.8" cy="434.5" r="1.7" fill="#4a4a4a"/>
<circle cx="342.6" cy="446.9" r="1.7" fill="#464646"/>
<circle cx="332.6" cy="450.0" r="1.5" fill="#464646"/>
<circle cx="337.2" cy="450.7" r="1.9" fill="#4a4a4a"/>
<circle cx="285.6" cy="443.0" r="1.5" fill="#555555"/>
<circle cx="281.7" cy="446.9" r="1.9" fill="#4a4a4a"/>
<circle cx="287.1" cy="449.2" r="1.5" fill="#464646"/>
<circle cx="291.0" cy="450.0" r="1.7" fill="#464646"/>
<circle cx="294.0" cy="449.2" r="1.9" fill="#4a4a4a"/>
<circle cx="298.7" cy="447.6" r="1.5" fill="#464646"/>
<circle cx="303.3" cy="449.2" r="1.5" fill="#4a4a4a"/>
<circle cx="302.5" cy="453.8" r="1.9" fill="#4a4a4a"/>
<circle cx="292.5" cy="455.3" r="1.5" fill="#4a4a4a"/>
<circle cx="296.4" cy="462.3" r="1.9" fill="#464646"/>
<circle cx="314.1" cy="463.8" r="1.5" fill="#464646"/>
<circle cx="324.9" cy="462.3" r="1.7" fill="#4a4a4a"/>
<circle cx="309.5" cy="450.7" r="1.5" fill="#505050"/>
</g>
<g filter="url(#b2)">
<ellipse cx="294" cy="423.7" rx="2.15" ry="2.15" fill="#7a7a7a"/><ellipse cx="294" cy="423.7" rx="1.15" ry="1.15" fill="#fff"/>
<ellipse cx="338.4" cy="439.9" rx="2.25" ry="2.1" fill="#7a7a7a"/><ellipse cx="338.4" cy="439.9" rx="1.25" ry="1.1" fill="#fff"/>
<ellipse cx="300.5" cy="458.7" rx="2.7" ry="2.1" fill="#7a7a7a"/><ellipse cx="300.5" cy="458.7" rx="1.7" ry="1.1" fill="#fff"/>
</g>
<text x="363.6" y="427" font-size="10.1" text-anchor="start" font-weight="normal" fill="#111" >PBMC</text>
<text x="363.6" y="439.8" font-size="10.1" text-anchor="start" font-weight="normal" fill="#111" >+TB40/E</text>
</svg>
</body></html>
